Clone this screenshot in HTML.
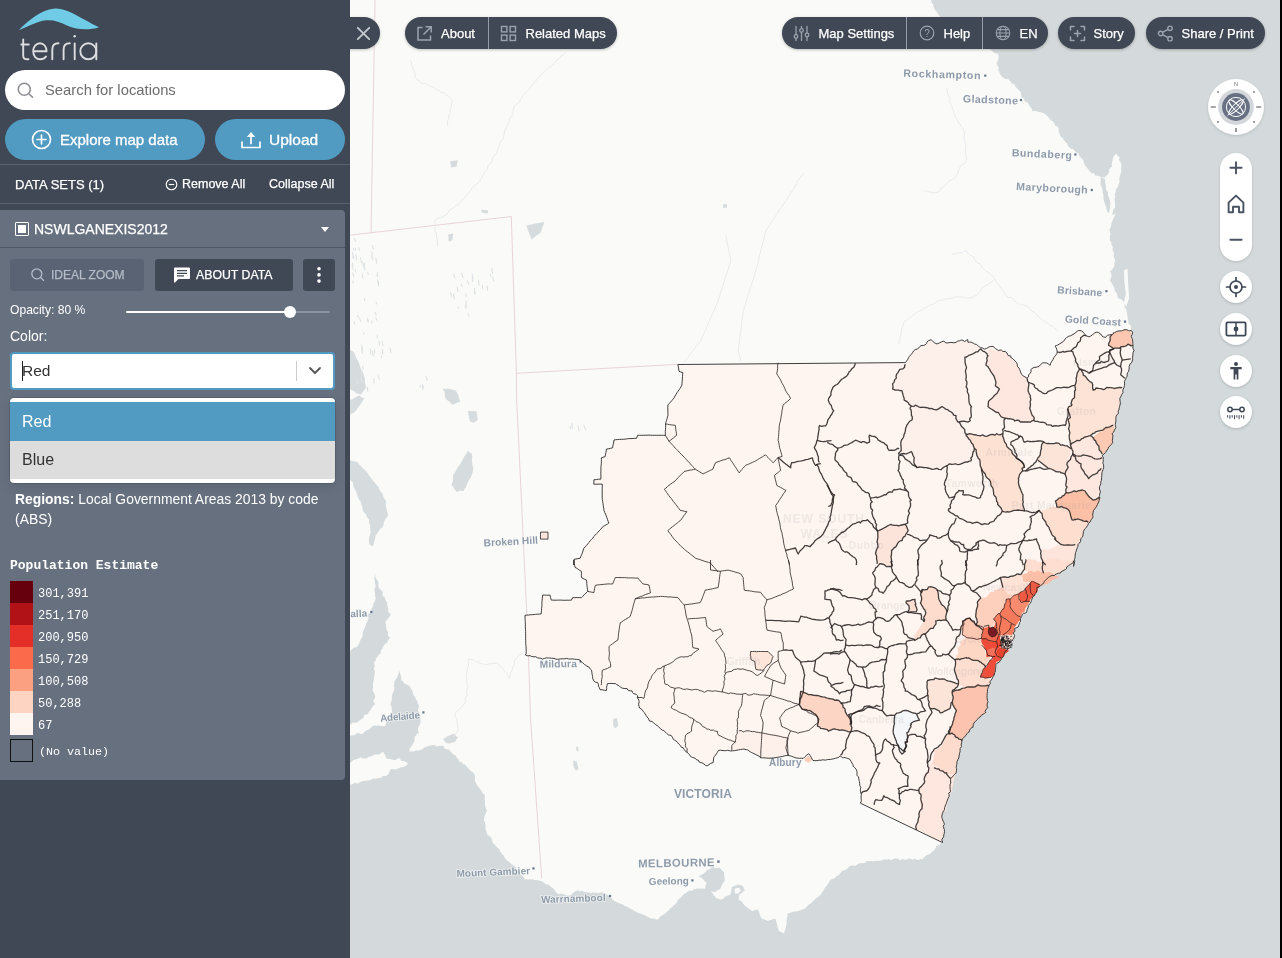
<!DOCTYPE html>
<html lang="en">
<head>
<meta charset="utf-8">
<title>Terria Map</title>
<style>
*{box-sizing:border-box;margin:0;padding:0}
html,body{width:1282px;height:958px;overflow:hidden;background:#d4d9dc;font-family:"Liberation Sans",sans-serif;}
#app{position:relative;width:1282px;height:958px;overflow:hidden;}
.abs{position:absolute}
#map{will-change:transform;transform:translateZ(0);position:absolute;left:350px;top:0;width:930px;height:958px;background:#d4d9dc;overflow:hidden}
#edge{position:absolute;left:1280px;top:0;width:2px;height:958px;background:#000}
#side{will-change:transform;transform:translateZ(0);position:absolute;left:0;top:0;width:350px;height:958px;background:#3f4854;color:#fff}
/* sidebar */
#search{position:absolute;left:5px;top:69.5px;width:340px;height:40px;border-radius:20px;background:#fff}
#search span{position:absolute;left:40px;top:12px;font-size:14.8px;color:#6d6d6d}
.bigbtn{-webkit-text-stroke:.3px #fff;position:absolute;top:119px;height:41px;border-radius:21px;background:#519ac2;color:#fff;font-size:16px}
.bigbtn span{position:absolute;top:11px;white-space:nowrap}
.hr{position:absolute;left:0;width:350px;height:1px;background:#566070}
#dshead{-webkit-text-stroke:.25px #fff;position:absolute;left:0;top:166px;width:350px;height:38px;font-size:13px}
#dshead span{position:absolute;top:11px;white-space:nowrap}
#panel{position:absolute;left:0;top:210px;width:345px;height:570px;background:#66707f;border-radius:0 4px 4px 0}
#phead{-webkit-text-stroke:.25px #fff;position:absolute;left:0;top:0;width:345px;height:38px;border-bottom:1px solid #4d5766}
.sbtn{-webkit-text-stroke:.25px currentColor;position:absolute;top:48.5px;height:32px;border-radius:3px;font-size:13px}
.sbtn span{position:absolute;top:9px;white-space:nowrap}
#select{position:absolute;left:10px;top:142px;width:325px;height:38px;border:2px solid #519ac2;border-radius:4px;background:#fff;color:#333}
#menu{position:absolute;left:10px;top:188px;width:325px;height:85px;background:#fff;border-radius:4px;box-shadow:0 0 0 1px rgba(0,0,0,.1),0 4px 11px rgba(0,0,0,.1)}
.opt{position:absolute;left:0;width:325px;height:38.5px;font-size:16px}
.opt span{position:absolute;left:12px;top:10.5px}
.leg{position:absolute;left:10px;width:23px;height:22px}
.legt{position:absolute;left:38px;font-family:"Liberation Mono",monospace;font-size:12px;color:#fff;white-space:nowrap}
/* top bar */
.pill{position:absolute;top:17px;height:32px;background:#3f4854;color:#fff;font-size:13px;box-shadow:0 1px 3px rgba(0,0,0,.25);-webkit-text-stroke:.25px #fff}
.pill span{position:absolute;top:8.5px;white-space:nowrap}
.circ{position:absolute;left:870px;width:32px;height:32px;border-radius:16px;background:#fff;box-shadow:0 1px 3px rgba(0,0,0,.18)}
.maplbl{position:absolute;font-size:10px;color:#8c99a8;font-weight:bold;white-space:nowrap;letter-spacing:.2px}
</style>
</head>
<body>
<div id="app">
<div id="map">
<svg class="abs" style="left:0;top:0" width="930" height="958" viewBox="350 0 930 958">
<rect x="350" y="0" width="930" height="958" fill="#fafaf8"/>
<path d="M930.9 -0.6 L931.4 2 L932.1 3.6 L933.7 4.6 L933.1 5.6 L933.7 7.3 L935.2 10.2 L937 12 L937.8 14.1 L939.2 15.5 L940.3 16.8 L940.9 17.6 L942.1 18.3 L942.3 19.1 L943.4 19.7 L945.4 21.5 L947.2 23 L948.8 24.8 L950.9 26.3 L952.3 27 L953.2 28 L954.3 28.4 L955.9 29.6 L957.5 30.9 L959 32.1 L960.1 32.5 L961.3 34 L963.5 35.2 L965.4 35.3 L967.2 36.1 L969 37.2 L971.2 38.5 L973 39.8 L974 41.2 L975.3 42.7 L977.4 43.8 L979.1 44.1 L980.8 45.1 L983 46.5 L984.2 47 L986.3 46.6 L987.6 48.1 L988.7 48.7 L989.5 49.2 L991.9 50.4 L993.4 52.2 L994.9 53.3 L997.8 53.5 L998.4 55 L998.7 57.1 L998.3 59.3 L997.4 61.6 L996.5 63.8 L997.6 66.1 L998.3 66.6 L998.7 67.8 L998.1 70.4 L999.4 71.8 L999.7 73.5 L1000.1 74.3 L1002.1 77.1 L1004.3 78.3 L1005.1 79 L1007.3 78.8 L1008.7 79.4 L1010.6 81.7 L1011.7 83.5 L1013.5 83.8 L1014.8 84.8 L1015.1 86.3 L1016.8 88.1 L1018.9 90.3 L1019.8 91.1 L1020.7 92.3 L1021 94.6 L1021.3 96.7 L1023.6 98.6 L1024.2 100.2 L1025.6 101.9 L1027.8 102.6 L1028.6 104.6 L1030.8 107.2 L1031.9 109.1 L1032.5 111.3 L1033.9 111 L1036.2 111.2 L1038.2 111.7 L1040.8 112.2 L1041.5 112.6 L1043.7 113.2 L1044.8 113.9 L1046.4 115 L1047.8 116.6 L1048.9 117.6 L1049.8 119.1 L1051 120.6 L1053.1 121.3 L1054.5 123.7 L1055.3 125.8 L1057.9 126.8 L1058.6 128.4 L1058.5 131.3 L1058.9 132.6 L1059.6 133.6 L1060.4 136.3 L1061.7 137.6 L1063.2 138.3 L1063.7 139.9 L1064.9 141.4 L1066.4 142.8 L1067.2 143.4 L1068.2 146.4 L1070.2 148.1 L1071 148.7 L1072.3 148.9 L1073.9 150 L1076.1 152.4 L1077.3 152.8 L1078.9 153.8 L1079 155.5 L1080.3 157 L1081.8 158.6 L1083.4 160.5 L1083.7 162.1 L1084.4 164.3 L1085.6 166.2 L1086.9 167.6 L1088 168.9 L1089.5 171 L1091.7 173.3 L1092.9 173.1 L1094.6 173.5 L1094.7 175.3 L1096.3 175.5 L1098.8 176.2 L1100.5 176.7 L1102.2 176.9 L1105 177.6 L1105.7 176 L1107.9 174.5 L1109.1 172 L1109 169.9 L1109.5 168.5 L1110.9 167.3 L1112 166.7 L1111.7 164.9 L1111.9 162.9 L1112.5 160.8 L1112.7 159.1 L1113.6 157.1 L1114.2 155.2 L1115.1 155.1 L1116.6 153.6 L1117.2 155.2 L1117.7 156 L1119.3 156.8 L1119.7 157.9 L1118.8 159.7 L1120.5 162.1 L1121.2 164.3 L1121.6 165.1 L1121.2 167.4 L1120.9 169.5 L1121.4 171.8 L1120.5 174.1 L1119.8 175.8 L1119.7 177.2 L1119.4 178.3 L1119.3 180.2 L1119.7 181.5 L1118.8 183.4 L1118.1 186.4 L1117.1 188.2 L1115.7 189.2 L1116 190.9 L1115.6 192.8 L1114.4 195 L1115.5 196.4 L1114.8 198.2 L1114.4 199.7 L1115.1 201.8 L1115 203.4 L1115.1 205.3 L1115 207.7 L1113.4 209.5 L1112.8 211.5 L1112.6 213.6 L1111.9 214.9 L1115.6 214.1 L1115 215.3 L1113.8 217.5 L1112.9 219.8 L1112 222.1 L1111.4 223.4 L1111.4 225.1 L1110.9 226.6 L1109.9 228.9 L1109.3 230.1 L1109.8 231.6 L1110.8 234 L1109.9 235.6 L1109.9 238.4 L1110.1 241.1 L1111.2 242.3 L1111.4 243.5 L1111.7 244.9 L1112.9 246.9 L1112.4 248.8 L1112.8 250.2 L1113.5 251.4 L1113.9 253.1 L1113.5 256.1 L1114.6 258.4 L1115.4 260.9 L1114.4 262.8 L1114.3 264.8 L1114.2 266.4 L1113.8 266.9 L1112.8 268.5 L1111.6 270.6 L1109.9 271.3 L1111.1 273.5 L1111.6 276 L1110.8 278.5 L1109.9 280.8 L1111 282.1 L1112.5 284.4 L1113.8 287 L1114.3 287.7 L1114.7 289.8 L1114.8 291 L1116.3 292.4 L1117.3 295.3 L1118.1 298.3 L1120 298.7 L1122.1 300.1 L1123.4 301.7 L1124.3 302.5 L1124.8 305 L1124.7 307.9 L1125.9 308.6 L1126.3 310.1 L1126.9 312 L1127.2 314.6 L1127.7 318.5 L1128 319.4 L1128.5 321 L1128.6 324.1 L1129.7 324.4 L1130.4 325.2 L1131 326.4 L1130.9 329.5 L1132 331.3 L1131.3 330.5 L1132.6 332.2 L1132.3 334.2 L1131.2 336.3 L1132.1 338.4 L1132.5 339.5 L1132.7 341.4 L1132.8 343.7 L1133 346.1 L1132.9 348 L1133.3 349.4 L1134.2 350.1 L1133.1 352.3 L1132.9 354.7 L1132.6 357.3 L1132.6 359.8 L1131.8 362.2 L1131.2 363.1 L1130.3 363.6 L1129.1 366.4 L1129.2 367.2 L1129 369.3 L1128.5 371.7 L1127.6 372.6 L1127.1 374.2 L1127.2 376.1 L1126.3 377.4 L1125.5 379.3 L1124.4 381.6 L1124.6 383.1 L1124.5 385.6 L1124 387.3 L1123.1 389.4 L1122.7 391.1 L1123.2 392.2 L1121.7 394.6 L1120.8 396.7 L1119.8 398.4 L1120.1 401.5 L1120.4 402.9 L1120 405 L1119.4 407.3 L1118.9 409.9 L1118.2 410.9 L1118.2 411.9 L1118.5 413.2 L1116.9 415 L1116.1 416.2 L1115.9 418.6 L1115.8 422.1 L1115.2 424.3 L1115.4 425.9 L1116 427.2 L1115 429 L1114.3 430.7 L1113.7 432.1 L1112 433.7 L1112.8 435.4 L1112.8 437.6 L1112.3 440.3 L1112.7 442.6 L1111.5 444.2 L1110.4 445.6 L1108.6 447.1 L1108.1 448.6 L1107.1 450 L1105.4 452.6 L1104.2 453.9 L1101.9 455.7 L1103.2 456.9 L1103.2 459.7 L1103.2 461.8 L1102.8 462.9 L1103.6 464.9 L1103.7 467.3 L1103.2 469.4 L1102.4 471.1 L1101.9 472.8 L1101.8 475.4 L1101.6 477.8 L1101.4 480.4 L1100.8 481.8 L1100.8 483.1 L1100.8 483.9 L1100.1 485.5 L1099.4 486.9 L1099.5 489 L1100.4 491.6 L1099.8 493.8 L1099.5 495.4 L1099.1 496.6 L1099.4 498.5 L1099.2 500 L1098.6 502 L1097.4 504.5 L1096.7 506.2 L1095 508.5 L1093.5 510.5 L1092.8 513.9 L1092.7 515.2 L1092.9 516.7 L1092.7 517.8 L1091.9 518.9 L1091.1 519.8 L1090 522 L1088.5 523.4 L1087.8 525.2 L1086.4 527.2 L1085.2 528.7 L1084.1 529.9 L1083.4 531.7 L1083.2 533.8 L1082.8 536.1 L1082 537.4 L1080.9 538.7 L1080.5 541.5 L1079.2 543.3 L1078.1 544.4 L1077.8 546.7 L1077.3 547.7 L1076.8 548.9 L1076.3 550.8 L1075.6 552.4 L1075.2 555.1 L1075 557.5 L1074.5 559.4 L1074.7 561.5 L1073.9 564 L1073.5 566.4 L1074.1 563.5 L1073.4 560.8 L1073.3 562.6 L1072.1 563.5 L1070.5 564.3 L1068.6 565.6 L1066.7 566.9 L1066.6 568.5 L1065.6 569.3 L1063 570.8 L1061.1 571.8 L1060.4 573 L1058.5 573.3 L1056.6 573.9 L1054.6 574.9 L1054.4 575.6 L1051.9 575.5 L1049.8 576.5 L1048.5 577.4 L1046.3 579.3 L1044.4 581.3 L1044.1 582.3 L1042.8 584 L1040.6 585.6 L1039.1 586.9 L1036.9 587.2 L1037 590 L1036.4 592.2 L1035.3 593.4 L1034.9 594.6 L1034.4 595.8 L1032.6 596.9 L1032.2 598.6 L1031.5 600.3 L1031.3 601.5 L1030 603.5 L1028.2 605.7 L1028.3 607 L1027.2 609.3 L1026.6 612.1 L1025.8 613 L1023.4 613.5 L1022.2 614.5 L1021.6 616.6 L1020.5 618.5 L1020.4 621.6 L1019.5 622.7 L1019.1 624.4 L1018.1 627.1 L1015.8 628 L1014.6 628.4 L1014.9 631.2 L1014.1 632.2 L1013.2 632.8 L1014.6 635.4 L1014.2 637 L1013.5 639 L1011.4 641 L1009.8 642.6 L1008.3 644.5 L1007.8 647.9 L1007.3 649.9 L1006.4 650.3 L1005 651.6 L1004.2 653.8 L1003.7 655.7 L1002.9 657.1 L1002 657.6 L1001.1 659.6 L999.9 661.1 L999 662.4 L997 663.1 L995.8 664.6 L995.8 666.5 L995.5 669.2 L995.2 672.4 L994.5 673 L994.2 675 L992.9 676.9 L992.1 678.8 L989.9 681.8 L990.4 683.2 L989.1 685.4 L988.2 687.8 L987.5 689.3 L987.5 691.7 L987.2 693.4 L987.1 695.5 L987 697.2 L987.4 700.3 L988 701.3 L987.2 704 L987.1 706.6 L988 707.2 L986.5 709 L985 711.3 L985.8 712.4 L984.7 713.2 L981.5 715.2 L980 717.1 L978.8 717.7 L977.3 719.5 L975.7 721.2 L973.9 723 L973.3 724.7 L973 727.3 L972 727.2 L969.8 729.8 L968.9 732.2 L967.9 732.6 L966.6 734 L966 735.4 L963.8 737.5 L962.2 739 L962.1 740.4 L961.6 742.8 L961.1 745 L961.5 746.6 L960.1 748.7 L960.1 750.5 L960.1 751.6 L959.5 753.5 L959.1 756 L958.8 758 L958.1 759.2 L957 761.7 L956.9 763.7 L956.5 765.7 L956.2 767.6 L956.6 768.4 L956.5 770.6 L956.1 772.8 L954.7 774.3 L953.2 775.9 L952 777.6 L950.3 778.3 L950.5 779.5 L950.8 783.1 L950.1 784.2 L950 786.6 L950.2 789.4 L950.6 791.7 L948.6 793.2 L949.1 794.5 L949.2 796.3 L948.2 798.2 L946.8 801.8 L946.4 803.4 L945.5 805.1 L944.7 807.5 L944.4 809.8 L943.2 811.7 L942.3 813.9 L941.8 816.2 L942 818.6 L942.4 818.9 L943 821 L943.8 822.3 L944.4 824.4 L943.2 826.2 L944.3 829.5 L944.5 831.6 L944.2 833.6 L943.5 836.3 L943.8 836.4 L941.9 839.5 L942.2 841 L942.6 842.6 L940.3 843.7 L939.4 844.8 L938 845.4 L936.2 845.8 L936 847.7 L934.8 848.9 L933.9 850.4 L932.5 851.6 L931.3 852.5 L930 854 L928.3 854.4 L925.7 855.7 L924 857.2 L923 859.2 L920.6 859.1 L918.4 859.9 L916.3 859.8 L914.9 858.5 L912.8 859.8 L911 858.8 L909.3 858.5 L907.3 859 L905.5 860.1 L903.5 859.3 L901.8 859.1 L900.7 860.4 L897.5 858.4 L895.6 858.2 L893.6 858.7 L891.2 860.3 L889.1 858.9 L887.8 858.9 L887.3 860.1 L885.3 859.2 L884 859.6 L882.6 860 L880 860.7 L877.9 860.8 L875.8 860.8 L873.9 861.3 L871.3 861.1 L868.9 861.3 L866.5 861.1 L865.8 862.3 L864.5 863.1 L862.4 863.3 L859.7 863.2 L858.8 863.5 L857 864.7 L855.3 865.9 L853.6 865.4 L851.8 865.6 L849.9 866 L848.9 867 L847.5 868.2 L845.6 869.9 L843.2 870.3 L841.5 871.4 L840 873.8 L838.5 875.3 L836.5 876.2 L835.9 877 L834.3 878.4 L832.2 879 L830.1 880.3 L828.7 882.4 L827.7 884.3 L826.5 886.1 L825.1 887.5 L824.3 888.7 L823.2 890.9 L822 892.5 L820.6 894.7 L818.8 896.5 L817.6 897.3 L815.6 898.6 L814.4 899.9 L812.8 901.2 L811.7 902.7 L809.7 903.9 L808.2 905.3 L806.5 907.1 L805.2 908.4 L803.7 909.1 L801.5 910.1 L799.6 910.6 L797.6 911 L796.1 911.6 L793.8 911.6 L791.8 912.2 L789.7 913 L787.6 913.3 L787.6 915.3 L787.1 917.7 L786.7 919.5 L786.6 921.5 L786.7 923.5 L786.1 925.6 L785.8 927.6 L785.3 929.4 L784.7 931.3 L783.8 933.4 L782.3 932.5 L780.5 931.8 L778.9 931.1 L778.4 929.4 L777.8 927.7 L777.4 925.6 L777 923.9 L776.4 921.9 L775.9 920.1 L775.3 918.4 L773.4 919 L771.5 919.7 L769.7 920.3 L767.7 920.9 L765.6 920.1 L763.5 919.3 L761.5 918.5 L760.8 916.7 L759.8 915.1 L759 912.3 L758.2 910.6 L757.9 909.4 L755.4 910 L752.5 911 L751.3 910.6 L750.1 909.5 L748.6 908.6 L746.5 907 L744.7 905.5 L742.9 903.5 L741.9 901.6 L740.3 900.8 L738.8 899.9 L738.7 897.5 L739.6 894 L741.1 893.4 L742.7 891.7 L744.7 890.6 L744 888.5 L742.8 886 L740.9 884.9 L738.9 884.8 L736.9 885 L735.2 885.8 L734.2 885.9 L732 887.3 L731.3 889.4 L731.3 892.1 L730 895.1 L728.1 895.4 L726.1 896.2 L724.4 896.9 L724.1 898.3 L722.9 898.8 L720.8 899.8 L719 898.9 L717.2 898.5 L715.6 897.6 L714.5 896.1 L713 894.2 L712 892.5 L710.2 890.9 L713.2 891.7 L715.2 892.3 L716.6 890.6 L718.4 889.7 L719.9 889.5 L720.9 887.5 L721.9 885.2 L723.3 882.4 L724.9 880.4 L724.5 878 L724.3 875.9 L724.1 874.1 L724 872.3 L722.3 870.8 L721.4 869.6 L719.3 867.8 L717 867.9 L714.1 867.8 L712.5 867 L710.5 868.3 L709.2 869.5 L706.9 870.1 L705.8 872.1 L704.8 872.6 L703.4 873.8 L701.1 875.1 L699.3 875.9 L698.3 876.2 L699.9 877.1 L701.7 878 L703 879.2 L704.5 881.2 L706.7 882.7 L706.1 884.2 L705.5 886 L705.5 888.6 L703.5 888.7 L701.5 888.6 L699.8 888.7 L697.7 888.4 L695.6 888.9 L693.8 889.2 L692 891 L689.9 890.6 L687.6 891.7 L685.9 892.9 L684.3 893.9 L682.8 895 L682.3 896 L680.9 897.5 L679.2 898.6 L677.6 900.5 L676.8 902.5 L675.1 904.4 L673.4 905.4 L672.2 907.3 L670.2 908.3 L669.2 909.7 L667.8 911 L666.1 912.6 L664.9 913.8 L663.9 914.4 L662.4 915.3 L660.4 916.5 L659.6 917.6 L658.5 918.9 L656.7 919.7 L654.8 918.7 L653.4 918.5 L651 918.4 L648.9 917.4 L646.8 916.3 L644.6 914.9 L642.5 914.2 L640.9 913.7 L638.7 912.9 L637 912.3 L635.6 911.6 L634.4 911.1 L632.5 909.6 L631 908.9 L629.4 907.9 L627.8 907 L625.6 906.3 L623.8 905.6 L622.8 904.6 L620.4 903.7 L618.8 903 L616.5 902 L614.3 901 L612.6 899.6 L611.6 898.1 L610.4 897 L608.1 895.5 L607 894.8 L605.9 893.5 L604.2 892.7 L602.2 892.5 L600.2 892.5 L598.5 892.9 L596.5 892.8 L594.4 892.6 L592.3 892.5 L590.3 893.3 L588.1 892.6 L586.1 892 L584.3 891.9 L582.9 891.2 L581.4 890.8 L579.8 891.5 L578.1 890.3 L576.5 890.7 L574.2 891.9 L572.7 893.2 L571.1 895.1 L569.8 895.5 L567.8 895.5 L566 895.4 L564.9 894.8 L563.3 894.2 L561 893.5 L559.5 894.3 L557.7 893.7 L555.4 891.6 L554.5 889.9 L552.7 888.1 L550.8 886.7 L549.4 885.5 L548.7 885.1 L546.8 884.5 L544.9 883.7 L544 882.8 L542.3 881.6 L540 880.8 L537.8 880.3 L535.8 880.3 L534.4 880 L533 879.4 L530.4 879.3 L528.5 879.4 L526.7 879.3 L525 879.5 L523.5 877.1 L522 875.8 L520.9 874 L519.5 873.1 L517.3 870.9 L516.3 868.8 L515.6 866.9 L514.2 865.6 L511.2 864.3 L510.5 862.8 L509.1 862.2 L508.4 861.2 L507.2 860.7 L505.1 858.4 L503.8 855.8 L501.9 853.9 L501.1 852.6 L500.1 851.5 L499.8 850.6 L499.5 849.2 L498.2 848.4 L495.9 846.1 L494 844.1 L492.2 841.8 L492.1 840.3 L491.5 837.9 L490.7 837 L489.1 835.9 L487.1 834.3 L486.5 831.8 L486.2 830.7 L485.5 828.8 L485.5 826.1 L485.3 824.4 L484.9 822.1 L484 820.5 L483.7 820 L484.2 818.2 L484.4 816.6 L485.8 813.6 L485.9 812.5 L487.3 810.7 L486.3 809.8 L485.9 808.2 L485.1 806.1 L484.9 803.6 L484.9 800.6 L484.7 798.7 L484.7 797.9 L485 796.4 L484.7 794.6 L483.5 794.3 L482.5 792.6 L481.6 791.2 L480.4 789.3 L478.5 787 L477.5 785.7 L475.9 783.1 L475.6 781.9 L474.8 780.8 L475 778.7 L475.1 776.5 L474.6 774.4 L473 772.6 L471.1 771.1 L469.6 769.7 L468.7 768.8 L467.1 766.9 L466.3 766.2 L465.2 764.4 L462.9 763.9 L461.9 762.1 L461.6 762.2 L459.2 761.6 L458.7 759.8 L456.9 758 L455.6 755.4 L454 754.7 L452.7 753.5 L451.1 752.1 L449.9 751.3 L448.9 749.5 L446.5 749.2 L444.7 748.9 L443.9 746.3 L441.9 745.7 L439.4 745.8 L436.2 746.6 L435.3 745.3 L432.9 745 L431.1 745.5 L429.5 745.5 L427.5 746.6 L426.1 746.7 L424.7 747.5 L422.2 749.2 L420.2 750.1 L418.2 750.7 L416 750.4 L414.6 750.9 L413.4 751.8 L412.2 751.3 L410.6 751.6 L409 751.8 L410 750.4 L409.3 749 L410.6 747.3 L412.3 745.2 L412.8 743.5 L413.8 742.4 L414.6 740.3 L414.5 737.2 L416.2 735.1 L417 733.5 L419.2 733.3 L418.1 731.2 L418 729.1 L418.2 726.9 L419.2 725.6 L420 724.2 L420.5 722.9 L420.6 721 L420.3 718.3 L420.2 716 L419.4 714.3 L419.2 712.6 L418.3 711.1 L417.9 709.4 L419.2 706.6 L418.4 704.7 L417.6 702.5 L417.5 701.3 L415.6 699 L415.5 697.9 L415.3 697 L413.6 695.2 L412.8 692.4 L412.1 689.9 L410.7 688.7 L409.9 686.6 L408.9 685.7 L406.9 684.2 L404.9 684.1 L403.4 682.3 L402.9 680.7 L401 680.5 L401.5 678.1 L400.7 676.3 L400.5 674.5 L400 673.4 L399.4 670.8 L398.3 673.8 L397.5 676.2 L396.6 678.2 L395.3 679.7 L394.1 682.3 L394.3 684 L394.2 684.9 L393.6 685.7 L394.4 687.2 L394.3 689.1 L393.5 691.6 L392.4 694 L391.9 695.4 L391.8 696.7 L392.1 699 L391.2 701.4 L390.6 703.2 L390.3 704.2 L391.3 706.1 L391.8 708.9 L392.1 711.7 L391.4 713.8 L389.9 716 L389.1 716.6 L388.4 717.8 L387.6 720 L386.2 722.3 L386 723.7 L385.2 725.9 L384.1 726.2 L381.4 725.9 L378.4 725.5 L376.1 725.8 L373.6 725.4 L372 726.8 L370.5 728.3 L369.7 729.1 L367.7 730 L365.6 731 L364.2 732.2 L362.2 733.9 L360.4 734.1 L358.6 733 L357 733.2 L355.6 734.1 L354.3 735.4 L352.6 735.2 L350.9 735.4 L349 735.9 L345.4 737.4 L344.2 736.5 L342.2 736.9 L340 736.7 L340 958 L1282 958 L1282 0 Z" fill="#d4d9dc"/>
<path d="M376 574.1 L375.3 576.1 L375.8 577.9 L376.8 579.7 L378.4 581.9 L378.3 586.1 L378.9 588 L380 589.1 L381.1 590.2 L382.6 591.5 L382.6 594 L382.7 595.9 L384.5 597 L385.1 598.5 L385.6 600.5 L387.3 602.8 L387 604.1 L387.7 607 L388.3 609.5 L388.1 611.8 L389.5 613.3 L390.7 613.8 L390.5 615.5 L389.7 616.6 L388.4 617.8 L387.7 619 L386.5 620.3 L385.3 622.1 L386.2 624.5 L385.9 626.3 L386.5 628.7 L387 630.7 L388.3 632 L387.6 634.9 L388.8 636.4 L390.2 637.8 L387.9 640.4 L387.7 641.2 L387.1 643.1 L385.4 643.6 L384.1 645.3 L382.8 647.3 L382.3 649 L380.8 650.4 L380.7 653.5 L378.9 654.3 L378.3 655.7 L376.8 657.6 L375.8 659.3 L375.8 660.4 L373.9 662.5 L374.6 665.4 L375 667.1 L374 667.6 L374.1 669.5 L375 671.3 L374.8 673.2 L374.3 675.5 L374 678.6 L373.6 680.4 L373.2 682 L372.9 684.1 L373.1 687.2 L372.5 689.4 L372.9 691.1 L374 692.7 L374.3 693.7 L374.9 695.3 L375.2 696.9 L374.9 698.3 L373.1 700.7 L374.3 702.6 L375.1 704.4 L373.1 705.8 L371.2 709 L370.2 710.5 L368.7 712.1 L367.8 714.1 L365.9 714.5 L364 715 L363.8 717 L362.7 718.4 L359.4 720.4 L357.6 722.2 L355.2 722.8 L353.1 722.4 L351 724 L350 724.9 L348.4 724.8 L346.7 724.8 L344.1 724.7 L341.8 724.6 L340 725.4 L339.4 652.2 L341.8 651.9 L344.2 651.9 L346.4 652.9 L347.9 651.9 L349.6 651.4 L350.6 650.8 L351.8 649.4 L353.9 647.8 L356.1 647.2 L357.7 645.9 L358.8 644.4 L359.7 642 L360.9 639.2 L361.6 638.3 L361.9 637.2 L362.7 636 L362.8 634.1 L363.2 631.5 L363.7 629.5 L365.2 627 L365.7 625.2 L366.4 623.3 L367 622.1 L367.7 620.8 L368.6 618.1 L367.8 615.7 L367.8 614.1 L370.3 613 L370.4 611.6 L371.2 610.3 L371.9 608.3 L372.8 606.2 L373.3 604.8 L373.4 603 L374.4 602.5 L375.1 600.5 L375.8 597.9 L375 596.2 L375 594 L374.6 591 L374.6 588.6 L375.4 587.3 L375.5 586.1 L375.1 583 L374.6 580.5 L374.3 578.2 L374.8 576.2 Z" fill="#d4d9dc"/>
<path d="M340 761.6 L341.3 762 L343 762.1 L344.8 761.7 L346 762.7 L348.5 763.2 L351 762.4 L353.3 760.3 L354.7 759.8 L356.5 759 L358.6 758.4 L360.9 757.3 L362.4 758.4 L364.2 758.5 L366.1 758.4 L368.3 757.1 L369.9 756.6 L370.8 756.4 L373.9 755 L375.5 754.3 L377.3 754.6 L379 754.5 L381.1 752.9 L383.4 751.4 L383.8 753.3 L385.5 755.6 L385.7 756.9 L386.9 758.8 L389.8 759 L392.8 759.8 L394.9 759.9 L396.2 759.7 L396.9 759.1 L399.9 758.1 L400.5 759.7 L401.6 760.9 L404.6 761.2 L406.6 762.5 L408.1 763.9 L405.6 766.1 L402.8 767.2 L401.6 767.2 L400.4 767.4 L398.2 768.5 L395.9 769.2 L394.3 769.6 L392.8 769 L390.7 769.1 L390.2 770.5 L389.2 772.1 L388.7 774.1 L387.7 774.6 L386.6 776.1 L384.7 775.8 L382.6 776.3 L380.3 777.9 L378.3 778.1 L376.9 778.5 L375.7 778.8 L373.7 778.6 L371.7 779.4 L369.6 780.3 L367.3 780.6 L365.8 780.7 L363.7 781 L361.4 781.5 L360.2 782 L358.6 783.1 L356.9 783.8 L355.1 782.6 L351.8 784.4 L349.9 784.4 L348.6 783 L345.4 784.1 L343.2 783.9 L340.8 783.8 L338.8 783.5 L339.6 781.4 L340.2 779.3 L339.6 778.1 L339.4 775.2 L340 773 L340.5 771 L338.9 769.2 L338.9 767.8 L339.8 766 L340.7 764 Z" fill="#fafaf8"/>
<path d="M1124 270.2 L1127.5 269 L1128.2 284.2 L1129.1 298.2 L1126.3 306.4 L1124 302.9 L1125.8 293.6 L1124.4 281.9 Z" fill="#fafaf8"/>
<path d="M734.7 888.8 L739 887.5 L740.9 890.6 L737.8 893.8 L734.7 893.1 Z" fill="#fafaf8"/>
<path d="M1100.4 176.9 L1102.6 177.7 L1105.2 179.2 L1105.1 181.3 L1105.1 183.2 L1105.8 185 L1105.9 186.7 L1106 188.5 L1106.4 190.2 L1108 192 L1107.9 194.1 L1108.2 195.8 L1108.9 197.1 L1109.4 198.9 L1110 200.7 L1110.4 203 L1110.3 205.2 L1110.1 207.2 L1109.7 209.3 L1109.2 211.3 L1109.2 213.6 L1106.9 211.2 L1106.6 209.4 L1106.4 207.3 L1105.2 205.1 L1104.4 202.6 L1104 200.7 L1103.5 198.6 L1103.5 196.6 L1103.3 194.6 L1102.7 192.7 L1102.6 190.1 L1102 188.1 L1101.2 186.3 L1100.6 185 L1100.5 182.8 L1100.7 180.7 L1100.8 178.7 Z" fill="#d4d9dc"/>
<g fill="#d6dbde"><path d="M349.8 460 L351.5 460.7 L353.3 461.1 L355.2 461.8 L357.1 462.1 L358.5 463.5 L360 465.6 L361.7 466.7 L362.8 468.4 L364.4 469.7 L366.1 471.2 L368.1 473.5 L368.6 474.9 L369.9 476.7 L370.7 477.5 L371.7 478.9 L373.4 481 L374.6 482.5 L375.7 484 L377.1 485.4 L378.5 486.9 L379.1 489.2 L380.2 490.9 L381.5 492.6 L382.7 493.8 L383.1 495.6 L383.4 497.5 L384.1 498.6 L385.4 500.1 L386.3 501.9 L385.6 503.5 L385.8 505.7 L386.1 507.6 L386.9 509.5 L386.9 511 L387.5 513 L388.2 515.2 L387.1 517.2 L385.7 518.7 L384.5 520.7 L383.9 522.1 L383.8 523.9 L383.2 525.5 L382.4 527.6 L380.5 528.6 L379.4 530.2 L377.9 532.2 L377 534 L375.6 535.2 L375.3 537.5 L374.8 539.6 L374.2 541.5 L373.8 543.7 L373.2 546.2 L371 545.4 L369.3 544.2 L369.1 542.2 L368.8 540 L369.1 537.6 L369.9 535.8 L370.2 534 L370.7 532.2 L370.2 530.3 L370.4 528.8 L370 527.1 L370 524.9 L369 522.6 L369.1 520.9 L369 519.4 L367.6 518 L366.6 516.4 L366 514.3 L364.2 512.6 L363.2 511.3 L362.8 510 L362.5 508.5 L362.1 506.6 L361.1 504 L361.2 502.4 L360.1 501.1 L359 499.4 L357.8 496.8 L357.4 495.2 L356.9 493.8 L356.2 491.9 L355.2 490.1 L354.4 488.3 L353.6 487 L353.2 484.6 L352.9 482.6 L351.5 481.5 L349.9 479.6 L348.7 478.3 L346.8 477.2 L345.5 475.8 L346.3 474.1 L346.6 472.1 L347 470.2 L347.4 467.5 L348.5 465 L348.9 463.3 L349.3 461.5 Z"/><path d="M467.6 450.8 L469.5 452.2 L471 453.3 L472.1 453.9 L472.1 455.8 L472.4 457.6 L471.9 459.5 L472.1 461.5 L472.3 463.4 L472.3 465.5 L473.4 467.6 L473.2 469.5 L472.9 471.4 L472.4 472.8 L471.6 475.6 L470.9 477.4 L470.1 478.2 L468.7 480.6 L467.8 482.3 L467.1 483.6 L466.6 485.6 L465.9 487.5 L464.4 488.8 L463.7 490.8 L462.2 491.1 L459.9 490.5 L458.4 491.6 L457 492.1 L455.6 490.5 L454.2 488.7 L453 486.6 L451.5 485.1 L452 483.1 L452.8 481.8 L453.1 480 L453.1 477.7 L453 475.2 L454.3 473.4 L455.2 471.9 L456 470.7 L457.2 468.5 L458 466.8 L459.3 465.2 L460.1 464.3 L460.9 462.8 L462 461.1 L463 459.2 L463.8 457.3 L465 455.6 L466.1 454.1 L467.2 452.5 Z"/><path d="M468.3 411.3 L476.6 411.3 L477.8 420.1 L473.3 423.1 L469 418.8 Z"/><path d="M526.3 225.6 L528.1 225.2 L529.9 224.8 L531.7 224.5 L533.6 224.1 L535.4 223.6 L537.1 223.3 L538.9 222.9 L540.8 222.6 L542.6 222.3 L544.4 222 L543.8 223.8 L543.1 225.6 L542.4 227.5 L541.7 229.3 L541.1 231.2 L540.4 233 L538.9 234.1 L537.4 235.1 L535.9 236.2 L534.4 237.2 L532.9 238.4 L531.4 239.5 L530.8 237.8 L530.2 236.1 L529.5 234.2 L528.8 232.5 L528.3 230.8 L527.6 229.1 L526.9 227.3 Z"/><path d="M450.2 161.3 L457.7 160.3 L456.7 166.4 L451.2 167.4 Z"/><path d="M448.2 234.5 L453.2 233.5 L452.2 240.5 L448.7 241.5 Z"/><path d="M346.5 346.8 L348 348 L350 349.5 L351.3 350.8 L353.1 351.2 L354.2 353.2 L355.6 355.8 L356.2 357.7 L356.6 359.1 L357.9 360.1 L358.7 362.5 L359.4 364.6 L360.2 366.2 L360.6 368 L361.6 369.9 L362.9 372 L363.1 373.2 L363.8 374.8 L364.1 376.5 L365 378.9 L364.9 380.5 L364.7 382.1 L365.4 384.2 L365.7 385.9 L366 387.6 L365.2 389.1 L363.6 390.8 L362.3 392.7 L360.9 394.6 L358.1 393.7 L355.6 392.8 L354.3 391.2 L352.5 390.5 L350.7 389.6 L348 388.6 L346.8 387.7 L346.8 386.1 L346.7 384.4 L346.2 382.2 L346.7 381 L346.9 379.5 L346.5 377.6 L346.8 375.8 L346.9 373.7 L346.9 371.5 L346.6 368.9 L347.2 367.6 L347.4 366 L347.2 364 L346.8 362.6 L346.9 360.6 L347.1 358.4 L346.9 356.6 L346.9 354.3 L347 352.2 L347.1 350.3 L346.5 348.9 Z"/><path d="M347.2 401.2 L348.1 400.8 L350 399.6 L351.8 399.4 L353.3 398.8 L355.8 397.2 L357.6 396.1 L359.5 395.4 L360.5 396.8 L362.5 397.7 L364.6 398.5 L363.3 399.8 L362.1 401.8 L360.9 403.4 L360.1 405.1 L358.8 406.6 L357.1 408.4 L356.9 409.6 L355.5 411 L353.7 412.7 L351.2 413.7 L349.8 414.6 L348.4 415.8 L346.7 416.7 L347 414.8 L347.1 412.3 L347 409.7 L347 407.8 L347.2 406.2 L347.2 404.2 L347.3 402.2 Z"/><path d="M443.2 388.4 L444.6 388.7 L446.9 388.8 L449.1 388.7 L450.8 388.9 L451.9 389.6 L453.7 390 L455.9 390.5 L456.7 392.2 L457.6 393.9 L458.4 395.8 L458.8 397.3 L459.3 399.6 L460.3 401.5 L459.1 402.2 L457.3 402.5 L455.7 403.6 L453.9 404.3 L452.6 404.7 L450.6 402.9 L449.3 401.6 L448.1 400.8 L446.5 399.6 L445.2 397.4 L444.9 395.9 L444.8 394.1 L444.7 391.7 L443.4 390.4 Z"/><path d="M467.8 410.9 L475.3 411.9 L476.3 420.9 L470.3 421.9 Z"/><path d="M481.3 209.5 L488.3 210.5 L487.8 213.5 L481.8 212.5 Z"/><path d="M722.8 204.4 L726.8 203.9 L726.8 207.4 L723.3 207.9 Z"/><path d="M443 738.5 L444.8 738.2 L446.2 737.1 L448.7 735.7 L450.7 735.1 L453.4 733.7 L455 734.6 L456.4 736.2 L458.1 737.5 L456.9 738.6 L456 740.6 L455 742.1 L453.4 742.2 L451.3 742.8 L449.2 743.4 L447.4 743.3 L445.4 742.3 L444.3 740.7 Z"/><path d="M613.2 719.1 L616.9 717.9 L618.2 725.4 L615.2 728.4 L613.2 725.4 Z"/><path d="M573.1 760.5 L576.8 761.8 L578.6 769.3 L575.6 770.5 L573.6 766.8 Z"/><path d="M576.1 746.7 L578.1 746.7 L578.6 751 L576.6 751 Z"/></g>
<g fill="none" stroke="#ead3d8" stroke-width="1"><path d="M375.1 -2.5 L371 233"/><path d="M347.5 235.5 L511.3 216.5"/><path d="M511.3 216.5 L516.4 373.3"/><path d="M516.4 373.3 L678.2 364.3"/><path d="M516.4 373.3 L516.7 400 L528 640 L530.5 718 L541.7 878.4"/></g>
<g fill="none" stroke="#e4e8eb" stroke-width=".9"><path d="M947 87.8 L947.2 89.7 L947.4 92 L947.7 93.7 L948.4 95.1 L949.3 96.7 L950.3 98.7 L949.5 100 L949.4 101.4 L950.2 103.1 L951.2 105.3 L952.1 107.4 L953.2 109.5 L953.7 112.9 L954.3 114.2 L954.7 115.8 L955.3 117.1 L956.3 118.4 L957.4 120.2 L958.3 121.4 L958.7 123 L960.4 124.4 L961.1 126.6 L961.9 127.3 L962.9 128.9 L963.4 130.3 L964.7 133 L964.5 134.4 L964.3 135.9 L964.1 137.4 L964.3 139.7 L964.9 142.1 L965.7 144.2 L966.3 145 L965.7 146.7 L965.5 148.4 L965.8 150 L965.5 152.6 L965.7 154.1 L966.2 155.7 L966.2 158.7 L966.4 160.3 L965.8 161.3 L964.9 163.3 L962.4 164.6 L960.3 166.1 L959.8 169 L958.4 170.5 L958.2 171 L958 172.8 L957.1 174.5 L956.1 176.5 L954.5 178.4 L953 179.2 L951.4 180 L948.7 181.5 L947.7 182.8 L946.9 183.7 L945.7 185.1 L943.9 186.7 L942.4 187.6 L940.6 188.4 L939.9 190.7 L938.4 191.5 L937.4 192.4 L935 192.8 L932.5 192.9 L930.6 192.1 L928.7 191.9 L927.1 191.3 L925.5 191 L923.7 190.8"/><path d="M899.4 343.9 L898.9 343.2 L899.3 341.9 L900 340.3 L899.5 338.6 L900.2 337.4 L900.6 335.8 L900.9 333.6 L901.3 332 L901.3 330.5 L901.5 328.8 L902.5 327.3 L903.3 325.4 L903.3 323.5 L904.3 321.3 L906.3 320.7 L907.6 319.6 L908.5 318.2 L911 317 L912.2 315.8 L913.8 315.2 L915 313.7 L916.5 312.5 L917.6 311.6 L920 310.8 L921.5 310 L923.5 308.2 L924.9 307.7 L925.5 307.7 L927.6 306.6 L929.7 305 L930.7 305 L932.5 304.3 L934.7 303.4 L935.8 302.4 L937.1 301 L939.2 300.5 L940.3 300.4 L941.7 300.4 L943.3 299.7 L945.1 299.1 L946.9 298.8 L948.3 298.4 L950.5 298.5 L952.5 298 L954.4 297.2 L956.8 296.7 L958.5 296.9 L959.9 297 L961.1 296.5 L963.1 297.2 L965.2 297.8 L967.5 298.2 L968.4 298.2 L970.2 297.9 L972.4 297.4 L974.4 296.2 L976.1 295.6 L977.3 294.6 L978.7 293.1 L980.6 291 L981.2 289.8 L981.8 289.2 L983.3 287.6 L985.3 285.5 L986.7 285.1 L987.9 284.5 L989.9 283.1 L991.3 282 L993.4 280.4 L995 279.3 L993.2 277.1 L991.4 275 L990.3 274.1 L989.2 273.1 L987.8 272 L985.7 271.1 L984.2 269.4 L983.2 268.2 L981.6 267.1 L980.7 264.9 L979.5 263.6 L977.4 263.1 L976.7 261.9 L975.1 261.1 L974.6 259.5 L974.1 257.4 L972.3 256.4 L971.7 256 L969.4 254.6 L967.8 253.1 L966.5 251 L964.4 251 L962.9 252.5 L961.5 252.6 L959.5 252.7 L956.9 253.1 L954.9 253.9 L953.3 254.1 L951.6 254.1"/><path d="M995 279.3 L995.6 280.7 L996.1 282.3 L997.6 283.9 L998.7 285.1 L999.3 286.1 L1000.8 287.9 L1002.2 289.7 L1003.4 291.1 L1004.4 292.3 L1004.5 294.2 L1005.9 294.6 L1007 296.1 L1009 297.5 L1011.8 297.5 L1012.9 298.7 L1013.8 300.2 L1015.9 302.1 L1017.5 303 L1018.6 303.1 L1019.6 304 L1021.2 305.1 L1023 304.8 L1024.8 305.4 L1027.3 306.7 L1029.2 308.3 L1030.8 309.6 L1031.5 311 L1033.2 311.9 L1034.8 312.6 L1035.8 313.7 L1036.3 315 L1038.5 316.5 L1040.1 318.3 L1041 318.9 L1042.4 319.8 L1044.2 320.8 L1045.7 322.2 L1046.6 322.6 L1048.7 324.4 L1050.6 325.7 L1052.4 326.1 L1054.2 327.5 L1055.7 329.3 L1056.7 330.6"/><path d="M565.4 52.6 L564.1 53.9 L562.6 55.2 L561.2 56.4 L559.8 57.6 L558.5 58.9 L557.1 60.1 L555.7 61.4 L554.4 62.6 L553 63.9 L551.5 65.2 L550.1 66.5 L548.6 67.6 L547.3 68.9 L545.9 70.3 L544.5 71.5 L543.1 72.8 L541.7 74 L540.4 75.2 L539.2 76.7 L538 78.2 L536.7 79.6 L535.6 81 L534.4 82.4 L533.3 83.9 L532 85.3 L530.8 86.7 L529.8 88 L528.6 89.6 L527.4 90.9 L526 92.4 L524.8 93.7 L523.7 95.2 L522.4 96.6 L521.4 98 L520.3 99.4 L520.1 100.7 L519 102.7 L517.5 103.3 L515.5 105.1 L514 107.2 L513.4 108.8 L513.1 110.8 L513 112.5 L512.5 114.6 L511.5 116.4 L510.2 117.9 L509.2 118.7 L509.3 120.8 L509.1 122.6 L507.8 124.1 L507 126 L506.4 127.2 L505.4 128.8 L504.6 130.8 L504.4 132.8 L504 135.5 L503.6 137.3 L503.3 139 L502.2 139.5 L501.4 140.9 L500.4 142.4 L499.5 144.9 L498.6 146.7 L498.1 148.1 L497.9 149.6 L497.1 151.2 L496.6 153.3 L495.2 154.9 L493.6 156.5 L492.5 157.9 L491.9 159.2 L492.4 161.5 L490.4 163.1 L489.2 164.2 L487.7 165.9 L487.8 168.2 L487.4 169.3 L485.3 171.4 L484.6 172.6 L484.1 173.4 L482.7 175.6 L481.8 177.2 L480.3 179.4 L480.3 180.8 L479.6 181.3 L478.7 182.1 L478 183.4 L475.8 184.8 L473.6 186.4 L471.9 188.5 L471.5 190 L470.2 190.9 L468.5 193.1 L467.2 194.3 L465.8 195.8 L465.1 196.7 L463.6 198.8 L462.1 200.3 L461.4 201.4 L459.4 202.9 L458.4 204.3 L458.1 204.9 L456 205.3 L454.2 207.1 L453.2 207.9 L451.7 209 L450.2 209.7 L449 211 L448.1 212.8 L447 214.3 L445.4 215.3 L443.2 216.3 L441.9 217.4 L440.4 217.8 L438.3 218.3 L436.4 219.1 L435 220.2 L434.8 222.3 L435.1 224.4 L435.5 225.9 L435 227.6 L434.9 229.8 L435.2 232.1 L436.3 233.1 L436.4 235.5 L436.8 238.2 L437.3 240.9 L437.5 242.6 L437.3 244.6 L437.6 246.8"/><path d="M803.8 173.1 L802.6 174.6 L801.4 175.7 L800.5 177.1 L799.4 178.7 L798.4 180 L797.4 181.6 L796.8 183.3 L795.9 184.8 L794.9 186.6 L794.1 188 L793.2 189.6 L792.1 191 L791.1 192.6 L790 194.3 L788.9 195.8 L788.2 197.3 L787.1 198.9 L785.9 200.3 L785.1 201.8 L784 203.3 L783.1 204.9 L782 206.3 L780.9 207.8 L779.9 209.4 L778.8 210.9 L777.8 212.5 L776.9 214.1 L775.7 215.6 L774.8 217.1 L773.9 218.6 L772.9 219.9 L771.9 221.4 L770.8 223.1 L769.8 224.6 L768.8 226.1 L767.9 227.6 L766.9 229.1 L765.9 230.5 L765.4 232.3 L764.9 234.2 L764.5 235.9 L764.1 237.7 L763.7 239.6 L763.2 241.6 L762.8 243.3 L762.4 245 L761.8 246.9 L761.3 248.6 L760.9 250.5 L760.4 252.4 L759.9 254.1 L759.5 255.9 L759 257.7 L758.7 259.6 L758.3 261.4 L757.8 263.2 L757.3 265 L756.8 266.8 L756.3 268.7 L755.9 270.5 L755.3 272.3 L754.7 274 L754.2 275.7 L753.8 277.6 L753.3 279.3 L752.7 281 L752.1 282.8 L751.5 284.5 L750.9 286.2 L750.3 288 L749.8 289.8 L749.4 291.6 L748.7 293.2 L748.2 295 L747.7 296.8 L747.2 298.5 L746.6 300.3 L746 302.1 L745.5 303.9 L745 305.6 L744.5 307.2 L743.9 309 L743.3 310.7 L743 312.6 L742.8 314.4 L742.6 316.2 L742.3 318.1 L742 319.9 L741.8 321.7 L741.6 323.5 L741.5 325.3 L741.4 327.2 L741.1 329 L740.8 330.8 L740.5 332.7 L740.3 334.4 L740 336.2 L739.8 338.1 L739.6 339.8 L739.4 341.6 L739.2 343.6 L739 345.3 L738.7 347.1 L738.4 349 L738.2 350.9 L738.8 352.8 L739.3 354.9 L739.8 356.9 L740.3 358.8 L740.9 360.9"/><path d="M725.8 235.5 L726.2 237.2 L726.6 239.1 L726.9 240.8 L727.2 242.5 L727.5 244.4 L727.8 246.2 L728.2 248.1 L728.7 249.9 L729 251.7 L729.4 253.5 L729.8 255.3 L730.2 257 L730.5 258.8 L730.7 260.6 L730.1 262.4 L729.7 264.1 L729.1 265.9 L728.6 267.7 L728.1 269.3 L727.5 271 L727 272.7 L726.4 274.5 L725.8 276.2 L725.2 278 L724.8 279.7 L724.3 281.4 L723.7 283.1 L723.1 284.9 L722.5 286.7 L721.9 288.5 L721.5 290.2 L721 291.8 L720.4 293.7 L719.9 295.3 L719.4 297.1 L718.8 298.9 L718.3 300.7 L717.6 302.3 L716.8 303.9 L716.1 305.6 L715.5 307.3 L714.7 309 L713.9 310.8 L713.2 312.5 L712.4 314.1 L711.7 315.7 L711 317.3 L710.3 318.9 L709.6 320.6 L708.9 322.2 L708.1 323.9 L707.4 325.7 L706.7 327.3 L706 329 L705.3 330.7 L704.5 332.3 L703.7 334 L703 335.7 L702.3 337.4 L701.6 339 L700.9 340.7 L699.6 342.2 L698.5 343.7 L697.2 345.2 L696 346.8 L694.9 348.3 L693.7 349.8 L692.6 351.3 L691.5 352.8 L690.2 354.3 L689 355.7 L687.8 357.3 L686.8 358.8 L685.6 360.2 L684.3 361.7 L683.2 363.2"/><path d="M410.2 60.1 L411.1 61.3 L411.6 62.9 L411.9 64.8 L412.8 68.1 L413.6 70.1 L414.2 72 L415.3 73.9 L414.9 75.9 L415.3 77.5 L416.4 79 L418 80.3 L420 81.1 L420.8 82.6 L422.4 83.3 L424.5 83.7 L426.5 84 L427.7 84.6 L428.8 85.3 L430.3 86.4 L432 86.7 L433.6 87.4 L435.6 89.1 L437.7 90 L439.7 91.4 L441 92.3 L443.4 92.7 L445 93.1 L446.8 95.5 L448.6 96.3 L449.8 97.4 L451.3 98.9 L452.3 100.1 L451.8 101.9 L451.5 103.7 L451.4 105.7 L451 107.3 L450.3 108.9 L450.2 111 L450.3 112.6 L450.6 113.9 L448.8 115.1 L448.5 117.2 L448.4 119.5 L447.5 121.2 L447.6 123.7 L447.7 126.3"/><path d="M524.2 651.5 L522.6 652.9 L521.2 654.3 L518.9 654.6 L517.3 657.2 L516 659 L514.8 660 L514.6 662.2 L514.3 664 L514.1 665.4 L513.3 666.5 L512.7 668 L512 670.4 L510.8 673 L510.4 674.6 L510.2 676.2 L509.4 678.5 L508.4 676.8 L507.9 675 L506.6 673.2 L504.3 670.5 L503.4 669.6 L503 668.7 L501.2 666.8 L499.2 665.4 L497.6 663.2 L496 663.2 L493 663.5 L491.2 663.6 L490.4 663.7 L489.1 663.8 L485.7 664.9 L483.3 663.9 L481.2 663.6 L479.4 663.3 L478.6 661.7 L476.5 661.7 L475.2 661 L474.3 660.2 L471.4 659.6 L469.8 659.5 L468.4 659.3 L468.2 660.9 L468.4 663.6 L468.5 664.9 L467.9 666.8 L467.4 668.8 L467.3 670.6 L466.9 671.9 L466.5 674.4 L466.2 676.9 L466.6 678.6 L467 680.9 L466.8 682.4 L466.6 683.8 L467.6 685.7 L467.8 687.4 L467.2 689.3 L466.5 691.6 L467.2 694.4 L466.7 695.6 L465.8 697.3 L465 699.3 L465.5 701.3 L464.7 702.5 L464.1 704 L462.9 705.3 L461.6 706.8 L460.8 708 L458.9 709.3 L457.6 710.5 L455.8 712.3 L455.1 714.4 L455.5 716.7 L456.3 718.3 L457 719.7 L457.3 721.6 L457.3 723.9 L457.6 726 L457.8 728 L458.1 731 L456.7 732.2 L455.4 734.2 L453.4 736.9"/></g>
<g fill="none" stroke="#dde2e5" stroke-width="1.1" stroke-linecap="round"><path d="M362.8 262.1 L363.8 267.1"/><path d="M364.3 263.4 L364.8 265.8"/><path d="M367.8 272.4 L368.3 274.3"/><path d="M352.6 273.1 L353.9 276.7"/><path d="M377.7 279.9 L378.3 284.1"/><path d="M354.4 238.3 L355.6 241.4"/><path d="M355.4 248.2 L355.7 250"/><path d="M362.4 274.5 L363 278.2"/><path d="M364.1 266.6 L365 269.8"/><path d="M378.1 281.3 L378.7 286.2"/><path d="M358.9 247.7 L359.8 250.1"/><path d="M371.6 255.2 L372.7 259.7"/><path d="M377 274.8 L377.5 276.4"/><path d="M375.7 258.2 L376.8 263.3"/><path d="M352.1 265.2 L353.2 269.4"/><path d="M352.5 252.2 L353 257.6"/><path d="M353.3 248.4 L354 250.2"/><path d="M372.5 245.4 L373.3 249.1"/><path d="M355.4 269.7 L355.7 272"/><path d="M353.3 256 L353.9 258.4"/><path d="M377.4 272.8 L377.6 275.8"/><path d="M355.9 254.9 L356.7 259.8"/><path d="M352.8 281 L353.5 283.3"/><path d="M371.8 252 L372.7 254.4"/><path d="M352.5 263.2 L353 265.8"/><path d="M360.5 257.5 L361.5 262.6"/><path d="M367.5 318.8 L368.2 321"/><path d="M375.9 317.6 L376.6 320"/><path d="M371.7 320.7 L371.8 323.3"/><path d="M375.2 312.2 L376.2 315.1"/><path d="M354.1 321.2 L354.4 323.9"/><path d="M359.6 317.8 L360.6 321.4"/><path d="M357.5 315.2 L358.1 317"/><path d="M367.2 318.5 L368.2 322.2"/><path d="M376.1 302.2 L376.6 303.9"/><path d="M364.3 298.6 L364.9 300.9"/><path d="M377.3 334.9 L377.5 338.1"/><path d="M390.1 348 L390.8 352.3"/><path d="M363.8 332.5 L363.9 334.4"/><path d="M381.4 355.7 L381.6 357.6"/><path d="M374.5 349.9 L374.6 353"/><path d="M361.8 345.3 L362.1 349.9"/><path d="M382.5 349.2 L382.8 354"/><path d="M370.4 348.8 L370.8 354"/><path d="M372.5 351.4 L373.3 356.2"/><path d="M379 341.2 L379.6 345"/><path d="M361.9 347.6 L362.3 353.2"/><path d="M382.2 341.3 L382.9 345.7"/><path d="M367.3 387.1 L367.5 389.2"/><path d="M357 381.1 L357.9 384.3"/><path d="M373.8 378.5 L374 382.7"/><path d="M362.7 366.3 L363.1 369.2"/><path d="M361.3 370.3 L362.1 375.4"/><path d="M367.3 388.4 L367.8 391.4"/><path d="M361.2 376.8 L361.5 381.7"/><path d="M378.3 375.7 L379.3 379.3"/><path d="M453.7 293.8 L454.1 298.8"/><path d="M468.1 313.7 L468.9 316.2"/><path d="M461.5 284.1 L462.1 286.6"/><path d="M465.9 293.7 L466.2 296.7"/><path d="M474.9 291.9 L475.5 293.6"/><path d="M472.1 273.9 L472.9 278.2"/><path d="M458 306.8 L458.5 308.4"/><path d="M461.6 273.1 L462.9 277.5"/><path d="M453.8 274.1 L454.6 278"/><path d="M466 300.8 L466.3 305.7"/><path d="M467.4 280.8 L468.4 283.9"/><path d="M450.5 292.8 L451.7 296.6"/><path d="M457.1 287.2 L457.9 291.4"/><path d="M465.7 305.2 L466 308.5"/><path d="M491.8 268 L492.4 273.2"/><path d="M472.3 277.2 L472.6 281.4"/><path d="M478.5 280 L479 285.1"/><path d="M492.7 277.4 L493.8 281.1"/><path d="M487.1 286.3 L487.7 290.5"/><path d="M474.4 288.3 L474.6 293.9"/><path d="M482.5 285.6 L482.7 288.7"/><path d="M490.5 274.5 L490.9 276.5"/><path d="M422.7 385.1 L423.8 388"/><path d="M425.9 376.2 L427.2 380.4"/><path d="M420 385.3 L420.6 387.3"/><path d="M422.3 384.5 L422.9 389.4"/><path d="M583.9 425.4 L585.5 429.9"/><path d="M570.3 426.1 L570.7 429"/><path d="M578.2 426 L579 430.8"/><path d="M572 423.3 L572.4 428.3"/></g>
<g font-family="Liberation Sans" font-weight="bold" fill="#8e9bab" stroke="#fafaf8" stroke-width="1.6" stroke-opacity=".7" paint-order="stroke" lengthAdjust="spacing">
<text x="903.4" y="78" font-size="10.6" textLength="77.2" transform="rotate(1.7 942.0 74.3)">Rockhampton</text>
<text x="963" y="103.3" font-size="10.6" textLength="55" transform="rotate(2.4 990.5 99.6)">Gladstone</text>
<text x="1011.8" y="157.6" font-size="10.6" textLength="60.2" transform="rotate(2.7 1041.9 153.9)">Bundaberg</text>
<text x="1016.2" y="191.8" font-size="10.6" textLength="71.6" transform="rotate(2.8 1052.0 188.1)">Maryborough</text>
<text x="1057.3" y="294.8" font-size="10.3" textLength="45" transform="rotate(4 1079.8 291.2)">Brisbane</text>
<text x="1064.8" y="324.2" font-size="10.3" textLength="56.2" transform="rotate(3.5 1092.9 320.6)">Gold Coast</text>
<text x="483.6" y="545" font-size="10.2" textLength="54.4" transform="rotate(-3.2 510.8 541.4)">Broken Hill</text>
<text x="539.7" y="667.4" font-size="10.2" textLength="37.1" transform="rotate(-1 558.2 663.8)">Mildura</text>
<text x="380" y="720" font-size="10" textLength="40" transform="rotate(-5 400.0 716.5)">Adelaide</text>
<text x="328.8" y="617.4" font-size="10" textLength="38.5" transform="rotate(-2.5 348.1 613.9)">Whyalla</text>
<text x="456.5" y="875.5" font-size="10" textLength="73.5" transform="rotate(-2.3 493.2 872.0)">Mount Gambier</text>
<text x="541" y="902" font-size="10" textLength="64.6" transform="rotate(-1.8 573.3 898.5)">Warrnambool</text>
<text x="648.8" y="884.6" font-size="10" textLength="40" transform="rotate(-1 668.8 881.1)">Geelong</text>
<text x="769" y="766.4" font-size="10" textLength="32.5" transform="rotate(0 785.2 762.9)">Albury</text>
<text x="674" y="798" font-size="12" textLength="57.8" transform="rotate(0 702.9 793.8)">VICTORIA</text>
<text x="638.2" y="866.8" font-size="11.3" textLength="76.4" transform="rotate(-1 676.4 862.8)">MELBOURNE</text>
</g>
<g fill="#66768a">
<rect x="984.2" y="74.5" width="2.2" height="2.2"/>
<rect x="1019.9" y="98.9" width="2.2" height="2.2"/>
<rect x="1074.3" y="153.4" width="2.2" height="2.2"/>
<rect x="1090.7" y="188.9" width="2.2" height="2.2"/>
<rect x="1105.3" y="290.1" width="2.2" height="2.2"/>
<rect x="1123.9" y="320.5" width="2.2" height="2.2"/>
<rect x="579.5" y="660.4" width="2.2" height="2.2"/>
<rect x="422.3" y="711.3" width="2.2" height="2.2"/>
<rect x="370.2" y="610.9" width="2.2" height="2.2"/>
<rect x="532.4" y="867.3" width="2.2" height="2.2"/>
<rect x="608.9" y="894.9" width="2.2" height="2.2"/>
<rect x="691.3" y="879.3" width="2.2" height="2.2"/>
<rect x="717.2" y="860.4" width="2.4" height="2.4"/>
</g>
<path d="M677.9 364.5 L678.3 366.7 L678.7 369 L679 371.3 L680.8 372 L682.8 372.6 L682.6 374.3 L682.5 376.3 L682.4 378.1 L682.3 379.8 L682.2 381.7 L682 383.5 L681.8 385.3 L681 386.9 L680 388.4 L679 389.9 L677.9 391.4 L676.9 392.8 L675.9 394.5 L675 396 L674.2 397.7 L673 399.2 L671.8 400.6 L670.5 402.1 L669.2 403.6 L667.9 405 L667.8 407.1 L667.8 409.1 L667.9 411.1 L667.9 413.2 L668 415.2 L667.5 416.9 L667 418.8 L666.5 420.5 L665.9 422.2 L665.5 423.9 L665.6 425.8 L665.6 427.7 L665.5 429.7 L665.3 431.6 L665.4 433.5 L665.4 435.3 L663.6 435.3 L661.7 435.3 L659.9 435.3 L658.1 435.3 L656.3 435.3 L654.5 435.3 L652.5 435.3 L650.7 435.2 L648.9 435.1 L647 435.2 L645.2 435.2 L643.3 435.3 L641.4 435.3 L639.6 435.3 L637.7 435.3 L636.5 438.3 L634.7 438.3 L632.9 438.5 L631 438.6 L628.9 438.6 L627.1 438.8 L625.2 439.1 L623.3 439.3 L621.5 439.3 L619.6 439.4 L617.7 439.5 L615.8 439.7 L614 440 L613.7 442 L613.3 443.9 L612.9 445.8 L612.6 447.8 L610.5 448.3 L608.3 448.8 L606.4 449.1 L606.2 450.9 L605.9 452.7 L605.5 454.6 L605.1 456.6 L603.2 457.2 L601.4 457.8 L601.4 459.6 L601.4 461.5 L601.3 463.5 L601.1 465.6 L600.9 467.4 L600.9 469.3 L600.9 471.3 L600.8 473.3 L600.9 475.1 L600.9 477.1 L600.9 479.1 L598.6 479.2 L596.3 479.6 L593.9 479.8 L593.9 482 L593.8 484.2 L595.9 484.2 L598.2 484.2 L600.1 484.1 L602.3 484.2 L602.3 486.1 L602.2 488.2 L602.2 490.1 L602.2 492 L602.2 494.1 L602.2 496 L602.2 497.9 L602.4 499.7 L602.7 501.6 L603 503.4 L603.2 505.2 L603.4 506.9 L603.8 508.7 L604 510.5 L604.7 512.3 L605.5 514.1 L606.2 515.9 L606.9 517.6 L607.5 519.6 L608.2 521.4 L608.9 523 L607.5 524 L606.1 524.8 L604.4 525.8 L602.7 526.7 L601.6 528.1 L600.4 529.6 L599.1 530.9 L597.9 532.4 L596.5 533.7 L595.1 535.1 L593.8 536.6 L592.7 538.2 L591.4 539.5 L590.3 540.8 L589 542.4 L587.7 544 L586.5 545.4 L585.2 546.9 L583.9 548.2 L583.2 550.1 L582.6 552.1 L581.8 554.3 L580.9 556.2 L580.2 558.2 L578 558.6 L576 559 L574 559.3 L573.8 561.3 L573.8 563.2 L573.8 565.1 L573.8 562.6 L573.9 560 L574.1 561.9 L574.3 563.8 L574.7 565.6 L575.1 567.4 L576.6 568.2 L578.2 569.3 L579.7 570.4 L581.4 571.3 L581.4 573.5 L581.4 575.6 L581.5 577.6 L583.1 578.5 L584.8 579.4 L586.5 580.1 L586.7 581.9 L586.8 583.7 L587 585.6 L587.2 587.5 L587.5 589.4 L587.7 591.3 L586.1 592.9 L584.4 594.5 L582.9 596.2 L581.4 597.7 L579.2 597.6 L577.1 597.5 L574.8 597.7 L572.6 597.6 L571.5 600.1 L569.7 600.2 L567.9 600.2 L566 600.2 L564.1 600.3 L562.3 600.2 L560.5 600.1 L558.6 600.1 L556.7 600.2 L555 600.2 L553.2 600.1 L551.3 600.1 L550.6 597.7 L550 595.1 L548.2 595.2 L546.4 595.2 L544.6 595.1 L542.7 595 L542.5 597 L542.2 598.9 L542.1 600.8 L541.9 602.7 L541.9 604.5 L541.9 606.4 L541.6 608.4 L541.5 610.3 L541.3 612.1 L541.2 613.9 L539.5 614.1 L537.7 614.2 L535.7 614.3 L534.1 614.5 L532.3 614.7 L530.3 614.8 L528.5 615 L526.8 615.1 L525 615.3 L525 617.1 L525.1 618.8 L525.2 620.5 L525.3 622.3 L525.4 624.2 L525.3 626.1 L525.4 627.9 L525.5 629.7 L525.6 631.5 L525.6 633.3 L525.6 635.1 L525.7 636.9 L525.6 638.8 L525.7 640.6 L525.7 642.5 L525.8 644.4 L526 646.3 L526.1 648.1 L526.2 649.8 L526.2 651.6 L526.2 653.4 L525.4 655 L527.9 655.9 L530 655.6 L531.7 656.5 L533.9 656.8 L535.8 656.7 L537.4 657.8 L539.1 658.1 L540.8 658.4 L542.6 659.1 L544.7 658.4 L546.6 657.9 L548.7 658 L549.5 658 L551.3 658.2 L554 658.4 L556 659.2 L557.6 659.3 L559.1 659.1 L560.9 658.9 L562.9 658.8 L564.8 658.8 L566.7 658.4 L568.5 658.9 L570.4 659.1 L572.2 658.9 L574.5 659.2 L576.3 659.4 L577.9 659.4 L579.8 660.1 L581 661 L581.4 661.7 L582.7 662.8 L584.4 664.4 L586.9 666.1 L589.1 667.2 L590.6 669.4 L591.6 670.3 L591.9 672.7 L592.2 674.7 L592.6 676.4 L592.8 678.8 L593.8 680.8 L595.4 682.2 L597.5 682.5 L598.4 684.2 L598.4 686.1 L599.3 687.5 L600 689.6 L602 689.8 L604.2 690.2 L606.4 690.5 L606.7 688.5 L606.6 687.2 L607 685.6 L607.5 683.6 L609.3 683.5 L611.1 683.4 L613.9 683.6 L615.8 683.7 L616.9 684.8 L618.2 685.3 L619.4 686 L620.7 687.4 L622.5 688.2 L624.9 688.6 L627 688.4 L627.9 690.1 L630.2 690.9 L632 690.8 L632.5 692.4 L633.5 693.6 L636.2 694.3 L637.6 695.7 L637.5 697.8 L638.3 699 L638.8 700.2 L639.2 701.7 L638.6 704.1 L639 706.3 L639.6 708.1 L642 709.6 L643.1 711.2 L644.3 712.6 L645.1 713.9 L646.1 715.5 L647.2 717 L648.6 718.8 L649.3 720.9 L652 721.5 L653.8 723.1 L655.6 724.6 L657.7 726 L658.9 727.2 L660.6 728.8 L662.2 730 L663.9 730.7 L665.6 732.3 L666.7 733.4 L668.6 735 L671.1 735.4 L672.3 737.1 L673.4 739.4 L674.9 740.3 L675.9 740.9 L677.5 742.4 L678.7 744 L680.4 745.5 L681.4 747.3 L683.1 747.7 L684.2 749.5 L685.5 751.4 L687.1 752.4 L688.6 753.6 L689.6 754.8 L690.5 756.4 L692.3 757.4 L695.1 758.2 L696.2 759.6 L698.4 760.3 L699.2 762.1 L701.8 762.8 L703.9 763.9 L705.7 765.5 L707.1 765.8 L709 764.7 L710.8 763.4 L713.1 762.6 L713.5 760 L713.6 757.8 L714.6 756.3 L716.3 754 L717.4 752.4 L718.6 750.4 L720.4 750.2 L723 750.6 L724.9 750.7 L726.4 750.6 L727.8 750.3 L730.6 751 L732.4 750.8 L734.2 750.7 L735.9 750.4 L738.4 749.9 L740.7 749.5 L742.6 749.2 L743.8 749.1 L746.2 749.6 L747.8 750 L748.3 750.3 L750 751.7 L751.7 752.6 L752.8 753.1 L755.1 754.2 L757.1 755.3 L759.1 756.1 L760.6 757.8 L762.7 757.8 L764.9 757.9 L766.9 758.1 L769.1 758.2 L771.1 758.1 L773.1 758 L775 757.8 L776.8 757.4 L778.8 757.1 L780.8 756.7 L782.6 756.5 L784.3 755.9 L786.2 755.6 L788.2 755.4 L790 755.8 L791.6 756.3 L793.5 757 L795.9 757.9 L797.7 758.2 L799.5 758.3 L801.4 758.2 L803.2 758.5 L804.9 756.8 L806.6 755.2 L808.8 753.7 L810.1 755.5 L811.1 757.2 L812.1 759.1 L813 760.5 L815.1 760.7 L817.1 760.6 L819 760.2 L821.2 760.2 L822.8 759.8 L825.3 760.1 L827.6 759.6 L830.2 759.4 L831.9 759.2 L833.6 758.8 L835.5 758.3 L837.1 757.9 L838.8 757.2 L840 755.8 L842.7 757.7 L843.6 757.9 L844.1 757.3 L845.5 757.8 L847.2 758.3 L849.7 759.2 L851 761.2 L851.9 763 L853 764.8 L853.3 766.4 L854.8 767.7 L856.2 769.4 L857 771.4 L857 773.4 L856.9 775.2 L858.5 776.9 L858.8 778.9 L859.2 780.7 L859.4 781.5 L859.7 783.6 L859.8 785.5 L860.8 787.7 L860.4 788.9 L860.4 790.7 L861 793.4 L861.4 794.8 L861.1 795.9 L861.1 798.1 L861.4 800.8 L860.4 803.2 L942.6 842.6 L942.2 841 L941.9 839.5 L943.8 836.4 L943.5 836.3 L944.2 833.6 L944.5 831.6 L944.3 829.5 L943.2 826.2 L944.4 824.4 L943.8 822.3 L943 821 L942.4 818.9 L942 818.6 L941.8 816.2 L942.3 813.9 L943.2 811.7 L944.4 809.8 L944.7 807.5 L945.5 805.1 L946.4 803.4 L946.8 801.8 L948.2 798.2 L949.2 796.3 L949.1 794.5 L948.6 793.2 L950.6 791.7 L950.2 789.4 L950 786.6 L950.1 784.2 L950.8 783.1 L950.5 779.5 L950.3 778.3 L952 777.6 L953.2 775.9 L954.7 774.3 L956.1 772.8 L956.5 770.6 L956.6 768.4 L956.2 767.6 L956.5 765.7 L956.9 763.7 L957 761.7 L958.1 759.2 L958.8 758 L959.1 756 L959.5 753.5 L960.1 751.6 L960.1 750.5 L960.1 748.7 L961.5 746.6 L961.1 745 L961.6 742.8 L962.1 740.4 L962.2 739 L963.8 737.5 L966 735.4 L966.6 734 L967.9 732.6 L968.9 732.2 L969.8 729.8 L972 727.2 L973 727.3 L973.3 724.7 L973.9 723 L975.7 721.2 L977.3 719.5 L978.8 717.7 L980 717.1 L981.5 715.2 L984.7 713.2 L985.8 712.4 L985 711.3 L986.5 709 L988 707.2 L987.1 706.6 L987.2 704 L988 701.3 L987.4 700.3 L987 697.2 L987.1 695.5 L987.2 693.4 L987.5 691.7 L987.5 689.3 L988.2 687.8 L989.1 685.4 L990.4 683.2 L989.9 681.8 L992.1 678.8 L992.9 676.9 L994.2 675 L994.5 673 L995.2 672.4 L995.5 669.2 L995.8 666.5 L995.8 664.6 L997 663.1 L999 662.4 L999.9 661.1 L1001.1 659.6 L1002 657.6 L1002.9 657.1 L1003.7 655.7 L1004.2 653.8 L1005 651.6 L1006.4 650.3 L1007.3 649.9 L1007.8 647.9 L1008.3 644.5 L1009.8 642.6 L1011.4 641 L1013.5 639 L1014.2 637 L1014.6 635.4 L1013.2 632.8 L1014.1 632.2 L1014.9 631.2 L1014.6 628.4 L1015.8 628 L1018.1 627.1 L1019.1 624.4 L1019.5 622.7 L1020.4 621.6 L1020.5 618.5 L1021.6 616.6 L1022.2 614.5 L1023.4 613.5 L1025.8 613 L1026.6 612.1 L1027.2 609.3 L1028.3 607 L1028.2 605.7 L1030 603.5 L1031.3 601.5 L1031.5 600.3 L1032.2 598.6 L1032.6 596.9 L1034.4 595.8 L1034.9 594.6 L1035.3 593.4 L1036.4 592.2 L1037 590 L1036.9 587.2 L1039.1 586.9 L1040.6 585.6 L1042.8 584 L1044.1 582.3 L1044.4 581.3 L1046.3 579.3 L1048.5 577.4 L1049.8 576.5 L1051.9 575.5 L1054.4 575.6 L1054.6 574.9 L1056.6 573.9 L1058.5 573.3 L1060.4 573 L1061.1 571.8 L1063 570.8 L1065.6 569.3 L1066.6 568.5 L1066.7 566.9 L1068.6 565.6 L1070.5 564.3 L1072.1 563.5 L1073.3 562.6 L1073.4 560.8 L1074.1 563.5 L1073.5 566.4 L1073.9 564 L1074.7 561.5 L1074.5 559.4 L1075 557.5 L1075.2 555.1 L1075.6 552.4 L1076.3 550.8 L1076.8 548.9 L1077.3 547.7 L1077.8 546.7 L1078.1 544.4 L1079.2 543.3 L1080.5 541.5 L1080.9 538.7 L1082 537.4 L1082.8 536.1 L1083.2 533.8 L1083.4 531.7 L1084.1 529.9 L1085.2 528.7 L1086.4 527.2 L1087.8 525.2 L1088.5 523.4 L1090 522 L1091.1 519.8 L1091.9 518.9 L1092.7 517.8 L1092.9 516.7 L1092.7 515.2 L1092.8 513.9 L1093.5 510.5 L1095 508.5 L1096.7 506.2 L1097.4 504.5 L1098.6 502 L1099.2 500 L1099.4 498.5 L1099.1 496.6 L1099.5 495.4 L1099.8 493.8 L1100.4 491.6 L1099.5 489 L1099.4 486.9 L1100.1 485.5 L1100.8 483.9 L1100.8 483.1 L1100.8 481.8 L1101.4 480.4 L1101.6 477.8 L1101.8 475.4 L1101.9 472.8 L1102.4 471.1 L1103.2 469.4 L1103.7 467.3 L1103.6 464.9 L1102.8 462.9 L1103.2 461.8 L1103.2 459.7 L1103.2 456.9 L1101.9 455.7 L1104.2 453.9 L1105.4 452.6 L1107.1 450 L1108.1 448.6 L1108.6 447.1 L1110.4 445.6 L1111.5 444.2 L1112.7 442.6 L1112.3 440.3 L1112.8 437.6 L1112.8 435.4 L1112 433.7 L1113.7 432.1 L1114.3 430.7 L1115 429 L1116 427.2 L1115.4 425.9 L1115.2 424.3 L1115.8 422.1 L1115.9 418.6 L1116.1 416.2 L1116.9 415 L1118.5 413.2 L1118.2 411.9 L1118.2 410.9 L1118.9 409.9 L1119.4 407.3 L1120 405 L1120.4 402.9 L1120.1 401.5 L1119.8 398.4 L1120.8 396.7 L1121.7 394.6 L1123.2 392.2 L1122.7 391.1 L1123.1 389.4 L1124 387.3 L1124.5 385.6 L1124.6 383.1 L1124.4 381.6 L1125.5 379.3 L1126.3 377.4 L1127.2 376.1 L1127.1 374.2 L1127.6 372.6 L1128.5 371.7 L1129 369.3 L1129.2 367.2 L1129.1 366.4 L1130.3 363.6 L1131.2 363.1 L1131.8 362.2 L1132.6 359.8 L1132.6 357.3 L1132.9 354.7 L1133.1 352.3 L1134.2 350.1 L1133.3 349.4 L1132.9 348 L1133 346.1 L1132.8 343.7 L1132.7 341.4 L1132.5 339.5 L1132.1 338.4 L1131.2 336.3 L1132.3 334.2 L1132.6 332.2 L1131.3 330.5 L1129.4 330.8 L1128.3 330.5 L1126.9 329.8 L1125 329.6 L1122.7 330.4 L1121.8 330.9 L1119.1 330.9 L1116.8 331.4 L1114.7 332.6 L1113.3 332.9 L1113.3 333.9 L1111.9 334.6 L1109.9 334.8 L1107.5 335.3 L1105.3 337.4 L1103.2 336.8 L1101.8 335.7 L1100.7 334 L1098.8 332.7 L1096.9 332.1 L1094.8 332.9 L1092.8 334.5 L1090.2 336.4 L1089 336.9 L1086.5 335.9 L1083.6 333 L1083.1 332 L1081.2 330.7 L1078.3 330.5 L1077.1 331.3 L1075 333.2 L1072 335 L1070.5 335.8 L1068.8 336.2 L1066.5 337.7 L1064.9 339.2 L1064.6 340.3 L1064 340.7 L1062.1 342.4 L1059.7 343.8 L1057.7 345 L1056.2 345.6 L1055 346.1 L1056 347.6 L1056.7 349 L1056.8 349.6 L1057.2 351.8 L1056.9 353.6 L1055.4 355.7 L1054.2 357.2 L1053.9 357.6 L1053.1 359.3 L1051.9 361.2 L1050.7 363.1 L1050.1 365.4 L1048.5 364 L1046.5 362.9 L1044.3 362.9 L1042.8 362.7 L1040.3 364.8 L1039 366.5 L1037.9 366.7 L1036.1 367.3 L1034 367.4 L1031.9 368.7 L1030.8 369.6 L1031.1 371.5 L1030.3 373.3 L1028.7 374.6 L1028.3 377 L1027.2 378.2 L1023.1 375.8 L1021.6 374.4 L1020.6 372 L1019.8 369.8 L1019 368.1 L1017.3 366.2 L1017.3 364.3 L1016.6 362.8 L1015.1 360.8 L1013.2 359.3 L1011.9 357.9 L1010.9 357.6 L1010.7 355.9 L1008.2 355.6 L1007 353 L1005.2 351.4 L1002.9 351.5 L1001.3 350 L1000 350.1 L998.2 350.5 L997.4 349.9 L995.4 348.5 L993 346.4 L990.8 346.5 L989 346.9 L986.6 348.4 L984.3 349.1 L982.2 347.8 L980.7 347.8 L978.6 346.3 L976.6 344.5 L974.6 344 L973.2 343.2 L971.1 342.1 L969.3 342.2 L967.9 342.2 L967.8 339.6 L966.5 340.3 L964.7 341.5 L962 339.9 L960.7 340.3 L959.3 340.9 L957.8 341 L956 342.4 L953.9 342.8 L950.9 342.4 L948.9 342.7 L947.1 343 L945.1 342.5 L943.8 341 L941.5 341.9 L939.1 343.1 L937 344 L936.1 343.5 L934.2 342.6 L932.7 341.2 L931 339.7 L928.7 340.6 L927.3 341.6 L926.3 343.8 L925.3 344.7 L923.6 345.4 L921 345.6 L919.5 346.8 L917.6 349 L915.2 349.5 L913.6 350.9 L912.5 352.8 L911.1 354.5 L909.2 356.6 L908.6 357.7 L907.9 359.1 L906.1 361.8 L905.2 362.6 Z" fill="#fef5f0"/>
<g stroke="none"><path d="M1111.9 334.6 L1113.3 333.9 L1113.3 332.9 L1114.7 332.6 L1116.8 331.4 L1119.1 330.9 L1121.8 330.9 L1122.7 330.4 L1125 329.6 L1126.9 329.8 L1128.3 330.5 L1129.4 330.8 L1131.2 331.7 L1131.6 333.6 L1130.8 336.2 L1130.7 337.9 L1132 339 L1132.6 340.7 L1132.3 343.5 L1132.8 345.7 L1131.3 345.9 L1128 344.1 L1126.4 345.8 L1124.2 346.5 L1121.9 346.7 L1120.9 346.9 L1119.3 348.4 L1117.3 348.1 L1113.9 348.1 L1113.6 349 L1112.4 347.8 L1110.2 346.2 L1108.7 345.5 L1108.5 343.9 L1110.2 340.2 L1110.1 336.8 Z" fill="#fbc7b0"/><path d="M1079.3 369 L1081.2 369.8 L1082.1 371.6 L1082.9 372.6 L1083.3 375.1 L1085.1 376.1 L1086 377.1 L1087.4 379.2 L1090.2 381.9 L1091.7 382.3 L1092.7 384.6 L1092.6 386.6 L1092.7 388.2 L1093.1 390 L1095.2 389.5 L1095.9 388 L1098.7 388.4 L1101.1 388.6 L1102.2 389.2 L1103.5 389.6 L1104.9 389.1 L1106.7 387.5 L1109.1 387.6 L1110.9 387.7 L1112.7 387.9 L1114.4 388.5 L1116.9 387.9 L1119.5 387.5 L1122.3 387.6 L1121.2 389.6 L1121.7 390.9 L1121.4 393.8 L1120.6 396.7 L1119.4 398 L1120.1 401.5 L1120.4 402.9 L1120 405 L1119.4 407.3 L1118.9 409.9 L1118.2 410.9 L1118.2 411.9 L1118.5 413.2 L1116.9 415 L1116.1 416.2 L1115.5 419.3 L1114.8 422.8 L1113.3 425.2 L1111.2 425.8 L1110.9 426.3 L1109.6 426.8 L1107.6 427.5 L1105.8 427.4 L1104.6 428.6 L1102.7 430.2 L1100.3 430.7 L1098 431.2 L1095.5 431.8 L1094.6 433.1 L1092.6 433.5 L1092.1 434.4 L1090.2 435.5 L1087.7 436.4 L1084.9 437 L1083.4 437.9 L1083.1 438.4 L1081.7 438.7 L1079.8 440.6 L1077 440.4 L1075.8 441.2 L1073.3 442.7 L1071.7 443.4 L1070.5 445 L1070.3 442.9 L1070.1 440.6 L1069.6 440 L1069.3 437.4 L1069.2 435.1 L1069.9 432.9 L1069.4 431.2 L1069 429.9 L1068.5 429.2 L1069.2 426.3 L1069.4 425.5 L1069.4 424.3 L1068.5 421.1 L1068.1 419.9 L1068.9 418.7 L1070.4 417.6 L1069.7 414.8 L1068.6 411.7 L1067.7 408.7 L1068.8 406.7 L1071.2 405.9 L1072 404.6 L1071 403.9 L1071.5 401.7 L1072.4 399.2 L1074.5 397.7 L1074.5 396.4 L1074.6 393.8 L1074.6 391 L1075.5 390 L1075.2 387.4 L1074.7 385.4 L1075.1 385.2 L1076.2 381.7 L1076.4 379.7 L1076 378.2 L1076.5 377.4 L1076.9 375.1 L1077.3 372.8 L1078.9 370.4 Z" fill="#fde3d6"/><path d="M1113.3 425.2 L1114.5 426.8 L1114.4 428.8 L1114.3 430.7 L1113.7 432.1 L1112 433.7 L1112.8 435.4 L1112.8 437.6 L1112.3 440.3 L1112.7 442.6 L1111.5 444.2 L1110.4 445.6 L1108.7 446.9 L1108 448.3 L1107.2 449.4 L1105.7 451.4 L1104.3 453.5 L1102.3 454.7 L1102.4 454 L1101.4 451.6 L1099.5 449.9 L1099.1 447.4 L1098.8 446 L1098.1 445.3 L1096.4 443.7 L1095.8 441.2 L1094.6 440.5 L1093.5 438.7 L1092.4 437.4 L1094.1 436.7 L1094.6 435.6 L1096.1 434.7 L1097.2 433.7 L1098.7 432.5 L1100.6 431.8 L1102.8 430.9 L1104.7 428.9 L1105.8 427.4 L1107.6 427.5 L1109.6 426.8 L1110.9 426.3 L1111.2 425.8 Z" fill="#fcc9b2"/><path d="M1002.9 433.7 L1002.7 436.2 L1002.4 436 L1003.4 437.7 L1003.9 439.6 L1004.7 442.1 L1006.3 444.1 L1006.8 446.4 L1007.9 447.6 L1009.2 448.8 L1010.6 449.7 L1012 451.4 L1012.1 453.1 L1013.3 454.5 L1015.1 456.2 L1016 457.7 L1018.4 459.4 L1020.6 460.8 L1021.8 462.2 L1023.4 464.1 L1024.5 467.1 L1022 468.4 L1022.7 470.8 L1021.2 472.4 L1020.1 473.8 L1019.3 475.3 L1019 477.4 L1018.3 478.4 L1018.7 480 L1018.4 482.2 L1018.7 484.5 L1019.4 486.9 L1020.6 489.4 L1021.4 491.6 L1022.2 493.5 L1023 494.8 L1022.9 497.4 L1022.9 499.1 L1022.8 500.5 L1023.4 501.7 L1022.9 503 L1022.8 504.6 L1023.3 506.8 L1024.3 509 L1024.4 510.9 L1022.6 510.5 L1020.3 510.4 L1018.1 510 L1016 510.3 L1014 510.4 L1011.2 511.4 L1008.8 512.1 L1007.1 511.5 L1006.8 512.2 L1004.5 511.9 L1002.5 511.3 L1001.7 509.7 L1001.2 508.6 L1001.1 508 L999.1 506 L997.6 504.3 L997.7 502.5 L996.6 501.4 L996.4 499.2 L995.9 497 L994.7 496.1 L993.7 494.5 L993.5 491.9 L993.3 490 L992.9 488.1 L992 486.9 L991 485.6 L990.8 483.1 L990.4 481.5 L989.7 480.1 L988.2 478.8 L986.6 477.4 L985.7 476 L985.3 474 L983.2 471.8 L982 469.9 L981.5 468.5 L980.6 466.6 L980.2 465.2 L980.2 463.5 L979.8 459.7 L978.2 458.3 L977.5 456.6 L976.8 455.3 L976.6 453.9 L976.1 451.4 L976.2 449.7 L974.3 448.3 L973.4 446 L973.2 444.8 L971.3 442.8 L970.3 440.3 L969.3 439.5 L967.8 437.5 L966.9 436 L966.3 436 L966 434.1 L967.4 434.3 L969.6 433.7 L972 434.2 L974.3 434.9 L975.1 434.6 L977.6 435.3 L980.1 435.8 L982.1 435.2 L982.9 435 L984.4 435.9 L985.8 436.3 L987.3 436.2 L990.4 434.6 L992.8 434.4 L994.8 435.2 L996.7 433.7 L998.4 434.6 L1000.1 434.9 L1001.5 434.2 Z" fill="#fde1d3"/><path d="M1066.1 492.7 L1068.6 493 L1070.6 492.4 L1072.4 491.8 L1074.1 490.9 L1076.5 491.7 L1077.4 491.2 L1078.1 490.7 L1079.6 490.6 L1082.4 490 L1085.1 491 L1086.2 493 L1087.5 494.6 L1089.1 496.9 L1090.7 498 L1091.9 499.1 L1093.5 500.2 L1096 499.4 L1098 498 L1100.3 497.6 L1100.4 499.2 L1099.7 500.3 L1098.8 502.6 L1097.6 504.8 L1097.1 506.4 L1095.2 508.8 L1093.7 510.9 L1092.9 514.2 L1092.8 515.3 L1092.9 516.7 L1092.6 517.7 L1091.9 518.8 L1090.9 519.4 L1089.8 521.3 L1088.3 522.4 L1086.7 521 L1085.1 521.4 L1083.6 521.1 L1081.5 520.1 L1078.1 519 L1077.1 519.2 L1076.1 519.5 L1074.6 519.3 L1073.6 520.1 L1072 519.8 L1070.9 516.8 L1070.3 513.9 L1070 512.6 L1069 510.4 L1067.8 509.3 L1065.7 508.1 L1063.4 507.7 L1061.7 506.4 L1059 507.4 L1056.8 506.9 L1056.5 503.9 L1055.4 501.1 L1056.7 500.4 L1059 498.2 L1061.2 497.6 L1062.2 496.2 L1064 495.3 L1065.4 493.4 Z" fill="#fbc0a5"/><path d="M1039.2 510.3 L1041.4 509.9 L1043.7 510.1 L1045.6 509.7 L1048.7 508.4 L1049.5 507.7 L1051.1 507.1 L1053.8 506.5 L1055.3 507.2 L1056.8 506.9 L1059 507.4 L1061.7 506.4 L1063.4 507.7 L1065.7 508.1 L1067.8 509.3 L1069 510.4 L1070 512.6 L1070.3 513.9 L1070.9 516.8 L1072 519.8 L1073.6 520.1 L1074.6 519.3 L1076.1 519.5 L1077.1 519.2 L1078.1 519 L1081.5 520.1 L1083.6 521.1 L1085.1 521.4 L1086.7 521 L1088.3 522.4 L1087.8 524.7 L1086.3 526.7 L1085.2 528.3 L1083.9 529.7 L1083.3 531.5 L1083.2 533.8 L1082.8 536.1 L1082 537.4 L1080.9 538.7 L1080.5 541.5 L1079.2 543.3 L1078.1 544.4 L1077.8 546.7 L1075.5 546.3 L1073.2 546 L1071.9 546.9 L1069.7 547 L1067.8 546.8 L1065.9 546 L1065.4 545.8 L1063.6 545.3 L1060.9 544.4 L1058.5 542.5 L1056.6 541 L1054.4 538.8 L1055.7 539.1 L1054.9 537.2 L1052.9 535.8 L1051.7 534.3 L1051.2 532.6 L1049.8 529.8 L1049.2 528.4 L1049 527.4 L1047 525.3 L1046.1 523.5 L1045.7 521.8 L1044.4 520.5 L1043.6 519.1 L1042.7 518.2 L1042.4 516.4 L1042 513.5 L1040.1 511.9 Z" fill="#fddecf"/><path d="M877.5 531.1 L879.3 530.4 L882.4 528.9 L884.5 527.7 L886.3 526.8 L887.2 526.1 L889.4 525 L891 524.4 L891.9 524.9 L894.2 525.4 L895.7 525.4 L897.2 525.3 L898.3 525.9 L901.8 525 L903.7 524.5 L904.9 524.3 L906.4 525.9 L907.3 528.2 L908.2 530.4 L907 532.7 L906 533.9 L905.2 536.1 L903.4 537.1 L902.3 539.2 L902.3 540.4 L900.6 540.8 L898.3 542.2 L897 544.6 L896 546.6 L893.8 548.1 L892.5 549.9 L891.6 550.1 L891.6 552.8 L891.4 555.6 L890.9 556.3 L891.4 558.9 L891.7 561.1 L891 561.6 L892.1 564.4 L892.3 566.5 L889.9 565.5 L888 565.6 L885.8 565.2 L883.5 564.1 L881.7 563.8 L879.9 563.7 L878.4 563.9 L877 563.8 L877.2 562.1 L877 560.5 L876.5 558.7 L876.6 557.3 L876.6 556 L875.5 553.5 L876 551.5 L876.6 549.5 L877.5 547.7 L877.9 547.5 L878 545.9 L877.5 542.8 L877 542.3 L877.4 539.9 L877.9 537.3 L877.8 535.4 L877.8 534.2 L877.8 532.9 Z" fill="#fde4da"/><path d="M990 348.2 L992.1 349.4 L994 350.2 L996 350.8 L997.4 351.4 L999 350.7 L1000.6 350.3 L1002.8 351.8 L1005.2 351.4 L1007 353 L1008.2 355.6 L1010.7 355.9 L1010.9 357.6 L1011.9 357.9 L1013.2 359.3 L1015.1 360.8 L1016.6 362.8 L1017.3 364.3 L1017.3 366.2 L1019 368.1 L1019.8 369.8 L1020.6 372 L1021.6 374.4 L1023.1 375.8 L1025.5 376.6 L1026.6 378.7 L1027.1 380.9 L1027.5 381.4 L1028.5 382.4 L1028.9 384.6 L1028.6 386.3 L1028.3 388.2 L1028.1 391 L1028.6 392.2 L1029.4 394 L1030.5 396 L1030.1 397.1 L1030.7 398.3 L1030.8 400.1 L1030.1 401.8 L1030.5 404.6 L1030.2 406.8 L1029.7 408.3 L1030.8 411.4 L1031.6 413.8 L1032.4 415.7 L1033.1 416 L1034.2 417.8 L1034.2 419.2 L1033.5 420.4 L1032 420.8 L1030.3 422.2 L1028 422 L1025.4 422 L1023 421.9 L1020.4 422 L1019 420.5 L1017.1 420.2 L1014.8 421 L1013.8 419.7 L1011.7 419.1 L1009.6 418.6 L1008.1 418.8 L1007.3 418.4 L1005.9 418.3 L1003.5 417.5 L1001.9 416.9 L1000.5 415.8 L999.5 413.4 L997.9 412.1 L996.2 412.2 L994.9 411.4 L993.7 410.3 L991.5 409 L989.5 407.9 L987.9 406.4 L988.4 405 L988.2 403.3 L988.5 401.6 L989.2 400.5 L991.4 398.7 L992.5 397.7 L993.3 396.9 L994.3 395.4 L997.1 393.2 L998.5 390.5 L999.5 389.2 L998.3 387.9 L996.8 386.9 L995.3 385.8 L996 382.9 L995.6 380.8 L995 379.3 L994 376 L992.9 374.7 L992.3 373.6 L990.8 371.7 L989.9 369.7 L988.4 367.7 L988.2 366.8 L986 365.3 L986.3 363 L987.2 360.6 L986.7 358 L988 355.8 L987.4 355.3 L987 353.7 L988.2 350.9 Z" fill="#fde7de"/><path d="M905.5 364.3 L906.1 361.8 L907.9 359.1 L908.6 357.7 L909.2 356.6 L911.1 354.5 L912.5 352.8 L913.6 350.9 L915.2 349.5 L917.6 349 L919.5 346.8 L921 345.6 L923.6 345.4 L925.3 344.7 L926.3 343.8 L927.3 341.6 L928.7 340.6 L931 339.7 L932.7 341.2 L934.2 342.6 L936.1 343.5 L937 344 L939.1 343.1 L941.5 341.9 L943.8 341 L945.1 342.5 L947.1 343 L948.9 342.7 L950.9 342.4 L953.9 342.8 L956 342.4 L957.8 341 L959.3 340.9 L960.7 340.3 L962 339.9 L964.7 341.5 L966.5 340.3 L967.8 339.6 L967.9 342.3 L969.2 342.4 L971.1 342.6 L973.2 343.7 L974.6 344.6 L977 345.5 L979.4 347.3 L980.9 348.8 L979.3 350 L977.8 351.9 L976.3 351.8 L975 352.6 L973 353.8 L970.2 354.9 L968.7 355.4 L966.6 357 L964.9 357.2 L965 358.5 L965.1 360.8 L965 361.9 L965.3 363.5 L965.9 365.5 L966.6 367.6 L966 369.3 L965.4 371.1 L965.9 373.8 L966.2 375.3 L966.2 377.4 L965.8 380.2 L966.9 381.7 L966.8 384.3 L966.1 387.2 L966.7 387.5 L967.4 389.1 L967.5 390.6 L967.2 391.7 L968.5 394.2 L968.8 396.1 L968.8 398.2 L969 401.3 L969.3 403.2 L970.2 405 L971.6 406.8 L970.9 407.5 L970.9 409.7 L970.9 412.1 L971.3 414.9 L971.2 417.3 L970 418.1 L969.6 419.1 L970.3 420.8 L967.9 422.1 L963.9 421.1 L961 421.5 L959 422 L957.6 421.8 L956.7 419.8 L955.7 418.2 L956.2 415.8 L955.2 415.3 L953.5 415.1 L952.9 413.5 L951.3 412 L949.2 411.1 L947.8 409.7 L945.5 409.1 L944.3 408 L941.9 406.5 L940.7 407.4 L938.9 408.6 L936.5 409.9 L933.7 409.3 L932.2 408.7 L930.3 408.5 L928.7 408.5 L928.6 408.2 L925.8 407.5 L923.6 407.4 L921.7 407.1 L920.4 407.5 L918.6 406.8 L916.9 405.8 L915.4 405.1 L914.1 406.4 L911.5 406.1 L908.9 404.3 L908.7 403.4 L908.1 402.5 L906.8 401.6 L905.3 400.6 L904.2 400.1 L904.1 398.3 L903.3 395.9 L902.5 392.8 L901.9 390.7 L899.8 390.7 L898.5 390.2 L895.2 390.2 L892.5 388.8 L893 387.7 L892.9 385.6 L892.5 383.9 L894.1 382.4 L894.3 380.9 L894.8 379.6 L896.4 378.1 L896 376.6 L896.5 374.4 L897.9 372.6 L898.9 370.8 L899.8 369.4 L902.9 368.8 L904.6 367.3 L904.6 365.5 Z" fill="#fdefe9"/><path d="M911.5 406.1 L914.1 406.4 L915.4 405.1 L916.9 405.8 L918.6 406.8 L920.4 407.5 L921.7 407.1 L923.6 407.4 L925.8 407.5 L928.6 408.2 L928.7 408.5 L930.3 408.5 L932.2 408.7 L933.7 409.3 L936.5 409.9 L938.9 408.6 L940.7 407.4 L941.9 406.5 L944.3 408 L945.5 409.1 L947.8 409.7 L949.2 411.1 L951.3 412 L952.9 413.5 L953.5 415.1 L955.2 415.3 L956.2 415.8 L955.7 418.2 L956.7 419.8 L957.6 421.8 L959 422 L959.9 423.3 L961.6 426.6 L963.2 428 L964.8 429.6 L964.8 432.3 L966 434.1 L966.3 436 L966.9 436 L967.8 437.5 L969.3 439.5 L970.3 440.3 L971.3 442.8 L973.2 444.8 L973.4 446 L974.3 448.3 L974.2 450.5 L973.1 452 L972.7 454 L972.3 456.3 L970.7 458.2 L971.5 459.3 L971 460.8 L969.2 461.2 L967.4 462.1 L965.8 461.9 L963.3 462.9 L961.1 463.9 L960.5 464.2 L958.2 464.6 L956.7 464.3 L955.8 463.8 L953.7 464.2 L951.7 464.4 L949.5 463.8 L948.1 465 L946.4 465.8 L944.6 466.8 L942.5 468.1 L941.2 469.7 L938.7 469.4 L937.1 468.3 L935.7 468.6 L934.2 469.2 L932.1 469.4 L929.7 468.4 L927.8 468 L926.3 467.7 L923.5 467.5 L921.5 467.1 L919.4 467 L916.8 467.6 L915.8 465.9 L914.9 464.6 L914.5 464.6 L913.8 461.8 L914.1 458.8 L914.3 457.8 L913 455.5 L912.2 453 L911.5 451.7 L908.4 453 L906.4 453.8 L905.2 453.8 L903.7 453.5 L901 453.9 L898.6 454.1 L898.7 453.1 L901.3 450.5 L901.1 449.4 L901.2 447.9 L900.9 445.9 L900.8 443.1 L901.2 440.6 L902.4 438.9 L903.3 437.5 L903.8 436.1 L904.1 434.4 L904.8 433.1 L905.3 431.2 L905.6 428.2 L906.5 426.3 L906.7 425.4 L907.6 424.1 L909.4 421.5 L912.2 419.7 L912.3 416.8 L911.4 415.4 L911.4 413.4 L911.3 411.5 L911 409.8 L910 408.8 L910.4 407.2 Z" fill="#fdefea"/><path d="M1070.5 445 L1071.7 443.4 L1073.3 442.7 L1075.8 441.2 L1077 440.4 L1079.8 440.6 L1081.7 438.7 L1083.1 438.4 L1083.4 437.9 L1084.9 437 L1087.7 436.4 L1090.2 435.5 L1092.1 436.8 L1093.3 437.9 L1094.4 440.1 L1095.6 440.7 L1096.2 442.9 L1097.8 445 L1098.7 445.9 L1099 447.2 L1099.2 449.9 L1101.1 451.7 L1102.1 454.1 L1100.3 455.4 L1101.3 456.7 L1102.2 458.4 L1102.2 461.1 L1101.9 462.1 L1102.3 463.6 L1103 465.5 L1103.2 467.8 L1102.8 469.7 L1102.3 471.3 L1101.9 472.8 L1101.8 475.4 L1101.6 477.8 L1101.4 480.4 L1100.8 481.8 L1100.8 483.1 L1100.8 483.9 L1100.1 485.5 L1099.4 486.9 L1099.5 489 L1100.4 491.6 L1099.8 493.8 L1099.5 495.4 L1098.4 494.6 L1097 496.4 L1095.4 499.1 L1093.5 500.2 L1091.9 499.1 L1090.7 498 L1089.1 496.9 L1087.5 494.6 L1086.2 493 L1085.1 491 L1082.4 490 L1079.6 490.6 L1078.1 490.7 L1077.4 491.2 L1076.5 491.7 L1074.1 490.9 L1072.4 491.8 L1070.6 492.4 L1068.6 493 L1066.1 492.7 L1065.8 491.1 L1065.9 489.2 L1067.1 486.9 L1065.9 485.9 L1065.8 484.2 L1066.3 482 L1066.6 478.7 L1066 476.4 L1065.1 474.2 L1065.1 473.6 L1065.8 471.2 L1067.1 469.1 L1068.2 467.2 L1066.9 464.8 L1067.2 462.5 L1068.8 461 L1070.6 459.2 L1071.1 456.6 L1072.3 455.2 L1072.8 453.7 L1072.9 450.9 L1072.2 450.1 L1071.7 448.5 L1070.7 446 Z" fill="#fde7de"/><path d="M1043.1 441.6 L1043.9 442.1 L1045.4 443 L1047 443.6 L1048.5 443.5 L1050.4 443.7 L1052.3 443.7 L1054.2 443.6 L1056.2 442.8 L1059 443.4 L1060.9 445.2 L1062.5 444.8 L1064.7 445.6 L1067.5 446 L1068.9 447.2 L1070.1 447.9 L1071 448.9 L1070.9 450.3 L1070.6 451.4 L1070.1 453.9 L1069 456.4 L1068.1 458.7 L1069.2 459.3 L1067.6 460.8 L1066.7 462.5 L1066.9 464.8 L1068.2 467.2 L1067.1 469.1 L1065.8 471.2 L1065.1 473.6 L1065.1 474.2 L1064.2 473.7 L1062.5 473 L1061.2 472.9 L1059.8 471.8 L1057.8 471.9 L1055.6 471.5 L1053.1 469.8 L1051.1 469 L1049.2 468.4 L1047.8 468.9 L1044.9 467.4 L1043 466.1 L1042.5 463.5 L1041.2 461.9 L1038.4 460.4 L1037.6 458.8 L1037.9 457.8 L1039.1 456.7 L1040.2 454.8 L1040.5 452 L1040.8 450 L1041.4 449.1 L1041.3 446.8 L1041.8 444.4 L1043.1 442.7 Z" fill="#fde4d9"/><path d="M1060.9 544.4 L1063.7 545.1 L1065.4 545.2 L1067.5 544.9 L1069.2 545 L1070.1 545.1 L1072.5 545.1 L1075.3 544.6 L1076.5 545 L1077.8 546.7 L1077.3 547.7 L1076.8 548.9 L1076.3 550.8 L1075.6 552.4 L1075.2 555.1 L1075 557.5 L1074.5 559.4 L1074.7 561.5 L1073.9 564 L1073.5 566.4 L1072.1 565.9 L1070.9 565.1 L1068.3 565.1 L1067.1 565.7 L1065.6 566.1 L1062.5 566 L1061.7 565 L1060.2 564.6 L1058.4 564.6 L1056.6 564.7 L1054.5 564.9 L1052.5 565.1 L1051.7 566 L1050.3 565.8 L1048.5 565.4 L1045.6 565.1 L1044.4 563.4 L1042.8 562 L1042.7 560.3 L1041.4 557.2 L1042 554.5 L1042 552.1 L1041.9 550.1 L1043 549 L1043.7 549.2 L1045 549 L1045.9 549.5 L1047.7 549.4 L1050 548.8 L1052.7 547.8 L1054.5 547 L1056.4 545.9 L1058.8 545.1 Z" fill="#fde5db"/><path d="M750.6 651.5 L752.5 651.5 L754.4 651.4 L756.3 651.7 L758.3 651.5 L760.3 651.5 L762.2 651.5 L764.1 651.5 L766 651.6 L768 651.5 L769.6 653.1 L771.5 655 L773.1 656.6 L772.2 658.6 L771.5 660.8 L770.7 663 L768.9 664.3 L766.9 665.4 L765.7 667.1 L764.4 668.7 L763.2 670.4 L761.3 670.1 L759.8 670 L758.3 669.9 L756 669.5 L755.4 666.9 L755 664.1 L754.9 661.5 L752.6 660.5 L750.9 659.5 L750.8 656.9 L750.2 655 L750.6 653.7 Z" fill="#fde5da"/><path d="M800.7 691.2 L802.8 692 L804.9 692.8 L807 693.7 L808.4 694.6 L810.9 694.6 L812.5 695 L814 695.4 L816.4 695.5 L818.5 695.7 L820.5 696.5 L822.7 696.9 L824.9 697.2 L826.3 697.8 L828.7 698.5 L830.9 698.8 L833 699.1 L835.1 700.4 L836.9 700 L838.7 700.3 L839.7 701.5 L841.8 703.6 L843 705.4 L842.9 707 L844.9 708.7 L845.1 710.1 L845.4 711.9 L847 715 L848 715.8 L849.6 718.2 L850.8 720.5 L851.3 721.7 L851.4 723.9 L851 725.7 L851.9 727.6 L851.4 730.2 L850.5 732.2 L848.2 731.7 L846.5 731 L844.5 730.3 L841.8 729.8 L839.7 730.3 L838 729.7 L836.2 729.3 L834.2 728.8 L832.3 729.4 L830.7 730.2 L828.4 731.2 L827.3 729.6 L825.1 729.1 L822.8 728.6 L820.5 728.3 L819.7 727 L817.4 726.1 L817.7 724.4 L818 722.9 L818.4 721 L818.7 719.3 L817.9 717.9 L816.7 716.2 L815.7 714.4 L814 713.5 L812.2 712.1 L809.9 710.5 L807.7 710.6 L806.3 709.6 L804.1 709.4 L802.1 709.3 L801.3 707.9 L800.4 706.5 L799.5 704.9 L799.7 703 L799.7 701 L799.6 698.9 L800.1 697.2 L800.3 695.3 L800.4 693.3 Z" fill="#fdd5c5"/><path d="M804 760 L808.2 755.5 L812.2 760 L808.2 763 Z" fill="#fccdb7"/><path d="M738.9 730.8 L741.3 730.6 L743.3 732 L744.5 731.5 L746.1 730.8 L749.2 730.8 L750.5 731.4 L752.3 731.6 L754.7 731.6 L756.1 732.1 L758.6 732.4 L760.1 732.7 L761.9 732.9 L763.8 733.3 L765.7 733.7 L767.6 734.1 L769.5 734.5 L771.3 734.8 L773.2 735.1 L775.1 735.3 L777 735.8 L778.9 736.1 L780.7 736.5 L782.3 737.1 L784.2 737.4 L786.2 737.8 L788.1 738.1 L787.7 739.9 L787.3 741.9 L786.9 744 L786.3 745.8 L785.9 747.8 L786.4 749.8 L786.9 751.6 L787.7 753.5 L788.2 755.4 L786.2 755.6 L784.3 755.9 L782.6 756.5 L780.8 756.7 L778.8 757.1 L776.8 757.4 L775 757.8 L773.1 758 L771.1 758.1 L769.1 758.2 L766.9 758.1 L764.9 757.9 L762.7 757.8 L760.6 757.8 L759.1 756.1 L757.1 755.3 L755.1 754.2 L752.8 753.1 L751.7 752.6 L750 751.7 L748.3 750.3 L747.8 750 L746.2 749.6 L743.7 749.2 L742.5 749.2 L740.4 749.6 L738 750 L735.5 750.6 L733.7 750.8 L731.8 751 L732.2 748.5 L732.2 746.1 L734.6 743.7 L735.4 741.9 L736 740.2 L736.9 738.3 L736.6 735.8 L738.2 734.6 L739.1 733 Z" fill="#fdefe9"/><path d="M1025.6 559.4 L1027.8 559.7 L1028.7 558.7 L1031 559.5 L1033.4 560.1 L1035 559.2 L1035.9 560.6 L1037.1 561.6 L1039 561.7 L1041.4 561.8 L1043.9 561.2 L1046.3 560.4 L1047.9 558.7 L1049.9 558.7 L1051.6 559 L1053.2 559.6 L1054.3 559 L1055.9 558.6 L1058.1 559 L1059.8 559.9 L1062.3 560.7 L1065.2 561.1 L1066.7 560.4 L1068.1 560.4 L1069.4 560.7 L1071.1 561.6 L1072.1 561.5 L1073.4 560.8 L1073.3 562.6 L1072.1 563.5 L1070.5 564.3 L1068.6 565.6 L1066.7 566.9 L1066.6 568.5 L1065.6 569.3 L1063 570.8 L1061.1 571.8 L1060.4 573 L1058.5 573.3 L1056.6 573.9 L1054.6 574.9 L1054.4 575.6 L1051.5 573.5 L1050.5 573.2 L1049 573.1 L1045.9 573.3 L1043.6 573.2 L1040.1 572.3 L1038.2 571.4 L1036.9 570.9 L1034.7 572 L1032.5 571.2 L1030 570.4 L1028.7 570.9 L1027.9 571.7 L1025.9 571.1 L1023.5 570.4 L1024.5 569.1 L1024.5 567.3 L1024.6 564.4 L1026 560.9 Z" fill="#fdded0"/><path d="M1020.3 574.6 L1023.1 574.6 L1025.7 573.2 L1027.1 573.4 L1028.1 571.6 L1030 570.4 L1032.5 571.2 L1034.7 572 L1036.9 570.9 L1038.2 571.4 L1040.1 572.3 L1043.6 573.2 L1045.9 573.3 L1049 573.1 L1050.5 573.2 L1051.5 573.5 L1054.4 575.6 L1051.9 575.5 L1049.8 576.5 L1048.5 577.4 L1046.3 579.3 L1044.4 581.3 L1044.1 582.3 L1042.8 584 L1040.6 585.6 L1039.1 586.9 L1036.9 587.2 L1036.3 586.2 L1034.6 585.7 L1032.8 583.8 L1030.4 583 L1028.4 582.1 L1027.1 582.4 L1025.4 581.9 L1023.1 581.2 L1022.4 578.1 L1021.9 575.7 Z" fill="#fcc0a8"/><path d="M980.9 597.9 L982.5 597.7 L984.3 597.7 L987 596.7 L987.9 595.2 L989.2 594.1 L990.1 592 L992.8 591.7 L994.2 591.7 L994.7 589.9 L997.2 589.5 L999.1 589.1 L1000.2 588 L1002.9 586.8 L1004.3 588.7 L1006.2 591.5 L1007.4 592.7 L1008.3 594.2 L1010.7 593.8 L1013 595.2 L1014.4 597 L1015.9 598.5 L1015 599.9 L1012.6 600.8 L1011 602.2 L1010 603.3 L1008.1 604.2 L1006.5 606 L1006.1 607.6 L1005.2 608.9 L1003.8 610.4 L1003 613.2 L1000.1 614.1 L997.9 614.1 L996.5 615.6 L996.1 617.3 L994.9 619 L994.9 621.2 L995.2 623 L993.4 624.7 L989.9 627.2 L988.5 628.6 L986.7 628.9 L985.5 629.5 L982.6 630.1 L981.5 628.8 L978.8 626.6 L976.6 625.7 L976.1 624.1 L977.4 622.3 L977.1 620.6 L976.6 618.7 L975.7 616.7 L975.9 613.6 L976.2 612.8 L976.1 611.3 L976.6 609 L977.5 606.5 L977.7 604.3 L977.3 602.3 L978.4 600.7 L979.5 599.4 Z" fill="#fdd0bd"/><path d="M1000.8 577.4 L1002.2 577.2 L1003.4 577 L1005.3 576.9 L1006.7 577.4 L1008.5 577.3 L1010.3 576.4 L1013.5 576 L1015.5 575.2 L1016.9 574.1 L1018 574 L1020.3 574.6 L1021.9 575.7 L1022.4 578.1 L1023.1 581.2 L1025.4 581.9 L1027.1 582.4 L1028.4 582.1 L1030.4 583 L1029.4 585.5 L1027.2 586.6 L1026 588.2 L1026 589.9 L1025 591.8 L1023 592 L1021.5 592.5 L1020.5 593.9 L1019.5 595.1 L1016.9 597.4 L1015.9 598.5 L1014.4 597 L1013 595.2 L1010.7 593.8 L1008.3 594.2 L1007.4 592.7 L1006.2 591.5 L1004.3 588.7 L1002.9 586.8 L1002.2 586.2 L1001.1 583.9 L1000.4 581.9 L1001.2 580.5 Z" fill="#fde2d5"/><path d="M962.5 621.2 L965.2 620.1 L965.5 619 L967.7 618.3 L969.8 618.1 L971.2 620 L972.2 620.6 L974.2 621.4 L975.1 624.1 L976.6 625.7 L978.8 626.6 L981.5 628.8 L982.6 630.1 L982.3 632.9 L981.1 633.9 L981.4 635.4 L980.9 637.4 L980.5 639.3 L977.5 640.8 L975.7 640.5 L974 640 L972.4 639.6 L970.7 639.1 L968.7 638.6 L966.6 638.3 L965.2 637.4 L964.2 635.6 L962.9 633.7 L962.6 630.6 L960.9 629.3 L960.7 628.1 L961.1 626.6 L962.7 624.5 L962.7 622.9 Z" fill="#fcc7b1"/><path d="M965.2 637.4 L966.6 638.3 L968.7 638.6 L970.7 639.1 L972.4 639.6 L974 640 L975.7 640.5 L977.5 640.8 L980.5 639.3 L981.7 641.2 L983.5 642.1 L984.3 642.4 L986.3 644 L989.1 645.7 L987.9 647 L986.4 648.4 L985.5 650.4 L984.9 653.5 L986.4 654.3 L987.9 655.6 L989.7 655.4 L990.2 658 L989.5 659.3 L988.5 661.1 L987.4 662.3 L986.5 664.4 L985.8 667 L984.3 665 L981.9 663.3 L981.1 662.4 L979.9 661.9 L978.5 660.7 L976.8 660.3 L973.6 660.4 L970.9 659.3 L969 657.9 L966.5 658.1 L966.2 657.5 L963.5 658.3 L960.9 658.8 L959.8 659.8 L958.5 659 L955.4 659.4 L955.8 658.2 L956.1 656.7 L956.2 655.3 L958 654.2 L958.1 651.7 L958 649.1 L957.3 647.6 L959 647 L960.7 645.2 L960 642.6 L961.7 640.6 L964 639.9 Z" fill="#fdd6c4"/><path d="M955.4 659.4 L958.5 659 L959.8 659.8 L960.9 658.8 L963.5 658.3 L966.2 657.5 L966.5 658.1 L969 657.9 L970.9 659.3 L973.6 660.4 L976.8 660.3 L978.5 660.7 L979.9 661.9 L981.1 662.4 L981.9 663.3 L984.3 665 L985.8 667 L984.5 667.6 L984.1 668.3 L983.2 670.8 L982.9 672.6 L981 674.6 L979.6 677.4 L983.3 677.3 L985.1 678.3 L986.3 678.7 L988.3 679.1 L990.1 680.4 L990 682.8 L989.1 685.4 L987.1 685.5 L985.3 685.8 L983.6 685.8 L982 685.8 L980.4 685.9 L978 684.9 L976.4 685.9 L975 686.9 L973.1 687 L970.9 686.9 L968.7 687 L966.8 687.2 L965.2 687.8 L964.1 687 L962.2 685.9 L960.7 685.2 L958.4 684 L958.5 681.9 L958.3 680.2 L957.1 679 L956.6 677 L956 675 L955.2 672.8 L954.5 670.1 L954.4 668.5 L955 667.2 L955.4 665.4 L955.6 662.7 Z" fill="#fdded0"/><path d="M952.1 692.3 L953.5 691.2 L956.4 690.2 L958.3 690 L960.6 689.5 L962.1 688.3 L963.5 688.2 L965.2 687.8 L966.8 687.2 L968.7 687 L970.9 686.9 L973.1 687 L975 686.9 L976.4 685.9 L978 684.9 L980.4 685.9 L982 685.8 L983.6 685.8 L985.3 685.8 L987.1 685.5 L989.1 685.4 L988.2 687.8 L987.5 689.3 L987.5 691.7 L987.2 693.4 L987.1 695.5 L987 697.2 L987.4 700.3 L988 701.3 L987.2 704 L987.1 706.6 L988 707.2 L986.5 709 L985 711.3 L985.8 712.4 L984.7 713.2 L981.5 715.2 L980 717.1 L978.8 717.7 L977.3 719.5 L975.7 721.2 L973.9 723 L973.3 724.7 L973 727.3 L972 727.2 L969.8 729.8 L968.9 732.2 L967.9 732.6 L966.6 734 L966 735.4 L963.8 737.5 L962.2 739 L962.1 740.4 L960.3 739.3 L959.1 739.2 L957.6 737.6 L955.4 737 L954.8 735 L953.3 734.2 L951.9 733 L949.7 734.3 L949.3 731.3 L950.1 730.2 L950.2 728.6 L951.3 726.7 L952.5 724 L952.9 721.7 L953.7 720 L954.1 717.2 L954.8 715.4 L954.9 714.6 L955.5 712.6 L956.4 710.7 L956.1 710.1 L954.6 707.8 L953.6 706.2 L952.8 704.8 L952.3 702.3 L952.6 700.5 L953 698.6 L953.3 697.1 L952.5 695.1 Z" fill="#fcc4ae"/><path d="M949.7 734.3 L951.9 733 L953.3 734.2 L954.8 735 L955.4 737 L957.6 737.6 L959.1 739.2 L960.3 739.3 L962.1 740.4 L961.6 742.8 L961.1 745 L961.5 746.6 L960.1 748.7 L960.1 750.5 L960.1 751.6 L959.5 753.5 L959.1 756 L958.8 758 L958.1 759.2 L957 761.7 L956.9 763.7 L956.5 765.7 L956.2 767.6 L956.6 768.4 L956.5 770.6 L956.1 772.8 L953.8 773.9 L952.1 774.5 L949.9 774.7 L946.9 774.1 L945.6 774.8 L943.8 775 L942.2 773.5 L941.7 772.6 L940.6 771.3 L939.4 768.5 L938.7 768 L936.9 766.8 L935.9 765.5 L933.4 764.9 L931.9 764.1 L931.1 763.5 L932.7 762 L933.1 760.2 L933.4 757.6 L934.4 754.6 L934.4 753.7 L934.2 751.9 L934.8 750.6 L936.6 749.3 L938.8 748.3 L939.7 747.6 L941 746.3 L942.1 745.4 L943.1 743.6 L943.9 741.5 L944.5 739.9 L945.2 737.9 L946.9 735.1 L948.2 734.1 Z" fill="#fddccd"/><path d="M931.1 763.5 L931.9 764.1 L933.4 764.9 L935.9 765.5 L936.9 766.8 L938.7 768 L939.4 768.5 L940.6 771.3 L941.7 772.6 L942.2 773.5 L943.8 775 L945.6 774.8 L946.9 774.1 L949.9 774.7 L952.1 774.5 L953.8 773.9 L956.1 772.8 L955.1 774.3 L954.9 775.9 L954.4 777.8 L954.2 780 L953.4 780.9 L953.4 782.5 L953.4 784.4 L952.3 787.3 L952.2 789.7 L952.3 791.4 L950.1 793.3 L950.1 794.8 L950.3 795.8 L949.8 797.7 L948.6 800.1 L948 802.6 L947.3 804.4 L946.6 806.2 L946.7 809.5 L945.8 811.3 L943.5 811.6 L942 811.2 L941.2 810.4 L939.7 812 L937.3 811.7 L935.1 811.2 L933.2 809.7 L931.4 810.6 L929.2 811.5 L926.9 812.2 L924.8 810.9 L923.9 811 L922.8 810.3 L921.4 809 L921.6 808.4 L920.3 806 L920.1 802.9 L919.7 800.2 L919.7 798.1 L921 797.3 L921.2 795.1 L921.1 793.5 L920.4 792.2 L921.3 790.5 L922 788.9 L922.6 787 L924.4 784.5 L924.7 783.2 L924.7 782 L924.3 779.8 L923.8 777.9 L924.2 776.2 L924.9 773.8 L926 771.7 L927.9 770 L929.3 767.5 L928.9 766.5 L929.9 764.6 Z" fill="#fde7de"/><path d="M921.9 589.5 L924.7 589.8 L927.4 589.4 L928.4 587.1 L930.5 586.7 L932.5 587.1 L934.7 587.8 L936.7 589.2 L936.9 589.8 L937.9 591.5 L938.3 594 L938.5 596.3 L938.6 598.1 L939.1 599.7 L940.2 601.8 L941.5 604.4 L943.9 606.2 L945.2 607.8 L946.3 609.3 L947 611.9 L946.5 613.5 L946.2 614.8 L945.7 616.7 L946.1 620.1 L944.1 619.9 L940.8 620.6 L939.2 620.1 L937.4 620.6 L935.7 620.9 L936.1 622.9 L935.8 624.4 L934.3 626.1 L933.3 628.3 L930.6 628.4 L929.3 629.5 L928.4 631 L926 633.2 L924.3 634.1 L923.8 633.9 L921.6 635.1 L920.2 637.9 L918 638.2 L917.1 639 L914.8 640.5 L914.8 639.6 L914.6 638 L914.1 636.9 L913.5 635.6 L915 634.4 L916.2 632.2 L917.9 630.2 L918.9 628.7 L919.8 627.1 L921 626.1 L921.9 624.1 L924 621.9 L924.7 619.7 L923.4 618.3 L924.4 616.2 L925.5 614.2 L925.8 612.7 L925.3 611.3 L924.7 609.7 L923.6 608.7 L922.9 607.2 L921.7 605.3 L921.1 603.9 L920.4 602.8 L921 601.9 L921.6 599.7 L921.6 597.3 L920.5 594.6 L921 593 L921.3 591.1 Z" fill="#fddcce"/><path d="M906.5 600.8 L908.5 601 L910.2 600.8 L912.4 599.6 L915 599.4 L915 601.5 L915.9 604.1 L915.1 604.8 L916.6 607.8 L917 610 L916.4 611.6 L913.9 611.8 L911.1 611.8 L909.3 612.2 L907.8 612 L909.1 609.6 L909.2 607.9 L908.8 605.4 L906.8 603.7 L906 602.4 Z" fill="#fdded0"/><path d="M927 682 L927.6 680.5 L930.9 679.7 L932.5 679.6 L933.6 679.7 L935.2 678 L937.4 678.7 L939.8 679.4 L939.7 679.1 L942.6 678.9 L944.6 679.2 L946.2 680.3 L947.8 680.9 L949.4 681.1 L951.4 681.6 L953.7 682.4 L956.1 683.3 L958.4 684 L957.5 686.7 L955.9 687.8 L954.3 689.6 L952.6 690.2 L952.1 692.3 L952.5 695.1 L953.3 697.1 L953 698.6 L952.6 700.5 L952.3 702.3 L951.2 702.7 L950.7 705.7 L950.3 708 L948.9 709.2 L947.2 709.8 L945.8 710.7 L944.3 711.2 L942 712.7 L940.3 712.9 L938.9 710.6 L937.6 710.2 L935.6 709.2 L933.9 708.4 L932.6 708.8 L930.1 708.4 L929 706 L928.6 703.8 L929.3 702 L928.4 700.7 L928 698.8 L928.1 695.9 L927.4 693.7 L927.8 691.6 L927.7 690.3 L927.3 689.3 L926.9 687.2 L927.2 684.5 Z" fill="#fde4d9"/><path d="M894.8 715.1 L896.6 713.2 L898.6 712.9 L901 712.2 L902.7 710.8 L905 710.4 L906.8 710.5 L908.2 710.9 L909.7 711.7 L912.9 713 L915 713.2 L916.6 714 L917.2 715.5 L918 717.5 L919 719.2 L919.5 720.2 L917.1 720.7 L913.5 721.7 L910.7 723.5 L911.4 724.6 L910.4 725.2 L911 726.6 L909.1 729.6 L908.5 732 L906.8 732.7 L907.4 735.3 L907.6 737.6 L906.9 739.5 L907.5 741.4 L906.1 741.9 L905.2 743 L906.7 745.9 L905.2 748.9 L904 750.8 L904 752.5 L902.1 754.1 L900.3 752.1 L899.3 750.2 L899.1 748.5 L898.6 745.8 L897.6 744.2 L896.6 743.1 L896.4 741.2 L895.6 739.4 L894.8 737.6 L894.1 735.2 L893.4 733.9 L893.4 733.3 L893.1 731.7 L893.2 730.1 L893.5 728 L893.8 725.8 L894.5 723.1 L894.1 722.4 L894.2 720.2 L894.6 716.6 Z" fill="#f4f6f7"/><path d="M963.9 620.9 L965.7 619.6 L966.9 618.8 L969.9 618.1 L970.7 620 L970.9 621.1 L972.8 622.1 L974.9 623.5 L975.3 624.9 L977.4 625.4 L980.4 626.4 L983.5 628.3 L983 628.6 L982.8 630.8 L982.3 633.2 L981.4 634.5 L982.1 635.8 L981.2 638.1 L979 638.7 L976.4 639.9 L974.8 638.6 L972.8 638.3 L970.8 637.9 L968.9 637.8 L966.8 637.9 L965.5 636.7 L964.1 635.7 L962 634.5 L962.4 632.3 L962.9 630.1 L962.6 628.8 L962.6 627.6 L963 626.2 L964.4 624.3 L963.8 622.7 Z" fill="#fcc7b1"/><path d="M1029.2 572.4 L1031.2 572.8 L1033.7 572.6 L1035.9 571.7 L1037.9 570 L1038.6 571 L1041.7 572.2 L1044.7 572.7 L1047.3 572.5 L1049.8 571.7 L1050.7 573 L1052.2 573.6 L1054.5 575.1 L1054.7 575.5 L1056.9 575.9 L1058.7 576.1 L1058.9 577.2 L1058.5 577.5 L1057 578.4 L1055.2 578.7 L1053.3 579.6 L1050.9 581.4 L1049.3 582.6 L1046.9 584.6 L1045.3 584.2 L1044.3 584.6 L1042.8 585.6 L1040.1 586.1 L1039 584.3 L1037.1 582.9 L1035.1 582.3 L1031.8 580.7 L1031.8 578.7 L1031.5 576.6 L1029.8 574.6 Z" fill="#fcbea6"/><path d="M1018.8 593.7 L1020.3 592.1 L1022.8 591.4 L1024.8 591 L1025 588.9 L1026 587.3 L1028.3 585.6 L1030.1 583.1 L1031.8 580.7 L1034.8 582.2 L1036.7 582.9 L1038.5 583.6 L1040.1 586.1 L1039 587.6 L1037.7 588.7 L1037.6 591.5 L1036.5 593 L1035.1 593.9 L1034.8 594.9 L1033.4 595.8 L1032.4 597.2 L1031.3 598.7 L1030 599.9 L1029.9 601.4 L1027.3 601.9 L1025.8 601.8 L1023.8 602.1 L1022.5 602.6 L1020.2 600.8 L1019.4 600 L1020 596.1 Z" fill="#ef5a43"/><path d="M1010.1 599.2 L1012.3 597.7 L1014 595.3 L1016.1 595 L1018.8 593.7 L1020 596.1 L1019.4 600 L1020.2 600.8 L1022.5 602.6 L1023.8 602.1 L1025.8 601.8 L1027.3 601.9 L1029.9 601.4 L1028.4 603.8 L1026.6 606.8 L1025.6 608 L1025.2 609.6 L1024.2 612.4 L1022 612.7 L1021.7 614.4 L1020.6 616.6 L1019 616.2 L1018.2 616 L1017.6 615.8 L1014.5 612.5 L1013.1 610.8 L1011.8 609.7 L1010.8 608.2 L1010 606.8 L1010.5 605 L1010.7 603.2 L1009.9 601 Z" fill="#f98c6e"/><path d="M1005.8 600 L1008.3 598.8 L1010.1 599.2 L1009.9 601 L1010.7 603.2 L1010.5 605 L1010 606.8 L1010.8 608.2 L1011.8 609.7 L1013.1 610.8 L1014.5 612.5 L1017.6 615.8 L1018.2 616 L1019 616.2 L1020.6 616.6 L1020.2 620.1 L1018.2 622 L1017.4 623.8 L1015.8 625.5 L1013.9 624.3 L1012.8 623.8 L1009.7 621.9 L1007.4 620 L1006.2 618.6 L1003 617.2 L1001.6 616 L999.5 614.5 L999.8 613.4 L1001 611.4 L1002.3 608.8 L1004.2 608.1 L1004.2 606.2 L1004.9 603.5 L1006.4 602.8 Z" fill="#f67a5c"/><path d="M996.3 615.7 L997.8 613.4 L999.8 613.4 L999.5 614.5 L1001.6 616 L1003 617.2 L1006.2 618.6 L1007.4 620 L1009.7 621.9 L1012.8 623.8 L1013.9 624.3 L1015.8 625.5 L1015 627.5 L1014.1 627.3 L1014.2 630.3 L1013.8 632.3 L1012.4 634.6 L1010.9 635.6 L1009.6 635.1 L1006.4 634.6 L1004.6 635.5 L1002.4 635.8 L1000 635.1 L998.7 635.7 L997.4 633.4 L996.4 630.8 L996.2 628.8 L996.4 626.8 L996.3 623.6 L995.9 622.1 L995.1 621.1 L993.4 618.7 L995.4 617.8 Z" fill="#f67a5c"/><path d="M983.5 628.3 L986.2 627.5 L989.1 626.5 L990.3 626.7 L992.2 628.1 L994.2 626.1 L995.3 623.2 L995.9 622.1 L996.3 623.6 L996.4 626.8 L996.2 628.8 L996.4 630.8 L997.4 633.4 L998.7 635.7 L997.3 637.1 L997 640.3 L996.8 641.9 L994.8 642 L992.3 641.6 L990.1 641.4 L987.9 640.4 L985.7 638.9 L982.5 639.3 L981.2 638.1 L982.1 635.8 L981.4 634.5 L982.3 633.2 L982.8 630.8 L983 628.6 Z" fill="#f26a50"/><path d="M988.8 628.9 L992.6 627 L995.7 628.9 L997 632.7 L995.7 635.8 L992 637 L989.4 635.2 L988.2 632 Z" fill="#7a1a25"/><path d="M981.2 638.1 L982.8 638.7 L986.2 638.1 L988.1 640.1 L990.2 641.3 L992.3 641.6 L994.8 642 L996.8 641.9 L997 640.3 L997.3 637.1 L998.7 635.7 L1000.8 635.1 L999.9 638.6 L1000.4 640 L1001.5 642.3 L1001.6 644.7 L1001.1 646.6 L1000.4 647.2 L997.6 648.8 L997.4 649.1 L996.6 651.1 L995.6 653.3 L994.7 654.7 L993 657.1 L989.7 656.4 L986.4 657.2 L986.4 652.9 L985.8 649.4 L984.4 648.2 L984.3 646.6 L982.1 643.8 L981.8 642.9 L981.3 640.9 Z" fill="#ef4a35"/><path d="M986.3 650.2 L992.6 647.7 L996.3 647.7 L995.1 652.7 L992.6 656.5 L987.6 655.2 Z" fill="#f4715a"/><path d="M1000.8 635.1 L1003.3 636 L1005 635.1 L1007.1 634.7 L1009.9 635.1 L1010.9 635.7 L1012.4 634.6 L1013.5 637 L1012.9 639.4 L1011.6 641.3 L1010.6 643.4 L1009.9 646 L1009.4 649.2 L1008.4 650.4 L1006.8 650 L1004.7 648.4 L1002.8 648.6 L1000.4 647.2 L1001.1 646.6 L1001.6 644.7 L1001.5 642.3 L1000.4 640 L999.9 638.6 Z" fill="#f3dcd4"/><path d="M997.4 649.1 L997.6 648.8 L1000.4 647.2 L1002.8 648.6 L1004.7 648.4 L1006.8 650 L1008.5 649.5 L1008.5 651.5 L1006.9 652.4 L1004.8 654.1 L1004.1 656 L1003 657.4 L1001.6 657.8 L999.9 657.8 L998.3 657.1 L997 654.4 L995.6 653.3 L996.6 651.1 Z" fill="#e8452f"/><path d="M993 657.1 L994.7 654.7 L995.6 653.3 L997 654.4 L998.3 657.1 L999.9 657.8 L1001.6 657.8 L1000.4 660.1 L998.7 661.3 L996.4 661.9 L995.7 664 L995.2 666 L994.9 668.5 L994.9 672.3 L994.5 672.9 L994.6 675 L991.5 677.2 L988.9 677.7 L986.7 678.1 L984.8 678.3 L983.3 677.3 L980.1 677.4 L981.2 674.3 L982.6 672.2 L983 670.2 L984.1 667.8 L985 667.8 L986.7 666.7 L988 663.6 L989.2 661.9 L989.8 660.3 L992.3 659.5 Z" fill="#ef4f3a"/><path d="M934 767.7 L936 768.7 L938 769 L938.8 768.9 L940.2 770.6 L942 770.9 L943.1 771.2 L945 773.1 L946.6 772.6 L946.7 774.2 L948.4 776.4 L950.3 778.3 L950.5 779.5 L950.8 783.1 L950.1 784.2 L950 786.6 L950.2 789.4 L950.6 791.7 L948.6 793.2 L949.1 794.5 L949.2 796.3 L948.2 798.2 L946.8 801.8 L946.4 803.4 L945.5 805.1 L944.7 807.5 L944.4 809.8 L943.2 811.7 L942.3 813.9 L941.8 816.2 L942 818.6 L942.4 818.9 L943 821 L943.8 822.3 L944.4 824.4 L943.2 826.2 L944.3 829.5 L944.5 831.6 L944.2 833.6 L943.5 836.3 L943.8 836.4 L941.9 839.5 L942.2 841 L942.6 842.6 L940.7 841.3 L938.9 840.6 L937.4 840.4 L936.1 839.2 L934.3 838.2 L932.3 838.2 L932.2 837.4 L931.2 836.4 L929.7 836 L927.9 834.2 L926 832.9 L924.3 833.2 L923 832.1 L921.9 831.4 L919.3 830.4 L917.8 830.4 L916.7 829.8 L915.8 827.4 L915.9 825.8 L916.8 824 L917.9 822 L918.2 819.9 L918.5 818 L919.2 816.6 L918.9 814 L919.6 811.3 L921.3 809.2 L922 808.9 L922 807.4 L922.4 804.9 L921.7 802.6 L920.9 799.9 L920.8 797.9 L921.2 796.6 L920.9 794.1 L919.4 793.4 L919.1 792 L918.8 790.5 L919.3 788.2 L921.4 786.2 L922.6 784.9 L923.8 783.5 L924.3 782.9 L924.7 781.5 L924.1 779.1 L924.5 777.8 L925.2 775.8 L926.5 773.6 L928.1 772.5 L929.3 771.1 L931.5 768.9 Z" fill="#fde7de"/><path d="M540.5 532.1 L548 532.1 L548 539.1 L540.5 539.1 Z" fill="#fde5db"/></g>
<g font-family="Liberation Sans" font-weight="bold" fill="#7d8797" fill-opacity=".12">
<text x="783" y="522.5" font-size="12" textLength="81">NEW SOUTH</text>
<text x="800.7" y="537.5" font-size="12" textLength="47">WALES</text>
<text x="848.8" y="549" font-size="10.2" textLength="35">Dubbo</text>
<text x="945.3" y="486.5" font-size="10.2" textLength="52.6">Tamworth</text>
<text x="985.4" y="456.4" font-size="10.2" textLength="47.6">Armidale</text>
<text x="1056.8" y="415" font-size="10.2" textLength="39">Grafton</text>
<text x="1073" y="366.2" font-size="10.2" textLength="40.2">Lismore</text>
<text x="1011.7" y="508.5" font-size="10.2" textLength="79">Port Macquarie</text>
<text x="982.9" y="591" font-size="10.2" textLength="52">Newcastle</text>
<text x="955.3" y="643" font-size="10.2" textLength="36">Sydney</text>
<text x="927.7" y="674.5" font-size="10.2" textLength="57.7">Wollongong</text>
<text x="858.8" y="722.8" font-size="10.2" textLength="45.2">Canberra</text>
<text x="868.8" y="608.5" font-size="10.2" textLength="36.4">Orange</text>
<text x="726.8" y="665" font-size="10.2" textLength="33.8">Griffith</text>
</g>
<g fill="none" stroke="#2a2624" stroke-width="1" stroke-opacity=".82" stroke-linejoin="miter"><path d="M778.1 362.7 L777.7 364.6 L777.6 366.4 L777.6 368.4 L777.4 370.3 L777 372.2 L776.8 373.9 L777.8 375.5 L778.8 377.1 L779.8 378.7 L780.8 380.3 L781.4 382 L782.3 383.6 L783.4 385.4 L784.1 386.9 L784.9 388.7 L785.6 390.7 L786.6 392.3 L787.6 393.9 L788.8 395.2 L789.7 396.8 L790.5 398.5 L789.1 399.9 L787.7 401.2 L786.1 402.3 L784.6 403.6 L783.1 405.2 L782.7 407.1 L782.4 408.9 L782 410.7 L781.8 412.6 L781.6 414.3 L781.2 416.1 L780.9 418.1 L780.6 419.9 L780.3 421.7 L779.6 423.7 L779.3 425.5 L779.2 427.3 L779.2 429.1 L778.9 430.9 L778.8 432.7 L778.7 434.6 L778.5 436.5 L778.3 438.5 L778.1 440.4 L778.7 442.2 L779 443.9 L779.3 445.7 L779.6 447.7 L780.2 449.5 L780.6 451.2 L781.2 452.9 L781.7 454.6 L782.1 456.5 L780.1 457 L777.9 457.6"/><path d="M665.5 423.9 L667.4 424.2 L669.4 424.6 L671.3 424.9 L673.4 425.1 L675.3 425.3 L675.6 427.4 L675.8 429.5 L676.2 431.5 L676.4 433.4 L676.6 435.3 L675.1 436.5 L673.6 437.8 L672.1 438.9 L670.6 440.1 L669 441.3 L670.3 442.6 L671.6 444 L672.9 445.4 L674.2 446.8 L675.3 448.1 L676.6 449.4 L677.9 450.7 L679.1 452 L680.4 453.2 L681.7 454.6 L683 456 L684.2 457.2 L685.5 458.5 L686.6 459.8 L687.8 461.1 L689.1 462.5 L690.3 463.8 L691.5 465.2 L692.7 466.5 L694 467.8 L695.4 469.2"/><path d="M665.4 435.3 L669.1 441.5"/><path d="M695.4 469.2 L696.9 470.2 L698.4 471.1 L699.9 472 L701.6 473 L703.1 474 L704.7 473.1 L706.4 472.3 L708.1 471.5 L709.8 470.6 L711.4 469.8 L713 469 L713.7 466.9 L714.5 465 L715.4 462.8 L717 462 L718.8 461.5 L720.6 460.8 L722.4 460.2 L724.2 459.7 L726 459.2 L727.7 458.4 L729.5 457.8 L730.3 459.3 L731.2 460.8 L732.4 462.4 L733.4 463.9 L734.3 465.4 L735.3 466.8 L736.3 468.3 L737.2 469.8 L738.2 471.3 L739.2 472.9 L740.4 471.3 L741.6 469.7 L743 468.3 L744.3 466.8 L745.6 465.3 L747.4 464.6 L749.3 463.8 L750.9 463.1 L752.6 462.3 L754.3 461.6 L756.1 460.6 L757.7 459.6 L759.3 458.6 L760.9 457.7 L762.5 456.8 L763.9 455.8 L765.4 454.8 L766.6 456.1 L768 457.4 L769.3 458.8 L770.6 460.2 L771.9 461.5 L773.1 462.8 L774.7 461.1 L776.3 459.3 L777.9 457.6"/><path d="M695.4 469.2 L693.5 469.6 L691.5 469.9 L689.7 470.2 L687.8 470.6 L686 471 L684.2 471.5 L682.7 473 L681.2 474.5 L679.7 476 L678.2 477.5 L676.8 479.1 L675.5 480.6 L673.9 481.8 L672.3 482.9 L670.7 484.1 L668.9 485.3 L667.4 486.7 L665.9 488.1 L664.3 489.3 L665.4 490.7 L666.5 492.3 L667.7 493.9 L668.7 495.4 L669.8 496.9 L671.2 498.4 L672.3 499.9 L673.3 501.5 L674.6 502.9 L675.8 504.5 L677 506 L678.1 507.5 L679.2 508.9 L680.3 510.4 L682.5 510.8 L684.7 511.3 L686.9 511.7 L685.8 513.1 L684.8 514.5 L683.6 516 L682.6 517.6 L681.6 519 L680.5 520.4 L678.9 521.6 L677.3 523 L675.6 524.3 L674.1 525.5 L672.4 526.7 L671 527.9 L669.4 529.3 L667.9 530.6 L668.8 532 L669.9 533.4 L671 534.7 L672 536.3 L673.1 537.8 L674.4 539.4 L675.9 540.9 L677.2 542.3 L678.6 543.7 L679.9 545.2 L681.4 546.7 L682.9 547.9 L684.4 549.3 L686 550.7 L687.6 551.9 L689.1 553 L690.6 554.3 L692.3 555.6 L694.1 557 L695.6 558.3 L697.4 558.9 L699.2 559.3 L701 560 L702.9 560.7 L704.9 561.4 L706.7 561.8 L708.6 562.4 L710.5 563.1 L711.8 564.7 L713 566.2 L714.3 567.6 L715.6 569 L716.8 570.5 L718.1 572"/><path d="M777.9 457.6 L778.4 459.5 L778.8 461.5 L779.2 463.4 L779.4 464.9 L779.8 466.6 L780.2 468.5 L780.7 470.3 L779.1 471.6 L777.5 473 L775.9 474.1 L774.5 475.2 L774.8 477.2 L775.3 479.2 L775.8 481.2 L776.3 483.3 L776.8 485.4 L778.5 486.4 L780.5 487.3 L782.4 488.4 L784.1 489.5 L785.9 490.5 L784.8 492 L783.7 493.4 L782.7 495 L781.7 496.6 L780.7 498 L779.8 499.4 L778.7 500.9 L777.9 502.5 L776.8 504 L775.6 505.6 L776 507.2 L776.3 509 L776.6 510.8 L777.1 512.6 L777.4 514.3 L778.1 516.2 L778.6 518.1 L778.9 519.8 L779.5 521.6 L779.9 523.6 L780.2 525.6 L780.4 527.4 L780.8 529.2 L781.2 531 L781.9 532.7 L782.2 534.4 L782.5 536.1 L782.9 537.9 L783.3 539.9 L783.6 541.9 L783.8 543.8 L784.2 545.4 L784.6 547.1 L785.2 548.8 L785.4 550.5 L786.1 552.3 L786.8 554.2 L787 556.2 L787.6 557.9 L788.2 559.6 L788.8 561.7 L789.2 563.3 L789.7 565.2"/><path d="M587.7 591.3 L589.7 591.8 L591.8 592.2 L593.9 592.6 L594.2 590.7 L594.6 588.8 L594.9 587 L595.4 585.3 L597.2 585 L599.1 584.8 L600.9 584.6 L603.1 584.4 L605 584.2 L606.9 584 L608.9 583.9 L610.8 584 L612.7 583.9 L613.5 581.8 L614.5 579.5 L615.3 577.5 L617.2 577.5 L619 577.5 L621 577.6 L622.9 577.6 L624.7 577.6 L626.7 577.8 L628.5 577.9 L630.4 577.9 L632.2 577.9 L634.2 578 L636.1 578.1 L637.9 578 L639.1 579.5 L640.3 580.9 L641.6 582.4 L642.7 583.8 L644.9 584.3 L646.9 584.5 L648.9 585 L649.4 586.9 L649.8 588.8 L650.1 590.7 L650.5 592.8"/><path d="M650.5 592.8 L648.8 593.4 L647 594 L645.4 594.6 L643.8 595.3 L642.2 596.1 L640.4 596.6 L638.6 597.3 L636.9 598 L635.2 598.8 L634.7 600.7 L634.2 602.4 L633.7 604.1 L633.2 605.9 L632.8 607.6 L632.4 609.4 L631.8 611.2 L631.3 613 L630.7 614.7 L630.2 616.5 L628.6 617.5 L627 618.5 L625.3 619.5 L623.6 620.5 L621.8 621.8 L620.2 622.8 L619.9 624.7 L619.6 626.5 L619.3 628.5 L619 630.4 L618.8 632.3 L618.4 634.3 L618.4 636.2 L618.1 638.1 L617.8 640.1 L616 641.2 L614.2 642.5 L612.4 643.9 L610.6 645.2 L609 646.5 L609.1 648.4 L609.1 650.4 L609.3 652.3 L609.4 654.3 L609.1 656.4 L608.9 658.3 L609.2 660.2 L610 661.7 L610.5 663.6 L610.7 666.1 L610.6 667.1 L609.4 667.3 L607.4 668.5 L604.8 669.3 L602.3 670.3 L602.1 672.1 L602 673.9 L602.3 676.2 L602 677.6 L601.7 679.4 L601.4 681.2 L601.5 683.7 L601.1 685.3"/><path d="M635.2 598.8 L637 598.6 L638.9 598.3 L640.7 598.1 L642.6 597.9 L644.4 597.9 L646.1 597.6 L647.9 597.3 L649.8 597.2 L651.5 597.1 L653.2 597 L655.1 596.8 L656.8 596.7 L658.6 596.6 L660.4 596.4 L662.3 596.4 L664.3 596.6 L666.2 596.7 L668.1 597 L670 596.9 L672 597.1 L674 597.3 L675.9 597.4 L677.9 597.6 L679.1 599.1 L680.4 600.7 L681.6 602.2 L682.9 603.5 L684.3 605"/><path d="M684.3 605 L686 604.6 L687.8 604.4 L689.5 604.2 L691.3 604 L693.3 603.7 L695.2 603.4 L696.9 603.1 L698.6 602.9 L700.3 602.5 L701.1 600.8 L701.9 599 L702.6 597.2 L703.3 595.3 L704 593.6 L704.6 591.8 L705.3 590 L707.2 589.8 L709 589.4 L710.8 589.1 L712.6 588.8 L714.2 588.4 L716.1 588 L718.1 587.6 L718.4 585.8 L718.7 584 L719 582.2 L719.2 580.4 L719.4 578.6 L719.6 576.7 L719.9 574.8 L720.2 573.1 L720.4 571.3 L722.4 570.9 L724.3 570.6 L726.2 570.4 L728 570.1 L729.7 570.5 L731.5 571 L733.3 571.4 L735.2 572.1 L737.1 572.6 L738.9 573.1 L740.6 573.8 L741.9 575.6 L743.1 577.5 L743.3 579.2 L743.4 580.9 L743.5 582.7 L743.7 584.5 L743.9 586.5 L744.1 588.4 L744.3 590.1 L746 590.6 L748 590.7 L749.8 590.9 L751.6 591.2 L753.4 591.6 L755.2 591.8 L757 592 L758.9 592.1 L760.7 592.4 L761.9 594 L763.1 595.6 L764.4 597 L765.8 598.5 L766.9 599.8 L768.8 599.3 L770.5 598.8 L772.3 598.2 L773.9 597.5 L775.5 596.8 L777.2 596.2 L778.9 595.5 L780.6 595 L782.1 594 L784.1 593.4 L785.9 592.6 L787.7 591.7 L789.6 590.6 L791.5 589.8 L793.4 589 L793.1 586.9 L792.5 585.1 L792.4 583.1 L792.1 581.3 L791.7 579.5 L791.3 577.7 L790.9 575.9 L790.5 574.1 L790.1 572.3 L790.1 570.7 L790 569 L789.8 567.3 L789.4 565.4 L789.1 563.6 L788.8 562 L788.4 560"/><path d="M720.5 571.3 L710.5 570 L710.5 560"/><path d="M684.3 605 L684.6 606.8 L684.9 608.6 L685.3 610.3 L685.6 612.2 L685.9 614 L686.2 616 L686.7 617.7 L687.3 619.4 L687.9 621.1 L688.4 622.9 L688.9 624.7 L689.3 626.5 L689.8 628.3 L690.2 630 L690.5 631.6 L691.1 633.3 L691.6 635.1 L691.9 637.2 L692.1 639.3 L692.3 641.3 L692.4 643.5 L692.6 645.6 L692.9 647.7 L695 648.1 L697.1 648.5 L699 649.1 L697.4 650.3 L695.7 651.5 L693.8 652.7 L692.3 654 L691.2 655.7 L689.4 655.7 L687.9 656.7 L685.2 656.8 L682.9 657 L681.7 656.7 L679.1 657.4 L677.2 658.4 L675.6 659.3 L674.1 660.6 L672.7 662.1 L671.2 662.8 L669.8 663.7 L667.9 664.4 L666.2 665.2 L664.3 665.9 L662.2 666.8 L661.4 668.2 L659 668.7 L657.5 668.8 L656.6 669.6 L655.6 671.4 L654.1 673.2 L652.8 674.5 L651.6 676.3 L650.9 678.6 L649.8 680 L649 681.4 L648.4 683.1 L647.9 685 L647.7 686.7 L646.9 688.8 L645.6 690.7 L645.1 692.6 L644.6 694.7 L644.4 696.6 L644 698.3 L641.2 697.4 L639.9 697.5 L636.9 697.4"/><path d="M664.3 665.9 L664 668.2 L663.6 670 L663.8 671.7 L664.4 673.4 L663.8 675.8 L664 677.7 L664.3 679.4 L664.7 680.8 L664.5 682.8 L665.3 684.2 L667.8 684.8 L669.2 686.1 L670.6 687.1 L673.3 687.8 L675 688.4 L676.2 688.1 L677.8 687.8 L679.4 687.8 L680.5 688.2 L683.2 689.3 L685.2 689.3 L686.9 688.9 L690.1 689.6 L691.1 689.9 L692.2 689.9 L693.6 689.6 L695.5 689.3 L697.7 689.6 L700.1 690.7 L701.6 690.9 L703.1 691.6 L704.5 692.3 L707 690.8 L708.6 690.7 L710.2 690.9 L713 691.3 L714.4 690.9 L715.8 690.8 L717.3 691.2 L719.1 691.5 L720.8 691.8 L722.5 692 L722.4 690.1 L723.2 688 L723.6 686.7 L724 685.2 L724.1 683.2 L723.8 682 L724.3 680.6 L725 679 L724.1 676.3 L724.9 674.9 L725.5 673.5 L724.9 671.8 L725.7 668.4 L725.5 666.2 L725.2 664.6 L726 663.7 L725.8 661.3 L725.6 659.5 L725.3 657.8 L724.6 655.6 L724.4 653.7 L723.5 652.2 L722.4 650.8 L721.3 649.3 L720.5 647.8 L719.5 646.3 L718.5 644.7 L717.5 643.3 L716.5 641.8 L715.6 640.3 L717.2 639 L718.6 637.7 L720.1 636.4 L721.6 635.3 L723.1 634 L722.1 632.2 L721.4 630.6 L720.4 628.9 L718.5 629.7 L716.6 630.3 L714.8 630.7 L713 631.3 L711.4 630.1 L709.9 628.9 L708.3 627.7 L706.9 626.5 L706.5 624.2 L706.2 622 L705.9 619.7 L705.6 617.5 L703.7 617.7 L701.7 617.8 L699.5 618.1 L697.6 618.3 L695.7 618.4 L693.8 618.4 L691.7 618.6 L689.8 618.8 L687.9 618.9"/><path d="M675 688.4 L674.7 690 L674.4 691.4 L673.7 693 L673.8 694.8 L674.2 696.8 L674.2 698.5 L674.5 701.1 L674.9 703.1 L673.5 704.1 L672 705.7 L671 707.7 L672.3 708.4 L673.8 709.5 L675.5 710 L676.8 710.5 L678.1 711.6 L680.1 712.5 L681.8 713.4 L683.4 713.7 L686.2 714.8 L687.8 715.8 L689.9 717.6 L691.5 717.9 L693.8 719.2 L695.8 721.3 L697.1 722 L698.2 722.2 L699.9 723.4 L701.1 724.2 L701.7 725.5 L703.1 726.7 L705 727.5 L706.9 729.1 L708.7 729.2 L710.8 730.3 L713.3 730 L714.3 730.8 L715.8 731.2 L717.6 731.4 L717.6 733.6 L718.6 735.3 L720.1 735.8 L721.9 736.7 L723.3 737.5 L724.7 738.1 L726.6 738.9 L728.6 739.8 L730.2 740.1 L732.3 741 L734.6 741.8 L735.4 741.9 L735.5 740.2 L736 738.4 L735.8 735.9 L736.6 734.5 L737.4 733.1 L737.1 731.1 L737.4 729.1 L737.6 727.4 L737.2 725.9 L737.7 723 L737.3 721.2 L737.2 719.6 L738.4 717.3 L738.4 715.7 L738.5 713.8 L738.4 711.4 L739.3 709.6 L739.8 708.6 L740.3 707.5 L741.4 705.8 L741.9 703.2 L742.1 700.8 L742.2 699.7 L742.3 697.6 L742.6 695.7 L742.6 694.1 L741 694.3 L738.9 694.2 L737.1 694.1 L735.9 693.9 L733.7 693.5 L731.9 693.2 L730.4 692.9 L728.8 693.7 L726.9 693.2 L724.8 692.5 L722.5 692"/><path d="M742.6 694.1 L744.2 693.6 L745.9 693.4 L747.9 695.1 L750 695 L751.9 694.7 L753.5 693.8 L755.4 694 L757.5 694.4 L759.7 694.9 L761.4 695 L763.1 695 L764.9 695.1 L766.8 695.3 L768.6 695.4 L770.5 695.5 L772.4 696.1 L774.2 696.7 L775.9 697.2 L777.5 697.8 L779.3 698.2 L781.1 698.8 L782.7 699.2 L784.4 699.8 L786.1 700.4 L787.8 701 L789.6 701.3 L791.4 701.9 L793.1 702.9 L795.1 703.4 L797.1 703.8 L798.9 704.6"/><path d="M693.8 719.2 L693.6 721.2 L692.8 723.5 L692.1 725.2 L691.7 727.1 L691.5 728.9 L691.5 731 L690 732.5 L687.9 733.2 L686.2 734.6 L685.4 735.8 L685.3 737.5 L685 739.2 L684.8 741.2 L685.7 743.6 L685.3 745.5 L685.8 747.2 L687.2 748.8 L687 750.9 L687.1 752.4"/><path d="M735.5 741.7 L731.8 745.5 L731.8 750.5"/><path d="M738.9 730.8 L741.3 730.6 L743.3 732 L744.5 731.5 L746.1 730.8 L749.2 730.8 L750.5 731.4 L752.3 731.6 L754.7 731.6 L756.1 732.1 L758.6 732.4 L760.1 732.7 L761.9 732.9 L763.8 733.3 L765.7 733.7 L767.6 734.1 L769.5 734.5 L771.3 734.8 L773.2 735.1 L775.1 735.3 L777 735.8 L778.9 736.1 L780.7 736.5 L782.3 737.1 L784.2 737.4 L786.2 737.8 L788.1 738.1 L787.7 739.9 L787.3 741.9 L786.9 744 L786.3 745.8 L785.9 747.8 L786.4 749.8 L786.9 751.6 L787.7 753.5 L788.2 755.4"/><path d="M761.9 732.9 L761.8 734.7 L761.7 736.6 L761.6 738.6 L761.5 740.5 L761.4 742.6 L761.3 744.6 L761.2 746.4 L761 748.3 L760.9 750.2 L760.8 752 L760.8 753.9 L760.8 755.8 L760.6 757.8"/><path d="M770.5 695.5 L768.8 696.8 L767.4 698 L765.8 699.2 L764.3 700.4 L763.9 702.2 L763.4 704 L762.9 706 L762.4 707.9 L761.8 709.8 L761.3 711.8 L760.9 713.6 L760.5 715.4 L761.4 717.4 L762.1 719.3 L762.7 721.1 L763.2 723 L762.9 725 L762.8 727 L762.6 729.1 L762.2 730.9 L761.9 732.9"/><path d="M725.5 673.5 L727.2 672.1 L729.2 671.7 L731.3 671.4 L733.2 669.9 L734.7 669.4 L736.5 669.2 L737.7 668.8 L739.2 669.1 L741 669.2 L742.9 668.9 L745 669.6 L746.8 670.2 L747.8 670.5 L749.8 670.8 L752.1 671.8 L753.7 672.9 L755.6 674.8 L757.7 675.4 L759.8 674.1 L761.4 672.8 L762.9 671.6 L764.5 670.3"/><path d="M766.9 599.8 L766.4 601.9 L765.7 603.8 L765 605.6 L764.3 607.5 L764.5 609.3 L764.8 611.2 L764.9 613.1 L765 614.9 L765.2 616.7 L765.4 618.4 L765.6 620.2 L765.9 622.3 L766.2 624.2 L766.3 626.2 L766.7 628.1 L767 630.1 L769 630.5 L770.9 630.9 L772.8 631.2 L774.7 631.6 L776.7 631.9 L778.7 632.1 L780.7 632.4 L781.3 634.6 L781.7 636.8 L782 638.9 L782.5 641 L783.3 642.9 L783.2 644.4 L783.3 646.3 L783.3 648.2 L783.3 650.2 L780.6 650.9 L778.1 651.5 L778.2 653.8 L778.1 656 L778.2 658.1 L778.3 660.4 L776.7 661.4 L775 662.3 L773.5 663.3 L772.1 664.4 L770.7 665.5 L769.8 667 L768.9 668.4 L768 669.9 L767.1 671.5 L766.2 673.2 L765.4 674.8 L764.5 676.4 L766.2 677.1 L767.9 677.9 L769.5 678.6 L771.4 679.5 L773.1 680.3 L775.2 680.8 L776.9 681.6 L778.9 682.2 L780.8 682.9 L782.7 683.4 L784.5 684.1 L784.9 682 L785.2 679.7 L785.5 677.5 L785.8 675.4 L785 673.9 L783.9 672.3 L782.9 670.8 L781.8 669.2 L780.9 667.9 L780.1 666 L779.5 664.1 L778.9 662.3 L778.3 660.4"/><path d="M750.6 651.5 L752.5 651.5 L754.4 651.4 L756.3 651.7 L758.3 651.5 L760.3 651.5 L762.2 651.5 L764.1 651.5 L766 651.6 L768 651.5 L769.6 653.1 L771.5 655 L773.1 656.6 L772.2 658.6 L771.5 660.8 L770.7 663 L768.9 664.3 L766.9 665.4 L765.7 667.1 L764.4 668.7 L763.2 670.4 L761.3 670.1 L759.8 670 L758.3 669.9 L756 669.5 L755.4 666.9 L755 664.1 L754.9 661.5 L752.6 660.5 L750.9 659.5 L750.8 656.9 L750.2 655 L750.6 653.7 L750.6 651.5"/><path d="M773.1 680.3 L772.8 682.1 L772.4 684.1 L772.1 686.1 L771.8 687.9 L771.5 689.7 L771.2 691.6 L770.9 693.6 L770.5 695.5"/><path d="M798.9 704.6 L797.1 705.1 L795.1 706 L792.9 707.2 L790.9 707.8 L789.2 708.5 L787.5 709.4 L785.4 710.2 L784.3 712 L782.9 713.5 L781.7 715 L780.8 716.6 L779.6 718.1 L780.2 719.8 L780.6 721.5 L781 723.2 L781.4 725 L781.8 726.6 L783.5 727.2 L785.2 728 L787.2 728.9 L788.9 729.8 L790.6 730.8 L792.7 731.4 L794.2 731.8 L796.1 732.2 L797.8 733.2 L800.1 732.4 L802.1 732 L804.4 731.6 L806.3 730.9 L808.4 730.7 L810.2 729.5 L811.3 728.1 L813.3 726.7 L814.7 725.1 L816.2 724.1 L818.1 723 L818 721 L817.8 719.2 L817.7 717.9 L817.2 716 L815.3 715.4 L813.4 714.6 L812.1 713.9 L810.1 713.2 L808.1 712.5 L806.6 711.1 L805.1 710.4 L803.3 709.9 L802.2 708.5 L801.2 707.4 L800.1 706.1 L798.9 704.6"/><path d="M790.6 730.8 L789.8 732.5 L788.9 734.6 L788.1 736.8 L787.7 738.6 L786.9 740.6 L787.2 742.3 L787.4 744.2 L787.5 746 L787.7 748 L787.8 749.8 L787.9 751.5 L788.1 753.5 L788.2 755.4"/><path d="M540.5 532.1 L548 532.1 L548 539.1 L540.5 539.1 L540.5 532.1"/></g>
<g fill="none" stroke="#2a2624" stroke-width="1.3" stroke-opacity=".88" stroke-linejoin="round"><path d="M777.9 457.6 L779.8 459 L781.3 460.3 L782.6 461.5 L784.1 462.8 L785.8 464.1 L787.1 465 L788.9 466.4 L790.7 467.8 L790.8 465.3 L791.7 462.7 L793.8 462.5 L795.5 462.1 L797.7 461.4 L799.6 461.2 L801.6 460.9 L803.8 460.4 L805.6 459.7 L807.8 459.3 L809.9 458.7 L812.4 457.9 L812.9 460 L813.6 462 L814.4 463.6 L815.6 465.3 L817.8 464.2 L820.8 463.6"/><path d="M785.4 550.5 L787.7 549.9 L789.8 549.4 L791.7 548.9 L793.5 548.5 L795.4 548 L796.3 549.9 L797.1 552 L798.2 554 L799 552.5 L800.1 550.8 L801.7 549.4 L803.4 547.8 L804.8 545.6 L806.9 545.6 L808.8 546.4 L810.3 546.5 L811.4 545 L812.8 543.8 L814.1 542.2 L815 540.7 L816.7 539.3 L817.8 538.6 L819.8 537.4 L821.4 536 L823.2 533.8 L824 532.3 L824.6 531.3 L825.4 529.5 L826.3 527.7 L827.5 525.7 L828.2 523.8 L828.7 521.9 L829.9 520.5 L830.3 518.7 L829.9 517.1 L830.6 516 L830.9 514 L831.3 511.9 L831.6 510 L832.1 507.6 L832.3 506.1 L832.6 504.8 L833.3 502.8 L833.3 499.7 L833.7 497.3 L832.6 495.4 L831.5 494.2 L830.5 491.8 L829.4 489.2 L828.5 487.1 L828.2 486.2 L827.3 484.4 L826.3 482.8 L824.7 480.8 L823.7 479.2 L822.9 477.6 L822.2 476.1 L821.7 474.8 L820.9 473.4 L819.7 471.6 L819 469.3 L818.4 466.9 L817.3 465.4 L816.5 464"/><path d="M840.8 380.3 L839.5 381.8 L838.5 383.2 L837 384.5 L834.7 385.7 L832.9 387.2 L832.4 388.8 L831.6 390.6 L830.9 392.6 L831 394.8 L830 396.5 L828.7 398.3 L828.3 400.2 L829.1 402.3 L830 404.1 L831.2 405.3 L831.8 407.4 L832.5 409.5 L833.8 410.7 L832.6 412.3 L831.8 414.2 L830.5 415.7 L829.8 417.5 L828.7 418.6 L827.8 420.1 L827.4 422 L826.8 424 L825.6 425.9 L823.7 425.8 L821.7 426.3 L819.6 425.5 L818.9 427.3 L819.1 429.2 L818.7 431.5 L818.4 433.1 L818.2 434.6 L817.9 436.6 L817.6 438.7 L817.3 440.4 L819.3 441 L821.1 441.3 L823.3 441.6 L825.3 441.5 L826.8 441 L829.2 440.8 L831.5 440.7"/><path d="M817.3 440.4 L816.6 441.6 L816.3 443.5 L815.3 445.5 L814.3 447.6 L815.2 449.4 L816.4 451.2 L817.1 453.1 L817.6 455.1 L818.4 457.1 L818.4 458.6 L818.4 460.2 L819.3 462.4"/><path d="M840.7 380.3 L841.5 379.3 L843.1 378.5 L845.5 376.9 L846.4 376.3 L847.2 375.3 L848.4 373.6 L849.1 371.7 L850.6 370.7 L851.8 368.7 L853.8 367.2 L854.7 365.4 L855.5 363.2"/><path d="M905.5 364.3 L904.6 365.5 L904.6 367.3 L902.9 368.8 L899.8 369.4 L898.9 370.8 L897.9 372.6 L896.5 374.4 L896 376.6 L896.4 378.1 L894.8 379.6 L894.3 380.9 L894.1 382.4 L892.5 383.9 L892.9 385.6 L893 387.7 L892.5 388.8 L895.2 390.2 L898.5 390.2 L899.8 390.7 L901.9 390.7 L902.5 392.8 L903.3 395.9 L904.1 398.3 L904.2 400.1 L905.3 400.6 L906.8 401.6 L908.1 402.5 L908.7 403.4 L908.9 404.3 L911.5 406.1 L914.1 406.4 L915.4 405.1 L916.9 405.8 L918.6 406.8 L920.4 407.5 L921.7 407.1 L923.6 407.4 L925.8 407.5 L928.6 408.2 L928.7 408.5 L930.3 408.5 L932.2 408.7 L933.7 409.3 L936.5 409.9 L938.9 408.6 L940.7 407.4 L941.9 406.5 L944.3 408 L945.5 409.1 L947.8 409.7 L949.2 411.1 L951.3 412 L952.9 413.5 L953.5 415.1 L955.2 415.3 L956.2 415.8 L955.7 418.2 L956.7 419.8 L957.6 421.8 L959 422 L961 421.5 L963.9 421.1 L967.9 422.1 L970.3 420.8 L969.6 419.1 L970 418.1 L971.2 417.3 L971.3 414.9 L970.9 412.1 L970.9 409.7 L970.9 407.5 L971.6 406.8 L970.2 405 L969.3 403.2 L969 401.3 L968.8 398.2 L968.8 396.1 L968.5 394.2 L967.2 391.7 L967.5 390.6 L967.4 389.1 L966.7 387.5 L966.1 387.2 L966.8 384.3 L966.9 381.7 L965.8 380.2 L966.2 377.4 L966.2 375.3 L965.9 373.8 L965.4 371.1 L966 369.3 L966.6 367.6 L965.9 365.5 L965.3 363.5 L965 361.9 L965.1 360.8 L965 358.5 L964.9 357.2 L966.6 357 L968.7 355.4 L970.2 354.9 L973 353.8 L975 352.6 L976.3 351.8 L977.8 351.9 L979.3 350 L980.9 348.8"/><path d="M911.5 406.1 L910.4 407.2 L910 408.8 L911 409.8 L911.3 411.5 L911.4 413.4 L911.4 415.4 L912.3 416.8 L912.2 419.7 L909.4 421.5 L907.6 424.1 L906.7 425.4 L906.5 426.3 L905.6 428.2 L905.3 431.2 L904.8 433.1 L904.1 434.4 L903.8 436.1 L903.3 437.5 L902.4 438.9 L901.2 440.6 L900.8 443.1 L900.9 445.9 L901.2 447.9 L901.1 449.4 L901.3 450.5 L898.7 453.1 L898.6 454.1 L901 453.9 L903.7 453.5 L905.2 453.8 L906.4 453.8 L908.4 453 L911.5 451.7 L912.2 453 L913 455.5 L914.3 457.8 L914.1 458.8 L913.8 461.8 L914.5 464.6 L914.9 464.6 L915.8 465.9 L916.8 467.6 L919.4 467 L921.5 467.1 L923.5 467.5 L926.3 467.7 L927.8 468 L929.7 468.4 L932.1 469.4 L934.2 469.2 L935.7 468.6 L937.1 468.3 L938.7 469.4 L941.2 469.7 L942.5 468.1 L944.6 466.8 L946.4 465.8 L948.1 465 L949.5 463.8 L951.7 464.4 L953.7 464.2 L955.8 463.8 L956.7 464.3 L958.2 464.6 L960.5 464.2 L961.1 463.9 L963.3 462.9 L965.8 461.9 L967.4 462.1 L969.2 461.2 L971 460.8 L971.5 459.3 L970.7 458.2 L972.3 456.3 L972.7 454 L973.1 452 L974.2 450.5 L974.3 448.3 L973.4 446 L973.2 444.8 L971.3 442.8 L970.3 440.3 L969.3 439.5 L967.8 437.5 L966.9 436 L966.3 436 L966 434.1 L964.8 432.3 L964.8 429.6 L963.2 428 L961.6 426.6 L959.9 423.3 L959 422"/><path d="M980.9 348.8 L982 350.3 L983.1 351.3 L984.6 351.7 L987 353.7 L987.4 355.3 L988 355.8 L986.7 358 L987.2 360.6 L986.3 363 L986 365.3 L988.2 366.8 L988.4 367.7 L989.9 369.7 L990.8 371.7 L992.3 373.6 L992.9 374.7 L994 376 L995 379.3 L995.6 380.8 L996 382.9 L995.3 385.8 L996.8 386.9 L998.3 387.9 L999.5 389.2 L998.5 390.5 L997.1 393.2 L994.3 395.4 L993.3 396.9 L992.5 397.7 L991.4 398.7 L989.2 400.5 L988.5 401.6 L988.2 403.3 L988.4 405 L987.9 406.4 L989.5 408 L991.7 409.2 L993.8 410.6 L995.1 411.7 L996.5 412.4 L998.3 412.5 L999.6 414.5 L1000.9 416.5 L1002.3 417.4 L1005.9 418.3 L1007.3 418.4 L1008.1 418.8 L1009.6 418.6 L1011.7 419.1 L1013.8 419.7 L1014.8 421 L1017.1 420.2 L1019 420.5 L1020.4 422 L1023 421.9 L1025.4 422 L1028 422 L1030.3 422.2 L1032 420.8 L1033.5 420.4 L1034.2 419.2 L1034.2 417.8 L1033.1 416 L1032.4 415.7 L1031.6 413.8 L1030.8 411.4 L1029.7 408.3 L1030.2 406.8 L1030.5 404.6 L1030.1 401.8 L1030.8 400.1 L1030.7 398.3 L1030.1 397.1 L1030.5 396 L1029.4 394 L1028.6 392.2 L1028.1 391 L1028.3 388.2 L1028.6 386.3 L1028.9 384.6 L1028.5 382.4 L1027.7 381.4 L1027.4 380.5 L1027.2 378.2"/><path d="M1005.9 418.3 L1004.1 419.6 L1004 422.3 L1004.2 424.6 L1004.6 427.5 L1002.5 429.7 L1003.1 431 L1002.9 433.7 L1001.5 434.2 L1000.1 434.9 L998.4 434.6 L996.7 433.7 L994.8 435.2 L992.8 434.4 L990.4 434.6 L987.3 436.2 L985.8 436.3 L984.4 435.9 L982.9 435 L982.1 435.2 L980.1 435.8 L977.6 435.3 L975.1 434.6 L974.3 434.9 L972 434.2 L969.6 433.7 L967.4 434.3 L966 434.1"/><path d="M1002.9 433.7 L1002.7 436.2 L1002.4 436 L1003.4 437.7 L1003.9 439.6 L1004.7 442.1 L1006.3 444.1 L1006.8 446.4 L1007.9 447.6 L1009.2 448.8 L1010.6 449.7 L1012 451.4 L1012.1 453.1 L1013.3 454.5 L1015.1 456.2 L1016 457.7 L1018.4 459.4 L1020.6 460.8 L1021.8 462.2 L1023.4 464.1 L1024.5 467.1 L1022 468.4 L1022.7 470.8 L1021.2 472.4 L1020.1 473.8 L1019.3 475.3 L1019 477.4 L1018.3 478.4 L1018.7 480 L1018.4 482.2 L1018.7 484.5 L1019.4 486.9 L1020.6 489.4 L1021.4 491.6 L1022.2 493.5 L1023 494.8 L1022.9 497.4 L1022.9 499.1 L1022.8 500.5 L1023.4 501.7 L1022.9 503 L1022.8 504.6 L1023.3 506.8 L1024.3 509 L1024.4 510.9 L1022.6 510.5 L1020.3 510.4 L1018.1 510 L1016 510.3 L1014 510.4 L1011.2 511.4 L1008.8 512.1 L1007.1 511.5 L1006.8 512.2 L1004.5 511.9 L1002.5 511.3 L1001.7 509.7 L1001.2 508.6 L1001.1 508 L999.1 506 L997.6 504.3 L997.7 502.5 L996.6 501.4 L996.4 499.2 L995.9 497 L994.7 496.1 L993.7 494.5 L993.5 491.9 L993.3 490 L992.9 488.1 L992 486.9 L991 485.6 L990.8 483.1 L990.4 481.5 L989.7 480.1 L988.2 478.8 L986.6 477.4 L985.7 476 L985.3 474 L983.2 471.8 L982 469.9 L981.5 468.5 L980.6 466.6 L980.2 465.2 L980.2 463.5 L979.8 459.7 L978.2 458.3 L977.5 456.6 L976.8 455.3 L976.6 453.9 L976.1 451.4 L976.2 449.7 L974.3 448.3"/><path d="M1033.5 420.4 L1035 421.3 L1037.4 421.3 L1039.1 421.9 L1041.1 422.4 L1042.1 422.2 L1043.5 422.4 L1045.7 423.1 L1046.6 424.7 L1048.7 424.9 L1051.3 425.2 L1052.2 426.3 L1053.9 426 L1055.8 425.7 L1058.6 426.2 L1059.6 425.7 L1061.7 425.3 L1064.4 424.9 L1065.2 425.6 L1066.2 423.4 L1066 421.7 L1066.9 419.6 L1067.4 417.6 L1068 416.1 L1068 414.4 L1068.1 411.7 L1067.7 408.7 L1068.8 406.7 L1071.2 405.9 L1072 404.6 L1071 403.9 L1071.5 401.7 L1072.4 399.2 L1074.5 397.7 L1074.5 396.4 L1074.6 393.8 L1074.6 391 L1075.5 390 L1075.2 387.4 L1074.7 385.4 L1075.1 385.2 L1076.2 381.7 L1076.4 379.7 L1076 378.2 L1076.5 377.4 L1076.9 375.1 L1077.3 372.8 L1078.9 370.4 L1079.3 369 L1081.3 369.2 L1083.1 370.4 L1083.8 370.1 L1085.3 370.8 L1087.6 372 L1088.3 372.9 L1089.2 373.2 L1090.3 371.8 L1092.4 371 L1092.9 369.2 L1093.2 367.7 L1093.8 364.9 L1095.8 363.1 L1097.3 363 L1100 363 L1100.7 362.1 L1101.1 361.3 L1103.7 362.5 L1105.9 361.9 L1108.4 361 L1109 358.6 L1108.7 355.4 L1109.9 353.3 L1109.6 351.6 L1109.7 350 L1113.6 349"/><path d="M1028.5 382.4 L1030.3 383 L1032.6 383.9 L1034.4 385.1 L1034.3 386.7 L1035.5 388.1 L1037.8 389 L1037.8 390 L1039.4 390.9 L1041.5 392 L1042.4 392.9 L1044.4 393.6 L1046.5 393.3 L1048.3 391.3 L1050.5 390.6 L1052.3 390 L1054.9 388.6 L1056.7 387.6 L1059 387.6 L1061 387.8 L1063.9 387.2 L1066.1 387.5 L1068 387.5 L1069.4 387.2 L1071.4 386.2 L1073.1 385.6 L1074.4 385.3"/><path d="M1079.3 369 L1081.2 369.8 L1082.1 371.6 L1082.9 372.6 L1083.3 375.1 L1085.1 376.1 L1086 377.1 L1087.4 379.2 L1090.2 381.9 L1091.7 382.3 L1092.7 384.6 L1092.6 386.6 L1092.7 388.2 L1093.1 390 L1095.2 389.5 L1095.9 388 L1098.7 388.4 L1101.1 388.6 L1102.2 389.2 L1103.5 389.6 L1104.9 389.1 L1106.7 387.5 L1109.1 387.6 L1110.9 387.7 L1112.7 387.9 L1114.4 388.5 L1116.9 387.9 L1119.5 387.5 L1122.3 387.6"/><path d="M1067.7 408.7 L1068.6 411.7 L1069.7 414.8 L1070.4 417.6 L1068.9 418.7 L1068.1 419.9 L1068.5 421.1 L1069.4 424.3 L1069.4 425.5 L1069.2 426.3 L1068.5 429.2 L1069 429.9 L1069.4 431.2 L1069.9 432.9 L1069.2 435.1 L1069.3 437.4 L1069.6 440 L1070.1 440.6 L1070.3 442.9 L1070.5 445 L1071.7 443.4 L1073.3 442.7 L1075.8 441.2 L1077 440.4 L1079.8 440.6 L1081.7 438.7 L1083.1 438.4 L1083.4 437.9 L1084.9 437 L1087.7 436.4 L1090.2 435.5 L1092.1 434.4 L1092.6 433.5 L1094.6 433.1 L1095.5 431.8 L1098 431.2 L1100.3 430.7 L1102.7 430.2 L1104.6 428.6 L1105.8 427.4 L1107.6 427.5 L1109.6 426.8 L1110.9 426.3 L1111.2 425.8 L1113.3 425.2"/><path d="M1090.2 435.5 L1092.1 436.8 L1093.3 437.9 L1094.4 440.1 L1095.6 440.7 L1096.2 442.9 L1097.8 445 L1098.7 445.9 L1099 447.2 L1099.2 449.9 L1101.1 451.7 L1102.1 454.1"/><path d="M1070.5 445 L1070.7 446 L1071.7 448.5 L1072.2 450.1 L1072.9 450.9 L1072.8 453.7 L1074.2 454.6 L1075.5 455.5 L1076.7 455.9 L1078.8 456.1 L1081.2 456.1 L1082.7 454.9 L1085.8 455.3 L1088.2 455.9 L1089.3 456.3 L1090.6 456.5 L1091.9 457 L1092.7 457.7 L1094.9 458.9 L1097.4 459.1 L1100.2 458.7 L1102.2 457.7"/><path d="M1072.8 453.7 L1073.6 455.9 L1075.4 456.9 L1075.7 458.8 L1076.2 460.6 L1078 461.9 L1079.7 463.4 L1081.1 463.9 L1080.8 466.2 L1081.5 468.4 L1083.2 470.5 L1084.2 471.9 L1084.8 473.7 L1085.8 474.8 L1087 475.8 L1088.7 478.6 L1090 476.9 L1092 475.4 L1092.8 474.8 L1094.4 474.5 L1097.2 473.1 L1098.7 470.5 L1099.9 470.2 L1101.2 468.3"/><path d="M1072.8 453.7 L1072.3 455.2 L1071.1 456.6 L1070.6 459.2 L1068.8 461 L1067.2 462.5 L1066.9 464.8 L1068.2 467.2 L1067.1 469.1 L1065.8 471.2 L1065.1 473.6 L1065.1 474.2 L1066 476.4 L1066.6 478.7 L1066.3 482 L1065.8 484.2 L1065.9 485.9 L1067.1 486.9 L1065.9 489.2 L1065.8 491.1 L1066.1 492.7 L1065.4 493.4 L1064 495.3 L1062.2 496.2 L1061.2 497.6 L1059 498.2 L1056.7 500.4 L1055.4 501.1 L1056.5 503.9 L1056.8 506.9 L1059 507.4 L1061.7 506.4 L1063.4 507.7 L1065.7 508.1 L1067.8 509.3 L1069 510.4 L1070 512.6 L1070.3 513.9 L1070.9 516.8 L1072 519.8 L1073.6 520.1 L1074.6 519.3 L1076.1 519.5 L1077.1 519.2 L1078.1 519 L1081.5 520.1 L1083.6 521.1 L1085.1 521.4 L1086.7 521 L1088.3 522.4"/><path d="M1066.1 492.7 L1068.6 493 L1070.6 492.4 L1072.4 491.8 L1074.1 490.9 L1076.5 491.7 L1077.4 491.2 L1078.1 490.7 L1079.6 490.6 L1082.4 490 L1085.1 491 L1086.2 493 L1087.5 494.6 L1089.1 496.9 L1090.7 498 L1091.9 499.1 L1093.5 500.2 L1096 499.4 L1098 498 L1100.3 497.6"/><path d="M1022.7 470.8 L1024.5 470.8 L1027.5 470.9 L1028.6 470.2 L1030.8 469.4 L1033.3 468.9 L1034.9 468.5 L1036.3 468.4 L1037.9 468 L1039.8 467.4 L1042.3 468.6 L1043.4 469.2 L1045 469.3 L1047.8 468.9 L1049.2 468.4 L1051.1 469 L1053.1 469.8 L1055.6 471.5 L1057.8 471.9 L1059.8 471.8 L1061.2 472.9 L1062.5 473 L1064.2 473.7 L1065.1 474.2"/><path d="M1004.2 430.3 L1006.4 431.2 L1009.1 431.5 L1011.7 432.6 L1014 433.5 L1016.4 434.7 L1018.3 435.2 L1018.8 436.4 L1020.5 436.2 L1022.3 437.1 L1023.4 440.5 L1024 442 L1025.4 442 L1027.3 441.1 L1027.9 441.1 L1029 441.5 L1031.6 441.7 L1033.4 441.5 L1035.5 441.3 L1037.9 441 L1040.1 440.9 L1041.8 441.1 L1043.1 441.6 L1043.9 442.1 L1045.4 443 L1047 443.6 L1048.5 443.5 L1050.4 443.7 L1052.3 443.7 L1054.2 443.6 L1056.2 442.8 L1059 443.4 L1060.9 445.2 L1062.5 444.8 L1064.7 445.6 L1067.5 446 L1068.9 447.2 L1070.1 447.9 L1071 448.9"/><path d="M1043.1 441.6 L1043.1 442.7 L1041.8 444.4 L1041.3 446.8 L1041.4 449.1 L1040.8 450 L1040.5 452 L1040.2 454.8 L1039.1 456.7 L1037.9 457.8 L1037.6 458.8 L1036.2 461.2 L1036 462 L1034.3 463.1 L1033.3 464.7 L1030.8 466.4 L1028.8 468 L1027.4 469.2 L1025.4 471.1"/><path d="M1020.5 436.2 L1019.9 436.5 L1017.8 438.8 L1015.4 439.7 L1013.4 441 L1013.1 440.7 L1011 442 L1010.8 444.7 L1012.6 445.7 L1013.6 447.7 L1014.5 449.6 L1015 450.8 L1014.7 452.1 L1016.5 453.9 L1016.9 455.7 L1016.8 458.4 L1019.1 459.6 L1020.8 461 L1022.2 461.9 L1023.6 463.9 L1024.5 467.1"/><path d="M1038 460.3 L1048 467.9"/><path d="M1024.4 510.9 L1026.1 510.8 L1027.7 511.2 L1029.3 511.8 L1031.3 512.5 L1032.7 512.7 L1033.7 512.3 L1036.3 512.1 L1037.8 511.1 L1039.2 510.3 L1040.1 511.9 L1042 513.5 L1042.4 516.4 L1042.7 518.2 L1043.6 519.1 L1044.4 520.5 L1045.7 521.8 L1046.1 523.5 L1047 525.3 L1049 527.4 L1049.2 528.4 L1049.8 529.8 L1051.2 532.6 L1051.7 534.3 L1052.9 535.8 L1054.9 537.2 L1055.7 539.1 L1054.4 538.8 L1056.6 541 L1058.5 542.5 L1060.9 544.4 L1063.7 545.1 L1065.4 545.2 L1067.5 544.9 L1069.2 545 L1070.1 545.1 L1072.5 545.1 L1075.3 544.6"/><path d="M1039.2 510.3 L1037.6 512.2 L1035.8 513.6 L1034 515 L1031.1 516.2 L1029.9 517.1 L1031.4 518.3 L1031 519.9 L1031.4 521.4 L1030.8 523.7 L1030 526.4 L1030 529 L1028.4 529.6 L1025.9 531.7 L1025.5 532.5 L1024 533.8 L1025 537 L1024 538 L1023.2 540.2 L1025 540.7 L1027.8 540.8 L1029 540 L1030.5 540.3 L1033.2 539.8 L1036.5 539 L1036.9 541 L1038 543.3 L1039.2 546 L1039.5 547.7 L1039.9 549.2 L1041.1 550.9 L1040.6 553.3 L1041 555.2 L1041.1 557.6 L1042.5 560.5 L1042.8 562 L1044.4 563.4 L1045.6 565.1"/><path d="M1002.5 511.3 L1001.7 512.1 L1001 513.7 L999.4 515.1 L997.3 516.2 L996.1 518.3 L994.8 519.5 L994.1 521 L992.5 521.6 L990.1 522.3 L988.4 524.2 L986.5 524.1 L984.6 523.6 L982.1 524.7 L981.4 524.4 L980.4 523.6 L978.1 522.5 L976.8 522.2 L974.8 522.6 L972.5 523.4 L970.6 522.4 L968.5 522.1 L967.2 522.2 L965.8 521.1 L963.8 520 L961.6 518.8 L960.3 518.7 L958.7 517.7 L957.4 516 L956.2 515.9 L954.6 515.1 L953.2 513.8 L950.4 512.5 L948.3 510.5 L948.6 508.8 L950.1 508.5 L950.6 507.5 L949.9 505.6 L951 503.3 L951.6 500.5 L954 498.8 L953.8 497.9 L954.6 497 L955.3 494.5 L956.2 493.1 L957.8 492.1 L958.7 490.5 L960.7 490.9 L963.4 490.7 L963.2 491.9 L963.3 492.9 L962.7 494.6 L964.9 495 L967.1 494.9 L968.7 494.9 L970.5 495.5 L972.8 496.4 L975.8 497.2 L977.1 498.1 L978.8 498.1 L980.5 497.7 L980.7 495.7 L981.9 494.4 L982.4 492.2 L982.9 490.6 L983.4 489.9 L983.7 488.2 L983.9 486.3 L982.9 484.3 L982.5 482.3 L982.9 479.1 L983 476.6 L982.3 475.1 L982.6 474.2 L982 472.2 L981.5 470.2 L981.5 468.5"/><path d="M946.4 465.8 L947.3 467.1 L947 469.7 L946.7 472 L947.4 473.9 L947.1 475.5 L946.6 477.5 L945.9 479.4 L945.1 481.1 L944.5 483.1 L944.4 484.8 L945.5 486.5 L945.1 488.7 L945.6 490.4 L945.8 491.8 L946.9 493.8 L948.1 495.7 L949.1 497.8 L950.8 497.6 L952.9 497 L953.5 496.9 L954.6 497"/><path d="M956.1 517.9 L955.5 520 L954.7 521.9 L953.8 523.9 L952.3 524.2 L951 526.1 L949.5 528.3 L949 530.2 L948.4 531.6 L948.4 533.2 L948.2 534.6 L948.5 536.4 L949.2 538.4 L950.6 540.7 L952.6 541 L954.8 541.8 L956.9 542 L959.5 542.1 L960.6 543.6 L961.9 544.7 L963.6 544.5 L964 547.1 L965 548.4 L967.4 549.5 L969.3 549.5 L970.3 549.8 L972 548.4 L973 547.1 L974.7 546.1 L976.2 544.7 L976 543.1 L977.8 541.8 L978.8 541.2 L981.2 540.6 L982.8 540.2 L984.8 540.5 L987.3 542.1 L989.9 543.1 L992.2 543.2 L994 542.6 L996.8 544 L997.8 545.1 L998.7 545.7 L999.8 544.6 L1002.1 545.1 L1003.9 545.2 L1004.8 544.9 L1006.8 545.5 L1008.7 544.7 L1011 543.4 L1012.7 543.6 L1014.3 543.7 L1016.4 543.3 L1018.2 542.4 L1019.9 541.7 L1021.1 541.3 L1023.2 540.2"/><path d="M916.8 467.6 L915.8 466.3 L913.5 465.3 L912.4 464.9 L911.6 463.9 L909.6 461.6 L908 460.7 L905.9 459.4 L905.1 458.9 L904.3 457.3 L902.6 455.5 L900.2 455 L899 455.6 L898.6 457.9 L898.7 459.9 L900 461.2 L899 464.7 L898.9 467 L898.9 468.9 L898.1 470.6 L899.4 472.5 L900.1 474.2 L900.2 475.2 L901.4 477.2 L902.4 479.4 L903.2 479.7 L903.3 482.4 L904 484.5 L905 486.2 L904.5 488 L907.5 491.2 L905.3 490.3 L903.3 489.8 L901.6 489.6 L900.1 488.8 L897.7 489.3 L895.4 489.8 L894.1 489.5 L893 490.4 L892.4 492.1 L889.5 491.8 L887.1 493.4 L886.1 494.8 L884.6 494.6 L882.8 495.6 L880.5 496.6 L876.9 497.9 L876.9 497.1 L875.6 497.1 L873.9 497.7 L870.5 497.8 L870.8 500.3 L872.2 501.9 L870.7 503.1 L870.5 505.6 L870.9 508.2 L872.7 510.2 L871.9 512.1 L872.1 513.5 L872.4 514.9 L873.3 517.6 L874.8 520.1 L875.4 521.4 L875.2 522.6 L876.6 524.7 L876 526.6 L876.4 528.5 L877.5 531.1"/><path d="M827.3 442.4 L829.6 443.8 L831.4 444.2 L832.9 444.6 L834.2 446.1 L836 447.3 L837.6 448.1 L838.2 448.2 L840.5 447.5 L842.7 446.6 L843.8 445.4 L845.8 445.1 L847.9 444.8 L849.8 443.5 L851.8 442.6 L853.8 441.2 L855.6 440.2 L857.8 441 L859.8 441.8 L861.5 442.6 L862.7 441.6 L863.8 441.7 L865.1 442.2 L866.9 443.1 L869.5 442.1 L869.5 439.5 L869.2 437.4 L869 436.3 L869.6 435.1 L871.5 436.1 L874.9 436.5 L875.5 437.1 L876.9 438 L878.3 440.2 L880.6 441.3 L881.2 441.9 L883.9 442.8 L885.5 444.6 L886.1 444.7 L887.2 445.7 L887.5 448.2 L889.1 450.4 L891.3 450.2 L893.8 450.4 L896 449.6 L897.8 448.2 L899.1 448.8"/><path d="M837.6 448.1 L837.7 450.1 L836.2 451.8 L835.4 453.5 L835.5 455.1 L835.2 456.7 L834.9 458.3 L835 459.8 L836.5 461.2 L838.2 462.9 L838.7 464.3 L839.8 465.5 L840.9 466.7 L842.4 468.1 L843.5 470.3 L845.1 471.9 L846.6 473.1 L847.1 475.5 L848.4 476.6 L850.3 477.1 L851.4 478.3 L852.4 480.9 L853.7 481.9 L855.7 482 L857.3 483.2 L858 485.1 L859.9 486.8 L861.3 488.7 L862.2 490.1 L863.2 490.5 L865 491.9 L866.4 492.7 L868 492.6 L869.3 494 L869.5 496 L870.5 497.8"/><path d="M907.5 491.2 L908.6 492.7 L908.4 493.8 L908.8 496.4 L909.9 498.8 L911.3 500.3 L910 501.1 L910.2 502.4 L910.6 503.5 L910.5 506.2 L909.4 508.8 L908.3 511.2 L909.5 512.9 L908.6 515 L908 516.6 L907.8 517.8 L907.4 519.4 L907.5 521.2 L907.8 523 L904.9 524.3 L903.7 524.5 L901.8 525 L898.3 525.9 L897.2 525.3 L895.7 525.4 L894.2 525.4 L891.9 524.9 L891 524.4 L889.4 525 L887.2 526.1 L886.3 526.8 L884.5 527.7 L882.4 528.9 L879.3 530.4 L877.5 531.1 L877.8 532.9 L877.8 534.2 L877.8 535.4 L877.9 537.3 L877.4 539.9 L877 542.3 L877.5 542.8 L878 545.9 L877.9 547.5 L877.5 547.7 L876.6 549.5 L876 551.5 L875.5 553.5 L876.6 556 L876.6 557.3 L876.5 558.7 L877 560.5 L877.2 562.1 L877 563.8"/><path d="M904.9 524.3 L906.4 525.9 L907.3 528.2 L908.2 530.4 L907 532.7 L906 533.9 L905.2 536.1 L903.4 537.1 L902.3 539.2 L902.3 540.4 L900.6 540.8 L898.3 542.2 L897 544.6 L896 546.6 L893.8 548.1 L892.5 549.9 L891.6 550.1 L891.6 552.8 L891.4 555.6 L890.9 556.3 L891.4 558.9 L891.7 561.1 L891 561.6 L892.1 564.4 L892.3 566.5"/><path d="M907.1 534.3 L909.2 534.7 L910.6 535.4 L912.1 536 L913.9 537.3 L915.8 537.8 L917.9 538.5 L920 540.6 L921.8 540.4 L924.5 540.2 L926.9 540.1 L928.2 538.5 L929.5 536.5 L929.5 535 L932.4 535.7 L934.6 536.3 L936.5 536.6 L937.2 538.1 L939.2 538.2 L940.7 537.7 L941.3 537.1 L942.9 536 L945.9 535.1 L948.4 533.2"/><path d="M926.9 540.1 L925.5 542 L923.2 543.6 L922.2 544.5 L921.3 545.3 L920.3 546.5 L918.9 548.6 L917.9 550.2 L918 552 L918.3 553.9 L918.8 554.2 L918.8 557.2 L918.5 559.6 L917.5 560 L917.7 562.7 L917.5 565.5"/><path d="M950.6 540.7 L952.3 542 L954 543.3 L955.3 544.7 L957.7 545.4 L958 546.2 L959.5 548 L959.6 551 L961.1 551.6 L964.8 552.1 L967 551 L967.5 553.5 L967.2 556.3 L967.3 558.2 L967.2 559.8 L965.8 561.6 L965.9 564 L965.5 566"/><path d="M978.8 541.2 L978.2 542.9 L978.1 544.2 L978.7 545.4 L977.7 548 L978.6 549 L975.3 549.3 L973.1 549.8 L972.4 550.6 L970.1 550.5 L968.6 550.6 L967 551"/><path d="M1006.8 545.5 L1006.3 547.9 L1006 550.5 L1005 552 L1003.2 553.3 L1002.9 554.5 L1002.9 555.6 L1001.9 556 L1000.9 557.6 L998.7 559.3 L997.5 561 L997 564.3 L996 566.4"/><path d="M1023.2 540.2 L1021.6 542.7 L1021.7 542.8 L1020.2 544.9 L1019.6 547.1 L1018.8 548.4 L1018.9 549.7 L1019.2 550.8 L1021.1 554.4 L1020.6 555.5 L1020.6 557.2 L1020.2 559.9 L1022 560.1 L1022.3 562.1 L1023.3 565.2"/><path d="M877.5 531.1 L875.6 529.1 L873.6 527.3 L872.9 525.6 L872.5 524.2 L870.2 522.7 L869.9 522.2 L867.4 519.7 L865.9 520.6 L863.2 520.6 L861.4 521.3 L860.5 523 L859.3 521.9 L857.6 522.3 L855.8 523.3 L852.7 524.2 L850.8 525.7 L849.1 527.5 L847.7 528.3 L846.2 529.8 L845.2 530.9 L843.4 532 L841.5 532.5 L840.6 533.5 L839.5 534.4 L838.2 535.6 L836.2 537.7 L835.4 539.4 L834.1 540.1 L832.1 540.9 L829.9 541.8 L827.9 543.4"/><path d="M835.4 539.4 L836.9 541.2 L838.2 542.2 L839.4 543.6 L840.4 546 L841.1 547.7 L841.6 549.3 L842.7 550.4 L843.8 551.5 L845.4 552.1 L846.7 551.7 L848.9 553.1 L850.3 554.8 L851.4 555.5 L853 556.8 L855.1 558 L856.3 559.9 L856.7 563.2 L856.2 563.8 L856.5 565.2"/><path d="M826.9 485.1 L828.1 486.7 L828.4 487.6 L829.9 490 L831 491.9 L832.7 494 L834.7 495.1 L833.4 496.7 L832.4 499.1 L832.2 502.3 L831.1 504.3 L830.8 505.7 L828.3 506.4"/><path d="M1113.6 349 L1113.9 348.1 L1117.3 348.1 L1119.3 348.4 L1120.9 346.9 L1121.9 346.7 L1124.2 346.5 L1126.4 345.8 L1128 344.1 L1131.3 345.9 L1132.8 345.7"/><path d="M1111.9 334.6 L1110.1 336.8 L1110.2 340.2 L1108.5 343.9 L1108.7 345.5 L1110.2 346.2 L1112.4 347.8 L1113.6 349 L1110.5 350.5 L1109 351.8 L1110.4 353.8 L1111.3 355.8 L1112.7 358.7 L1114 360.5 L1114.8 362.7 L1115.8 364.1 L1117.3 365.5 L1119.3 366.1 L1120.5 366.8 L1121.4 368.4 L1121.6 370.9 L1121 373.1 L1120.7 374.8 L1122.8 376.5 L1124.7 378.4"/><path d="M1120.9 346.9 L1120.4 348.2 L1120.8 348.9 L1120.4 350.5 L1120.2 352.8 L1120.7 355.8 L1122 359.1 L1121.9 361.3 L1121 363 L1120.9 365 L1120.5 366.8"/><path d="M1122 360.1 L1130.8 358.8"/><path d="M1095.8 363.1 L1096.9 361.5 L1099.2 360.1 L1099.7 358.9 L1099.4 356.8 L1100.8 355.6 L1102.2 354.8 L1104.4 353.3 L1106.5 352.2 L1109 351.8"/><path d="M1089.2 373.2 L1090.6 372.4 L1092.7 371 L1094.6 370.6 L1097.4 369.5 L1099.5 368.9 L1101.9 368.2 L1104.3 367.2 L1105.9 367.2 L1106.9 366.7 L1108 365.6 L1110.7 364.2 L1112.7 363.4 L1114.8 362.7"/><path d="M1057.2 351.8 L1059.5 352.5 L1061.5 352.2 L1062.9 351.3 L1064.1 352.1 L1066.7 351.5 L1068.9 351.2 L1069.8 351.1 L1071.1 351 L1072.9 351.9 L1073.4 354 L1074.5 356.4 L1075.7 359 L1075.5 361.1 L1076.6 363 L1077.8 364.4 L1077.9 366.5 L1078.9 367.8 L1079.3 369"/><path d="M1071.1 351 L1072.1 349.7 L1074.1 347.8 L1076 346.8 L1077.1 344.9 L1077.8 342.7 L1079.9 341.5 L1080.6 339.6 L1080.6 337.8 L1082 336.8 L1083.9 335.2 L1086.5 335.9"/><path d="M765.6 620.2 L767.4 620.3 L769.3 620.4 L771 620.4 L772.8 620.4 L774.6 620.6 L776.4 620.6 L778.2 620.7 L779.9 620.7 L782 621 L783.8 621.2 L785.6 621.4 L787.1 621.1 L789 621.1 L790.9 621.2 L792.5 621.3 L794.2 621.4 L796.2 621.6 L798.7 621.9 L799.3 619.9 L800.2 617.9 L800.8 616.1 L802.7 616.6 L804.5 617 L806.3 617.2 L808.1 617.8 L809.8 618.3 L811.2 618.9 L812.7 619.4 L814.7 619.5 L816.8 619.8 L819 620 L821.5 620.1 L823.5 619.8 L825.3 619.4 L827.3 618 L828.9 618 L829.5 616.7 L830.5 615.5 L831.7 614.1 L832.2 612.4 L833.7 610.8 L833.8 607.9 L832.5 606.1 L831.7 604.1 L831.2 602.1 L830.9 600.2 L829.1 599.7 L827.8 599.7 L824.9 599.2 L824.9 597.2 L825.2 595.1 L824.9 593.3 L825 590.9 L826.5 590.8 L827.9 590.2 L829.4 589.6 L831.2 589.1 L833.5 588.4 L835.4 589.1 L836.3 589.5 L839.2 589.5 L840.7 590.2 L842.5 590.4"/><path d="M783.3 650.2 L785.8 650 L787.9 650.2 L790 650.3 L792.2 650.1 L793.1 651.9 L793.7 653.7 L794.6 655.5 L795.5 657.2 L797.5 658.9 L799.2 660.2 L800.5 661.8 L802.4 661.8 L804.6 661.7 L806.9 661.5 L808.1 661.2 L809.8 661.3 L811.8 661.3 L814.1 660.9 L815.5 660 L817.2 658.8 L819.1 657.6 L820.6 656.3 L822.1 654.9 L823.1 653.9 L824.1 653.1 L826.4 653 L828 652.9 L829.8 653 L832.6 652.3 L834.1 651.9 L835.7 651.7 L837.2 651.7 L839.1 651.9 L840.4 650.9 L842 650.1"/><path d="M800.5 661.8 L801.1 664.2 L802.1 666 L802.6 667.6 L803.3 669.4 L803.8 671.5 L804.1 673.8 L804.7 675 L804.3 676.9 L803.9 679 L803.4 680.9 L803.8 683.1 L803.7 685.1 L803.4 687 L803.6 688.8 L803.4 690.6 L803.2 692.5 L802.2 694.4 L801.6 696.6 L800.6 698.5 L799.9 700.5 L799.6 702.6 L798.9 704.6"/><path d="M815.5 660 L815.3 662.6 L814.9 664.7 L814.6 666.9 L814.1 669.2 L813.9 671.1 L815.9 672.3 L817.4 673.2 L818.7 674.3 L820.2 675.1 L822.4 675.7 L824.5 676.3 L825.6 676.8 L827.3 677.3 L827.5 679.2 L828.4 681.7 L830.4 683.6 L831.3 685.6 L833 684.9 L834.6 684.1 L835.9 683.7 L837.8 683.5 L840.6 683.4 L842.2 682.6 L843.4 682.3"/><path d="M828.9 618 L829.8 620 L829.9 622.3 L830.4 623.4 L831.3 625.6 L831.7 627.9 L832.5 629.2 L832.1 630.6 L832.3 632.4 L832.8 634.1 L834.9 635.6 L835.7 638 L836.3 640 L838.8 639.7 L840.5 640.6 L841.9 640.4 L843.6 640.2"/><path d="M830 588.8 L831.7 588.8 L834 589.6 L835.6 590.1 L836.5 590.1 L838.5 591.3 L840.1 592.4 L841.4 594.4 L842.8 596.2 L844.1 595.7 L845.7 596.3 L847.7 597.3 L849.3 597.7 L851.3 597.7 L853.6 597.8 L856.4 598.4 L858.5 598.8 L859.6 599 L860.6 599.3 L862.1 599.9 L864.7 598.7 L866.4 599 L867.2 598.7 L869.7 597.1 L872 595 L872 593.5 L872.9 591.6 L873.7 589.5 L874.6 588.7 L876.1 587.6 L875.1 585.5 L874.9 584.1 L875 582.9 L875.2 579.9 L875.2 578 L874.5 576 L872.9 573.6 L872.7 572.6 L874.8 570.5 L875.6 567.9 L877.4 566.7 L878.6 565.1 L879.9 563.6 L881.8 564 L884.3 564.7 L886.4 566.6 L889.2 566.3 L891.3 566.5 L891.9 565.6 L891.3 562.4 L892.3 561"/><path d="M918.3 559.6 L917.7 560.7 L918.1 564.1 L917.8 567.5 L918 570 L918.3 572.2 L918.3 574.2 L918.3 575.6 L917 576.8 L916.2 578.2 L917.1 579.8 L915.6 582.2 L914.9 583.9 L915 584.2 L913.2 585.6 L911.9 587 L910 587.4 L908.6 587.3 L907.3 586.3 L906 585.9 L904.4 583.8 L902.1 582.6 L899.9 582.3 L898.7 581.3 L898.4 580.4 L897.4 579.2 L896.5 577.1 L895.7 575.7 L894.1 574.1 L892.2 571.4 L892.4 570.1 L891.7 568.7 L891.3 566.5"/><path d="M915.2 585.1 L921.5 592.6 L922.7 590.1"/><path d="M876.1 587.6 L878.2 588.5 L878.7 590.7 L880 591.9 L882.4 592.4 L883.1 593.2 L884.8 591.2 L886.4 588.3 L886.9 586.7 L887.6 586.1 L888.5 585.9 L890.2 583.5 L891 581.5 L893 580.8 L894.8 579.3 L896.5 577.1"/><path d="M866.4 599 L868.2 600.9 L869.9 603.2 L872.4 605.1 L873.9 608 L875.8 609.3 L876.2 610.8 L876.7 611.6 L875 612.2 L875.3 615.2 L875.7 617.7 L875.8 618.9 L874.2 620.5 L872.9 622.2 L871.4 622.3 L868.7 621.9 L866.9 622.6 L865.3 623.5 L863.9 623.9 L862 624.6 L860 625.2 L858.4 624.1 L856 624.9 L854 625.3 L852 625.5 L849.2 624.7 L848.2 624.7 L846.1 625 L843.6 625.5 L841.3 626.6 L839.9 625.3 L838 625.1 L837 624.7 L835.9 624 L834.5 623.6 L833.3 624.9 L831.8 626.9 L830.6 627.9"/><path d="M875.8 618.9 L877.7 617.4 L880.1 617.7 L882.5 618.4 L884.5 619.6 L885.6 620.8 L887.7 621.3 L889.7 620.6 L892.2 617.8 L893.1 617.2 L894.3 615.3 L896.4 614.6 L899.2 614.7 L902.3 613 L905 611.9 L906.3 611.5 L907.2 612.1 L908.2 612.5 L909.6 612.7 L911.6 612.5 L913.3 613.1 L915.1 613.3 L917.2 613.4 L921 614 L921.6 616.5 L921.3 617.7 L921.4 619.5 L923.4 620.2 L924 621.9"/><path d="M896.4 614.6 L898 617.1 L899.7 619.2 L901.3 621.1 L902.2 623.3 L902.3 625 L903.2 627.2 L903.6 629.9 L903.5 632.1 L904.6 634.2 L906.8 634.8 L908.1 637.3 L910.1 638.2 L912.2 638.7 L914.8 639.6"/><path d="M872.9 622.2 L873.7 624.5 L873.4 626.3 L873.3 628.6 L873.6 630.3 L873.8 632.3 L876.3 634.7 L877.8 635.6 L878.3 635.7 L880.6 636.7 L881.4 639.1 L879.7 641.5 L879.9 644.4 L878.8 647.5 L880 646.8 L881.8 646.9 L883.6 647.7 L885.4 648.6 L887.3 648.7 L889 646.8 L891.9 645.5 L893.2 645.7 L894.2 644.8 L896.1 644.6 L898.4 644 L900.2 643.7 L902.8 643.8 L905.9 643.7 L906.6 641.4 L909.1 640.5 L911.6 640.2 L914.8 639.6"/><path d="M887.3 648.7 L887.7 650.5 L887.7 651.9 L887.5 653.8 L887 655.7 L886.6 657.5 L886.5 658.7 L886.5 661 L886 662.8 L885 664.8 L884.8 666.6 L884.7 668.5 L884.7 670.8 L883.1 672.5 L883.2 674.4 L883.3 677.2 L883.6 680 L883.2 681.3 L883.5 683 L884.3 685.2 L884.2 687.5 L883 690.2 L883.6 690.9 L883.5 692.5 L883.2 694.6 L882.8 697.6 L882 698.2 L882.2 700 L883 702.8 L882.8 704.2 L883 706.7 L882.7 708.7 L882.2 710.5 L880.1 710.3 L878.8 709.8 L877.5 709 L875.1 708.1 L873.1 708.2 L871.2 707.5 L868.3 707 L865.8 708.5 L864.3 709.6 L863.7 710.4 L860.8 711 L859.4 711.3 L858.6 711.2 L856.9 712 L855.1 712.7 L853.2 713.4 L851.3 715 L851 716.8 L850.9 718.6 L850.4 720.4 L850.6 722.3 L850.1 725"/><path d="M841.3 626.6 L842.2 628.1 L842.8 629.8 L843.1 631.7 L843.3 633.7 L843.5 635.4 L844.2 637.1 L846.1 639.4 L845.8 641.5 L845.6 643.4 L845.6 645.2 L845.2 647.8 L844.3 649.2 L844.6 651.7 L842.4 652 L840.4 652.9 L838.8 654.2 L837.9 653.7 L836.3 653.5 L834.8 653.5 L832.8 653.5 L829.9 654.2"/><path d="M845.6 645.2 L847.5 645.4 L849.3 645.9 L851.1 645.4 L852.9 645.3 L855 645.6 L857.3 645.2 L859.5 645.2 L861.8 645.2 L862.7 645.6 L864.5 645.3 L866.4 644.8 L869.1 645 L870.5 645.1 L872 645.4 L874.2 647.1 L875.9 647.3 L877.3 647.5 L878.8 647.5"/><path d="M844.6 651.7 L846.3 653.5 L847.1 655.2 L848.2 656.9 L849.4 658.6 L850 659.8 L849.7 661.8 L849.2 663.9 L848.6 666.1 L847.9 668.7 L847.6 669.8 L848.2 672 L849 674.3 L850.6 674.8 L851.3 676 L851.4 677.5 L851.7 679.5 L852.3 681.3 L853.3 683.4 L854.8 684.7 L853.8 686.1 L853.5 687.4 L852.1 689.2 L850.7 690.2 L848.7 690.3 L846.3 690.6 L845.9 691.5 L843.4 691.7 L840.9 692.3 L839.5 693.8 L838.2 691.8 L837 690.7 L835.4 690.1 L834 688.3 L831.6 686.7 L830.7 685.8"/><path d="M850 659.8 L851.2 660.7 L852.9 661.6 L854.3 663 L856.1 664.6 L856.5 665.9 L858.5 666.9 L861 666.9 L862.3 667.3 L863.3 666.9 L865 667.1 L866.2 666.6 L868.1 665.1 L869.3 663.3 L872.1 662.1 L874 661.9 L875.7 661.6 L879.4 661.1 L880.7 659.9 L882.3 659.5 L885 659.9 L886.5 658.7"/><path d="M862.3 667.3 L863 668.9 L863.6 670.5 L864.4 672.7 L864.9 675.1 L865.1 676.7 L865.9 677.2 L866.4 678.9 L866.8 681.1 L866.8 684 L866.8 686.6 L868.1 688.1 L865.1 687.4 L863.4 686.6 L862 686.3 L860.6 686.7 L859 685.9 L856.9 685.3 L854.8 684.7"/><path d="M868.1 688.1 L869.7 688.1 L870.9 687 L873.2 687.1 L874.4 686.5 L876.1 686.2 L878.8 686.9 L881 686.6 L882.9 685.8"/><path d="M852.1 689.2 L851.4 692 L851.6 695.2 L850.8 697.1 L850.6 699.4 L850.3 701.7 L848 701.8 L846.4 702.6 L844.4 702.8 L842.4 703 L840.5 703.3"/><path d="M905.9 643.7 L906.1 644.8 L906.5 645.6 L907.1 647.1 L906.9 649.5 L906.4 651 L906.5 652.6 L907.5 654.6 L907.4 657.1 L906.4 658.7 L904.9 660.1 L904.9 661.5 L905.2 663.6 L905.7 665.6 L905.2 668.4 L903.8 669.8 L902.7 671.1 L903 673.2 L903.1 675 L903.1 677.4 L901.2 680.3 L901.5 681.2 L902.9 682.6 L903.7 684.5 L904.1 687.5 L905.3 689.2 L905.3 691.2 L907 691.1 L908.3 692.1 L909.3 692.5 L910.4 693.4 L911.7 694.6 L914.1 695.4 L916.2 696.9 L917 698.8 L918.8 699.6 L921.1 698.5 L922.3 698.2 L924.4 697.1 L926.8 695.5 L928.1 695.9 L928 698.8 L928.4 700.7 L929.3 702 L928.6 703.8 L929 706 L930.1 708.4 L932.6 708.8 L933.9 708.4 L935.6 709.2 L937.6 710.2 L938.9 710.6 L940.3 712.9 L942 712.7 L944.3 711.2 L945.8 710.7 L947.2 709.8 L948.9 709.2 L950.3 708 L950.7 705.7 L951.2 702.7 L952.3 702.3"/><path d="M907.5 654.6 L910.1 654.5 L911.6 654.3 L913.1 653.9 L914.5 653.2 L917.4 652.9 L919 652.9 L920.5 652.5 L921.9 652.2 L925.6 651.8 L925.9 651.6 L926.2 651.1 L927.6 649 L929.1 647.1 L930.7 645.9 L929.2 643.6 L928.1 641.3 L927 639.8 L927 638.9 L926.1 637 L925.5 634.7 L924.3 634.1"/><path d="M930.7 645.9 L932.1 646.6 L933.5 648.8 L935.6 650.6 L934.9 651.4 L935.5 653.5 L937.2 656 L939.9 656 L942.1 655.6 L942.9 654.1 L945.8 654.9 L947.9 654.2 L949.9 652.7 L949.8 651.5 L951.5 650.2 L951.4 649.7 L953.6 647.5 L954.7 646 L955.7 643 L956.3 641.1 L955.9 640 L956.7 637.3 L958.6 636.1 L960.1 633.8 L960.6 631.1 L960.9 629.3"/><path d="M947.8 654 L955.3 660.3"/><path d="M928.1 695.9 L927.4 693.7 L927.8 691.6 L927.7 690.3 L927.3 689.3 L926.9 687.2 L927.2 684.5 L927 682 L927.6 680.5 L930.9 679.7 L932.5 679.6 L933.6 679.7 L935.2 678 L937.4 678.7 L939.8 679.4 L939.7 679.1 L942.6 678.9 L944.6 679.2 L946.2 680.3 L947.8 680.9 L949.4 681.1 L951.4 681.6 L953.7 682.4 L956.1 683.3 L958.4 684"/><path d="M918.8 699.6 L920.2 700.2 L921.4 701.9 L922.2 704.8 L922.2 706 L923.6 708.1 L925.5 710.9 L923.4 711.4 L920.6 711.8 L919 713.2 L917.7 713.5 L916.6 714"/><path d="M882.2 710.5 L883.7 712.5 L884.5 713.5 L885.3 714.5 L886.8 715.9 L889.6 715.4 L891.4 715.2 L893.1 715.3 L894.8 715.1"/><path d="M930.1 708.4 L931.6 711.3 L932 712.7 L930.3 715.1 L929.2 716.7 L928.4 718 L927.3 719.6 L926.6 722.2 L926 724.4 L925.8 726 L926 727.3 L926.6 729.9 L926 732.3 L925.3 734.3 L924.1 735.4 L925.3 738.6"/><path d="M947 611.9 L948 609.3 L947.8 607.6 L948.1 606 L949.2 604.5 L948.4 602.2 L950.1 599.1 L949.9 596.9 L949.6 595.3 L951 593.1 L951.2 591.4 L951 590.3 L952.6 589.2 L953.6 588.1 L954.6 585.9 L957.4 584 L960 584 L961.6 584 L963.4 583.1 L965.4 582.1 L965.1 583.4 L966.8 584.6 L969.3 586.4 L970.4 588.2 L971.2 590.3 L972.4 591 L974 591.8 L975.8 592.5 L977.3 593.6 L979.2 595.8 L980.9 597.9"/><path d="M946.1 620.1 L947.3 621.1 L948 621.9 L948.6 622.7 L949.4 624.6 L950.9 626.4 L952.4 629.2 L952.8 630.3 L955 629.5 L957.7 629.9 L959.4 629.6 L960.9 629.3"/><path d="M965.4 582.1 L965 580.6 L965.4 578.3 L965.3 575.9 L965.1 575.4 L965.3 573.8 L965.7 571.2 L966.8 569.7 L966.4 567.7 L966.4 565.9 L966.8 565 L965.9 562.2 L966.1 560.1"/><path d="M972.4 591 L974.6 590.4 L976.3 588.9 L978.2 587.6 L979.5 586.6 L981.3 587 L982.5 586.2 L985.4 585.3 L987.4 584.7 L988.8 584 L990.8 583 L992.4 582 L994.6 581.2 L996.1 580 L997.5 579.5 L999.3 578.4 L1000.8 577.4 L1002.2 577.2 L1003.4 577 L1005.3 576.9 L1006.7 577.4 L1008.5 577.3 L1010.3 576.4 L1013.5 576 L1015.5 575.2 L1016.9 574.1 L1018 574 L1020.3 574.6"/><path d="M1000.4 577.5 L1002.9 587.6"/><path d="M1025.6 559.4 L1026 560.9 L1024.6 564.4 L1024.5 567.3 L1024.5 569.1 L1023.5 570.4 L1022 572.6 L1021.3 573.9 L1020.3 574.6"/><path d="M936.9 589.8 L938.5 590.5 L940.9 591.4 L942.1 593.1 L944.1 593.8 L945.9 594 L947 594.4 L949.6 595.3"/><path d="M921.9 589.5 L924.7 589.8 L927.4 589.4 L928.4 587.1 L930.5 586.7 L932.5 587.1 L934.7 587.8 L936.7 589.2 L936.9 589.8 L937.9 591.5 L938.3 594 L938.5 596.3 L938.6 598.1 L939.1 599.7 L940.2 601.8 L941.5 604.4 L943.9 606.2 L945.2 607.8 L946.3 609.3 L947 611.9 L946.5 613.5 L946.2 614.8 L945.7 616.7 L946.1 620.1 L944.1 619.9 L940.8 620.6 L939.2 620.1 L937.4 620.6 L935.7 620.9 L936.1 622.9 L935.8 624.4 L934.3 626.1 L933.3 628.3 L930.6 628.4 L929.3 629.5 L928.4 631 L926 633.2 L924.3 634.1 L923.8 633.9 L921.6 635.1 L920.2 637.9 L918 638.2 L917.1 639 L914.8 640.5 L914.8 639.6"/><path d="M924 621.9 L924.7 619.7 L923.4 618.3 L924.4 616.2 L925.5 614.2 L925.8 612.7 L925.3 611.3 L924.7 609.7 L923.6 608.7 L922.9 607.2 L921.7 605.3 L921.1 603.9 L920.4 602.8 L921 601.9 L921.6 599.7 L921.6 597.3 L920.5 594.6 L921 593 L921.3 591.1 L921.9 589.5"/><path d="M894.8 715.1 L896.6 713.2 L898.6 712.9 L901 712.2 L902.7 710.8 L905 710.4 L906.8 710.5 L908.2 710.9 L909.7 711.7 L912.9 713 L915 713.2 L916.6 714 L917.2 715.5 L918 717.5 L919 719.2 L919.5 720.2 L917.1 720.7 L913.5 721.7 L910.7 723.5 L911.4 724.6 L910.4 725.2 L911 726.6 L909.1 729.6 L908.5 732 L906.8 732.7 L907.4 735.3 L907.6 737.6 L906.9 739.5 L907.5 741.4 L906.1 741.9 L905.2 743 L906.7 745.9 L905.2 748.9 L904 750.8 L904 752.5 L902.1 754.1 L900.3 752.1 L899.3 750.2 L899.1 748.5 L898.6 745.8 L897.6 744.2 L896.6 743.1 L896.4 741.2 L895.6 739.4 L894.8 737.6 L894.1 735.2 L893.4 733.9 L893.4 733.3 L893.1 731.7 L893.2 730.1 L893.5 728 L893.8 725.8 L894.5 723.1 L894.1 722.4 L894.2 720.2 L894.6 716.6 L894.8 715.1"/><path d="M941.5 560 L942.1 562.5 L942.3 563.7 L941.1 564.8 L940.2 566.3 L940.2 569.1 L941.1 571.6 L941.4 573.7 L941.1 576.2 L943.4 577.6 L944.4 578.7 L947 580 L949.5 581.6 L949.4 581.6 L950.1 582.7 L952.4 585.4 L954.6 585.9"/><path d="M1043.1 561.5 L1042.5 563.1 L1042.9 564.4 L1042.8 565.1 L1042.2 567.1 L1042.5 569.9 L1043.6 573.2"/><path d="M906.5 600.8 L908.5 601 L910.2 600.8 L912.4 599.6 L915 599.4 L915 601.5 L915.9 604.1 L915.1 604.8 L916.6 607.8 L917 610 L916.4 611.6 L913.9 611.8 L911.1 611.8 L909.3 612.2 L907.8 612 L909.1 609.6 L909.2 607.9 L908.8 605.4 L906.8 603.7 L906 602.4 L906.5 600.8"/><path d="M949.7 734.3 L951.9 733 L953.3 734.2 L954.8 735 L955.4 737 L957.6 737.6 L959.1 739.2 L960.3 739.3 L962.1 740.4"/><path d="M952.3 702.3 L952.8 704.8 L953.6 706.2 L954.6 707.8 L956.1 710.1 L956.4 710.7 L955.5 712.6 L954.9 714.6 L954.8 715.4 L954.1 717.2 L953.7 720 L952.9 721.7 L952.5 724 L951.3 726.7 L950.2 728.6 L950.1 730.2 L949.3 731.3 L949.7 734.3"/><path d="M952.1 692.3 L953.5 691.2 L956.4 690.2 L958.3 690 L960.6 689.5 L962.1 688.3 L963.5 688.2 L965.2 687.8 L966.8 687.2 L968.7 687 L970.9 686.9 L973.1 687 L975 686.9 L976.4 685.9 L978 684.9 L980.4 685.9 L982 685.8 L983.6 685.8 L985.3 685.8 L987.1 685.5 L989.1 685.4"/><path d="M952.3 702.3 L952.6 700.5 L953 698.6 L953.3 697.1 L952.5 695.1 L952.1 692.3 L952.6 690.2 L954.3 689.6 L955.9 687.8 L957.5 686.7 L958.4 684 L958.5 681.9 L958.3 680.2 L957.1 679 L956.6 677 L956 675 L955.2 672.8 L954.5 670.1 L954.4 668.5 L955 667.2 L955.4 665.4 L955.6 662.7 L955.4 659.4 L958.5 659 L959.8 659.8 L960.9 658.8 L963.5 658.3 L966.2 657.5 L966.5 658.1 L969 657.9 L970.9 659.3 L973.6 660.4 L976.8 660.3 L978.5 660.7 L979.9 661.9 L981.1 662.4 L981.9 663.3 L984.3 665 L985.8 667"/><path d="M960.9 629.3 L960.7 628.1 L961.1 626.6 L962.7 624.5 L962.7 622.9 L962.5 621.2 L965.2 620.1 L965.5 619 L967.7 618.3 L969.8 618.1 L971.2 620 L972.2 620.6 L974.2 621.4 L975.1 624.1 L976.6 625.7 L978.8 626.6 L981.5 628.8 L982.6 630.1"/><path d="M976.1 611.3 L976.2 612.8 L975.9 613.6 L975.7 616.7 L976.6 618.7 L977.1 620.6 L977.4 622.3 L976.1 624.1 L976.6 625.7"/><path d="M980.9 597.9 L979.5 599.4 L978.4 600.7 L977.3 602.3 L977.7 604.3 L977.5 606.5 L976.6 609 L976.1 611.3"/><path d="M916.7 829.8 L915.8 827.4 L915.9 825.8 L916.8 824 L917.9 822 L918.2 819.9 L918.5 818 L919.2 816.6 L918.9 814 L919.6 811.3 L921.3 809.2 L922 808.9 L922 807.4 L922.4 804.9 L921.7 802.6 L920.9 799.9 L920.8 797.9 L921.2 796.6 L920.9 794.1 L919.4 793.4 L919.1 792 L918.8 790.5 L919.3 788.2 L921.4 786.2 L922.6 784.9 L923.8 783.5 L924.3 782.9 L924.7 781.5 L924.1 779.1 L924.5 777.8 L925.2 775.8 L926.5 773.6 L928.1 772.5 L928.6 770.1 L928.9 767.7 L927.6 766.3 L927.9 764.5 L927.5 763.4 L928.2 761.5 L929.8 760.2 L930.4 758.5 L930.6 755.8 L931.2 753.8 L932.2 752.2 L933.7 750.4 L934.2 749 L935.7 748.4 L937.9 747.2 L939.8 745.1 L941.2 744.3 L942.3 742.1 L943.3 740.3 L944.2 738.6 L945.6 735.9 L947.2 733.8 L948.8 733.8 L948.4 731.3 L949.5 729.9 L950.1 728.4 L950.2 726.4"/><path d="M934 767.7 L936 768.7 L938 769 L938.8 768.9 L940.2 770.6 L942 770.9 L943.1 771.2 L945 773.1 L946.6 772.6 L946.7 774.2 L948.4 776.4 L950.3 778.3"/><path d="M874.1 804.9 L874.5 802.4 L875 800.9 L875.9 799.6 L878.1 800.1 L881.7 800.4 L882.8 798.6 L883.2 797.2 L883.8 795.7 L884.8 797.1 L886.8 797.4 L888.5 798.3 L890.1 799.4 L891.5 800 L893.1 800.4 L894.8 801.4 L896.3 803 L898.2 804 L899.6 804.3 L899.6 802.5 L900.4 800.8 L899.4 798.4 L899.4 796.4 L899.5 794.6 L898.8 793.7 L900.8 793.5 L902 791.9 L903.9 791.4 L905.1 790.1 L907.5 790.5 L909.9 789.4 L911.2 789.3 L912.9 789.7 L915.7 790.2 L918.8 790.5"/><path d="M861 793.4 L862.9 791.7 L865.8 791 L866.8 790.8 L868.8 788.5 L869.9 786.2 L870.6 784.2 L871.2 782.2 L871.1 780.8 L870.9 780 L872 778.7 L872.6 777.2 L873.7 775 L874.9 772.1 L875.9 770.9 L876.4 769.3 L877.5 767.5 L878.7 764.4 L879.8 763 L877.5 762.7 L876.7 761.6 L875.9 759.4 L875.9 756.5 L875.4 755.2 L875.6 754 L875.3 750.9 L875.2 749 L875 747.6 L873.9 746.7 L874.1 745.7 L874 744.3 L872.3 742.2 L870.9 739.8 L870.1 738.3 L870 737.6 L869 736.4 L866.7 735.6 L865.6 734.3 L863.9 733.4 L861.6 732.7 L857.9 730.8 L856.4 730.6 L854.6 730.8 L852.2 731.5 L851.4 731.1"/><path d="M851.4 731.1 L850.1 732.8 L849.1 734.8 L848.2 737.1 L846.8 739.3 L846.5 740.6 L846.3 742.2 L845.9 744.1 L845.5 746.6 L846 747.8 L845.1 749.2 L843.7 750.4 L842.7 751.7 L842.2 753.7 L840.6 755.1"/><path d="M875.4 755.2 L876.7 754.5 L879 753.4 L880.5 752.6 L881.8 750.7 L882.8 747.8 L882.7 745.7 L882.9 744.1 L883.7 741.4 L884.6 739.7 L885.8 739 L886 739.7 L887.1 741 L888.6 741.9 L890.4 743.2 L891.3 744.6 L893.4 744.7 L893.5 746.3 L894.2 747.6 L892.5 749.9 L892.5 751.7 L893.3 754 L894.1 756.5 L895.1 758.4 L896.9 759.9 L897.3 761.4 L898.5 762.2 L900.5 763.6 L900.8 764.8 L900.4 766.6 L901.3 768.6 L902.4 771.2 L903.3 773.3 L904.9 774.3 L906.1 775.1 L907.8 775.6 L908.3 776.9 L907.6 779.9 L907.5 781.8 L907.7 784.1 L907.9 786.4 L906 786.1 L904.1 786.4 L902.2 787 L899.4 788.4 L898.2 788.5 L899.2 790.8 L898.8 793.7"/><path d="M893.4 744.7 L894.4 745.1 L897.9 745.3 L898.9 747.4 L900.4 748.5 L901.4 749.1 L902.8 750.7 L905.3 751.6 L904.1 749.9 L905.8 746.8 L905.7 744.2 L905.2 742 L907.5 742 L907.2 740.2 L907.6 738.3 L908.2 736.1 L909.4 735.1 L911.2 734.5 L913.1 734.3 L915.1 734.3 L916.9 736.3 L920.2 736.3 L922 737.1 L924 738.3 L925.7 738.9 L925.3 741 L925.3 743.1 L925.8 745.2 L925.6 747 L926.4 748.3 L927.1 749.8 L927.5 752 L927.7 754.3 L928 756.2 L927.9 758.2 L927.4 760 L927.2 762.2 L927.5 763.4"/><path d="M800.7 691.2 L802.8 692 L804.9 692.8 L807 693.7 L808.4 694.6 L810.9 694.6 L812.5 695 L814 695.4 L816.4 695.5 L818.5 695.7 L820.5 696.5 L822.7 696.9 L824.9 697.2 L826.3 697.8 L828.7 698.5 L830.9 698.8 L833 699.1 L835.1 700.4 L836.9 700 L838.7 700.3 L839.7 701.5 L841.8 703.6 L843 705.4 L842.9 707 L844.9 708.7 L845.1 710.1 L845.4 711.9 L847 715 L848 715.8 L849.6 718.2 L850.8 720.5 L851.3 721.7 L851.4 723.9 L851 725.7 L851.9 727.6 L851.4 730.2 L850.5 732.2 L848.2 731.7 L846.5 731 L844.5 730.3 L841.8 729.8 L839.7 730.3 L838 729.7 L836.2 729.3 L834.2 728.8 L832.3 729.4 L830.7 730.2 L828.4 731.2 L827.3 729.6 L825.1 729.1 L822.8 728.6 L820.5 728.3 L819.7 727 L817.4 726.1 L817.7 724.4 L818 722.9 L818.4 721 L818.7 719.3 L817.9 717.9 L816.7 716.2 L815.7 714.4 L814 713.5 L812.2 712.1 L809.9 710.5 L807.7 710.6 L806.3 709.6 L804.1 709.4 L802.1 709.3 L801.3 707.9 L800.4 706.5 L799.5 704.9 L799.7 703 L799.7 701 L799.6 698.9 L800.1 697.2 L800.3 695.3 L800.4 693.3 L800.7 691.2"/><path d="M851.4 723.9 L851.6 721.8 L851.3 720.5 L850.9 718.8 L849.9 716.6 L848.7 714.6 L850.7 713.9 L853.8 713.4 L855.9 712 L857.5 711.3 L858.8 710.8 L859.6 710.5 L861.9 709.6 L863.3 708.7 L864.2 706.7 L866.8 706.1 L869.7 706 L872.9 707.3 L873.5 707.2 L874.9 706.5 L876.7 705.4 L878.2 706.1 L880.6 706.4"/></g>
<g fill="none" stroke="#2e1616" stroke-width=".9" stroke-opacity=".85"><path d="M1018.9 593.8 L1018.9 598.8 L1021.4 602.6 L1025.2 601.3 L1030.2 601.3"/><path d="M1010.1 599.1 L1010 600.9 L1010.4 602.9 L1010.3 604.8 L1010 606.6 L1010.8 608.1 L1011.8 609.7 L1012.9 611.1 L1014.5 612.8 L1017.1 615.5 L1018.1 616 L1019.3 616.4 L1020.9 617"/><path d="M1006 599.5 L1006.1 602.2 L1005 603.6 L1004.3 606.3 L1004.1 608.4 L1002.4 609.5 L1001.1 611.7 L999.9 613.6 L998 613.8 L996.3 615.5 L995.2 617.5 L993.5 618.8 L995.1 621 L996.1 622.3 L996.5 624 L996.6 626.6 L996.6 628.6 L996.9 630.5 L997.7 633.1 L998.7 635.5"/><path d="M999.9 613.6 L1000.2 615 L1002 616.7 L1003.6 617.9 L1006.3 619.2 L1007.7 620.6 L1009.7 622.2 L1012.2 623.8 L1013.7 624.4 L1015.5 625.3"/><path d="M1000.2 615.6 L1001.2 617.7 L1001.2 619.9 L1000.8 622.3 L1000.1 625.1 L999.5 627.8 L999.2 630 L999.9 631.3 L999.9 633.1 L999.7 635.3"/><path d="M1011.4 623.9 L1010.1 628.9 L1006.4 632.7 L1002.6 635.2"/><path d="M983.8 626.4 L988.8 625.1 L988.8 628.9"/><path d="M981.2 638.4 L983 638.9 L985.9 638.6 L987.8 640 L989.8 640.7 L991.9 641.1 L994.4 641.5 L996.6 641.7 L997.2 644.2 L997.5 647 L997 648.5"/><path d="M996.3 647.7 L995.1 652.7 L997.6 656.5 L1001.4 657.7"/><path d="M986.3 650.2 L987.6 655.2 L992.6 656.5 L995.1 656.5"/><path d="M1030.1 583.4 L1030.4 585.8 L1030.1 588.1 L1030.4 591.2 L1030.8 592.8 L1032.1 594.1 L1033.6 596"/><path d="M1025.1 588.9 L1026.2 590.8 L1026.3 593.5 L1027.5 594.8 L1027.5 597.2 L1026.6 599.6 L1025.5 601.6"/><path d="M1032.2 581 L1030.1 583.4 L1028.4 585.5 L1026.4 587.2 L1025.1 588.9 L1024.3 590.6 L1022.5 591.3 L1020.3 592.3 L1018.8 593.7 L1016.2 594.8 L1013.9 595.2 L1012.2 597.4 L1010.1 599.1 L1008.3 598.8 L1006 599.5"/><path d="M988.8 628.9 L992.6 627 L995.7 628.9 L997 632.7 L995.7 635.8 L992 637 L989.4 635.2 L988.2 632 L988.8 628.9"/><path d="M996.3 641.4 L998.8 635.2"/><path d="M981.9 645.2 L986.3 650.2"/><path d="M992.8 656.9 L991.9 659 L989.9 660.3 L989.1 661.9 L987.8 663.6 L986.6 666.1 L985 667.4 L984 668.1 L982.8 670.2 L982.3 672.2 L981.3 674.3 L980.3 677 L983.2 677.2 L984.9 678.1 L986.8 678 L988.9 677.7 L991.2 677.4"/><path d="M1001.4 647.7 L1007.6 648.9 L1010.1 647.7"/><path d="M1032.7 581.3 L1037.7 583.8 L1040.2 585"/><path d="M981.2 638.4 L979.1 638.8 L976.7 639.5 L974.9 638.7 L972.9 638.4 L971 638.1 L969.1 637.9 L967.1 637.8 L965.7 636.7 L964.1 635.8 L962.2 634.8 L962.5 632.7 L962.9 630.6 L962.8 629.1 L962.8 627.6 L963.1 626.1 L964 624.1 L963.8 622.4 L963.9 620.6 L965.7 619.5 L967.3 618.8 L970 618.1 L970.9 619.9 L971.6 621.1 L973.2 622.3 L975.1 623.5 L976 624.6 L978 625.3 L980.8 626.2 L983.6 627.6 L983.2 628.6 L982.9 630.7 L982.4 633 L981.7 634.6 L981.9 636.2 L981.2 638.4"/></g>
<g fill="none" stroke="#151111" stroke-width=".75" stroke-opacity=".95"><path d="M1003.9 637.2 L1003.3 638.5"/><path d="M1006.6 639.8 L1008.8 640.2"/><path d="M1000.3 640.6 L1001.7 640.9"/><path d="M1005.2 645.4 L1006.7 646"/><path d="M1012.1 636 L1010.4 636.8"/><path d="M1001.7 636.8 L1003.3 639.2"/><path d="M1002.1 642.4 L1001.3 644.2"/><path d="M1006.7 636.2 L1008.4 636.5"/><path d="M1008.4 640.6 L1009.7 642.6"/><path d="M1005.5 639 L1003.4 640.6"/><path d="M1002.9 642.3 L1002.7 645.3"/><path d="M1009 638.9 L1007.5 639"/><path d="M1005.1 644.5 L1007.1 645.5"/><path d="M1010.8 639.2 L1009.4 641.2"/><path d="M1007.1 640.9 L1004.4 642.4"/><path d="M1005.8 643.4 L1008.4 643.9"/><path d="M1004.7 643.5 L1006.9 643.6"/><path d="M1002 636.8 L1004.7 637.3"/><path d="M1001.5 638.4 L1002.5 641.2"/><path d="M1000.9 640.8 L1000.4 643.8"/><path d="M1010.1 645.8 L1011.5 647.4"/><path d="M1004.3 646.1 L1002.8 646.3"/><path d="M1002.1 638.2 L1003.7 639.7"/><path d="M1007.2 638.6 L1009.3 638.6"/><path d="M1004.5 642.2 L1001.9 642.6"/><path d="M1006.3 642.8 L1005.6 644"/><path d="M1011.1 644.8 L1008.5 645.9"/><path d="M1004.8 640.2 L1007.2 641"/><path d="M1000.6 636.2 L1001.9 637.2"/><path d="M1004.1 636 L1005.7 636"/><path d="M1001.1 639.8 L1004.1 640"/><path d="M1007.5 637.2 L1008.9 638.6"/><path d="M1004.4 636.9 L1001.5 638.4"/><path d="M1005.7 641.2 L1007.1 641.6"/><path d="M1004.1 638.6 L1002.8 639.4"/><path d="M1006.7 635.7 L1006.4 638.9"/><path d="M1010.7 643.8 L1012 645.2"/><path d="M1001.9 644.7 L1001.7 647.5"/><path d="M1004 638.1 L1001.3 639.9"/><path d="M1010.5 645.1 L1008.2 646.6"/><path d="M1002.7 641.6 L1003.3 642.8"/><path d="M1000.2 638.8 L1002 640.7"/><path d="M1011.8 640.8 L1008.7 641.4"/><path d="M1011.8 639.8 L1013.1 640.9"/><path d="M1002.3 637.9 L1001.2 640.7"/><path d="M1010.4 641.2 L1009.1 643.7"/><path d="M1009.2 641.2 L1011.7 642.7"/><path d="M1004 645 L1002 645.2"/><path d="M1004.9 646.8 L1003.8 648"/><path d="M1001.7 645.4 L999.1 645.5"/><path d="M1004.2 642 L1005.4 642.5"/><path d="M1012 643.2 L1011.8 646.3"/><path d="M1005.3 645.9 L1003.9 646.8"/><path d="M1003 638.9 L1004.8 640.6"/><path d="M1003.1 640.5 L1005.9 641.7"/><path d="M1004.3 640.9 L1003.5 643.9"/><path d="M1006.4 635.6 L1006.7 637.2"/><path d="M999.9 645 L1001.8 646.2"/><path d="M1008.9 642.1 L1010.1 644.1"/><path d="M1006.8 644.8 L1009.1 645.6"/><path d="M1003 638.7 L1001.2 640.2"/><path d="M1006.9 644.6 L1004.8 645.1"/><path d="M1007.5 641.5 L1007.4 644.1"/><path d="M1005.5 641.8 L1005.7 645"/><path d="M1008.6 646 L1006.9 646.3"/><path d="M1006.9 646.8 L1005.5 647.5"/><path d="M1001.4 640.7 L1003.1 641.1"/><path d="M1001.8 644 L1001 645.4"/><path d="M1004.8 641.3 L1001.9 641.4"/><path d="M1001.9 640.6 L1001.8 642.5"/><path d="M1002.3 639.2 L1001.5 640.2"/><path d="M1006.8 640.7 L1008.7 640.8"/><path d="M1007.7 641.6 L1010.8 642.2"/><path d="M1009.7 647.1 L1011.4 647.7"/><path d="M1000.3 644.8 L1001.3 645.9"/><path d="M1005.1 646.4 L1003.6 647.3"/></g>
<path d="M677.9 364.5 L678.3 366.7 L678.7 369 L679 371.3 L680.8 372 L682.8 372.6 L682.6 374.3 L682.5 376.3 L682.4 378.1 L682.3 379.8 L682.2 381.7 L682 383.5 L681.8 385.3 L681 386.9 L680 388.4 L679 389.9 L677.9 391.4 L676.9 392.8 L675.9 394.5 L675 396 L674.2 397.7 L673 399.2 L671.8 400.6 L670.5 402.1 L669.2 403.6 L667.9 405 L667.8 407.1 L667.8 409.1 L667.9 411.1 L667.9 413.2 L668 415.2 L667.5 416.9 L667 418.8 L666.5 420.5 L665.9 422.2 L665.5 423.9 L665.6 425.8 L665.6 427.7 L665.5 429.7 L665.3 431.6 L665.4 433.5 L665.4 435.3 L663.6 435.3 L661.7 435.3 L659.9 435.3 L658.1 435.3 L656.3 435.3 L654.5 435.3 L652.5 435.3 L650.7 435.2 L648.9 435.1 L647 435.2 L645.2 435.2 L643.3 435.3 L641.4 435.3 L639.6 435.3 L637.7 435.3 L636.5 438.3 L634.7 438.3 L632.9 438.5 L631 438.6 L628.9 438.6 L627.1 438.8 L625.2 439.1 L623.3 439.3 L621.5 439.3 L619.6 439.4 L617.7 439.5 L615.8 439.7 L614 440 L613.7 442 L613.3 443.9 L612.9 445.8 L612.6 447.8 L610.5 448.3 L608.3 448.8 L606.4 449.1 L606.2 450.9 L605.9 452.7 L605.5 454.6 L605.1 456.6 L603.2 457.2 L601.4 457.8 L601.4 459.6 L601.4 461.5 L601.3 463.5 L601.1 465.6 L600.9 467.4 L600.9 469.3 L600.9 471.3 L600.8 473.3 L600.9 475.1 L600.9 477.1 L600.9 479.1 L598.6 479.2 L596.3 479.6 L593.9 479.8 L593.9 482 L593.8 484.2 L595.9 484.2 L598.2 484.2 L600.1 484.1 L602.3 484.2 L602.3 486.1 L602.2 488.2 L602.2 490.1 L602.2 492 L602.2 494.1 L602.2 496 L602.2 497.9 L602.4 499.7 L602.7 501.6 L603 503.4 L603.2 505.2 L603.4 506.9 L603.8 508.7 L604 510.5 L604.7 512.3 L605.5 514.1 L606.2 515.9 L606.9 517.6 L607.5 519.6 L608.2 521.4 L608.9 523 L607.5 524 L606.1 524.8 L604.4 525.8 L602.7 526.7 L601.6 528.1 L600.4 529.6 L599.1 530.9 L597.9 532.4 L596.5 533.7 L595.1 535.1 L593.8 536.6 L592.7 538.2 L591.4 539.5 L590.3 540.8 L589 542.4 L587.7 544 L586.5 545.4 L585.2 546.9 L583.9 548.2 L583.2 550.1 L582.6 552.1 L581.8 554.3 L580.9 556.2 L580.2 558.2 L578 558.6 L576 559 L574 559.3 L573.8 561.3 L573.8 563.2 L573.8 565.1 L573.8 562.6 L573.9 560 L574.1 561.9 L574.3 563.8 L574.7 565.6 L575.1 567.4 L576.6 568.2 L578.2 569.3 L579.7 570.4 L581.4 571.3 L581.4 573.5 L581.4 575.6 L581.5 577.6 L583.1 578.5 L584.8 579.4 L586.5 580.1 L586.7 581.9 L586.8 583.7 L587 585.6 L587.2 587.5 L587.5 589.4 L587.7 591.3 L586.1 592.9 L584.4 594.5 L582.9 596.2 L581.4 597.7 L579.2 597.6 L577.1 597.5 L574.8 597.7 L572.6 597.6 L571.5 600.1 L569.7 600.2 L567.9 600.2 L566 600.2 L564.1 600.3 L562.3 600.2 L560.5 600.1 L558.6 600.1 L556.7 600.2 L555 600.2 L553.2 600.1 L551.3 600.1 L550.6 597.7 L550 595.1 L548.2 595.2 L546.4 595.2 L544.6 595.1 L542.7 595 L542.5 597 L542.2 598.9 L542.1 600.8 L541.9 602.7 L541.9 604.5 L541.9 606.4 L541.6 608.4 L541.5 610.3 L541.3 612.1 L541.2 613.9 L539.5 614.1 L537.7 614.2 L535.7 614.3 L534.1 614.5 L532.3 614.7 L530.3 614.8 L528.5 615 L526.8 615.1 L525 615.3 L525 617.1 L525.1 618.8 L525.2 620.5 L525.3 622.3 L525.4 624.2 L525.3 626.1 L525.4 627.9 L525.5 629.7 L525.6 631.5 L525.6 633.3 L525.6 635.1 L525.7 636.9 L525.6 638.8 L525.7 640.6 L525.7 642.5 L525.8 644.4 L526 646.3 L526.1 648.1 L526.2 649.8 L526.2 651.6 L526.2 653.4 L525.4 655 L527.9 655.9 L530 655.6 L531.7 656.5 L533.9 656.8 L535.8 656.7 L537.4 657.8 L539.1 658.1 L540.8 658.4 L542.6 659.1 L544.7 658.4 L546.6 657.9 L548.7 658 L549.5 658 L551.3 658.2 L554 658.4 L556 659.2 L557.6 659.3 L559.1 659.1 L560.9 658.9 L562.9 658.8 L564.8 658.8 L566.7 658.4 L568.5 658.9 L570.4 659.1 L572.2 658.9 L574.5 659.2 L576.3 659.4 L577.9 659.4 L579.8 660.1 L581 661 L581.4 661.7 L582.7 662.8 L584.4 664.4 L586.9 666.1 L589.1 667.2 L590.6 669.4 L591.6 670.3 L591.9 672.7 L592.2 674.7 L592.6 676.4 L592.8 678.8 L593.8 680.8 L595.4 682.2 L597.5 682.5 L598.4 684.2 L598.4 686.1 L599.3 687.5 L600 689.6 L602 689.8 L604.2 690.2 L606.4 690.5 L606.7 688.5 L606.6 687.2 L607 685.6 L607.5 683.6 L609.3 683.5 L611.1 683.4 L613.9 683.6 L615.8 683.7 L616.9 684.8 L618.2 685.3 L619.4 686 L620.7 687.4 L622.5 688.2 L624.9 688.6 L627 688.4 L627.9 690.1 L630.2 690.9 L632 690.8 L632.5 692.4 L633.5 693.6 L636.2 694.3 L637.6 695.7 L637.5 697.8 L638.3 699 L638.8 700.2 L639.2 701.7 L638.6 704.1 L639 706.3 L639.6 708.1 L642 709.6 L643.1 711.2 L644.3 712.6 L645.1 713.9 L646.1 715.5 L647.2 717 L648.6 718.8 L649.3 720.9 L652 721.5 L653.8 723.1 L655.6 724.6 L657.7 726 L658.9 727.2 L660.6 728.8 L662.2 730 L663.9 730.7 L665.6 732.3 L666.7 733.4 L668.6 735 L671.1 735.4 L672.3 737.1 L673.4 739.4 L674.9 740.3 L675.9 740.9 L677.5 742.4 L678.7 744 L680.4 745.5 L681.4 747.3 L683.1 747.7 L684.2 749.5 L685.5 751.4 L687.1 752.4 L688.6 753.6 L689.6 754.8 L690.5 756.4 L692.3 757.4 L695.1 758.2 L696.2 759.6 L698.4 760.3 L699.2 762.1 L701.8 762.8 L703.9 763.9 L705.7 765.5 L707.1 765.8 L709 764.7 L710.8 763.4 L713.1 762.6 L713.5 760 L713.6 757.8 L714.6 756.3 L716.3 754 L717.4 752.4 L718.6 750.4 L720.4 750.2 L723 750.6 L724.9 750.7 L726.4 750.6 L727.8 750.3 L730.6 751 L732.4 750.8 L734.2 750.7 L735.9 750.4 L738.4 749.9 L740.7 749.5 L742.6 749.2 L743.8 749.1 L746.2 749.6 L747.8 750 L748.3 750.3 L750 751.7 L751.7 752.6 L752.8 753.1 L755.1 754.2 L757.1 755.3 L759.1 756.1 L760.6 757.8 L762.7 757.8 L764.9 757.9 L766.9 758.1 L769.1 758.2 L771.1 758.1 L773.1 758 L775 757.8 L776.8 757.4 L778.8 757.1 L780.8 756.7 L782.6 756.5 L784.3 755.9 L786.2 755.6 L788.2 755.4 L790 755.8 L791.6 756.3 L793.5 757 L795.9 757.9 L797.7 758.2 L799.5 758.3 L801.4 758.2 L803.2 758.5 L804.9 756.8 L806.6 755.2 L808.8 753.7 L810.1 755.5 L811.1 757.2 L812.1 759.1 L813 760.5 L815.1 760.7 L817.1 760.6 L819 760.2 L821.2 760.2 L822.8 759.8 L825.3 760.1 L827.6 759.6 L830.2 759.4 L831.9 759.2 L833.6 758.8 L835.5 758.3 L837.1 757.9 L838.8 757.2 L840 755.8 L842.7 757.7 L843.6 757.9 L844.1 757.3 L845.5 757.8 L847.2 758.3 L849.7 759.2 L851 761.2 L851.9 763 L853 764.8 L853.3 766.4 L854.8 767.7 L856.2 769.4 L857 771.4 L857 773.4 L856.9 775.2 L858.5 776.9 L858.8 778.9 L859.2 780.7 L859.4 781.5 L859.7 783.6 L859.8 785.5 L860.8 787.7 L860.4 788.9 L860.4 790.7 L861 793.4 L861.4 794.8 L861.1 795.9 L861.1 798.1 L861.4 800.8 L860.4 803.2 L942.6 842.6 L942.2 841 L941.9 839.5 L943.8 836.4 L943.5 836.3 L944.2 833.6 L944.5 831.6 L944.3 829.5 L943.2 826.2 L944.4 824.4 L943.8 822.3 L943 821 L942.4 818.9 L942 818.6 L941.8 816.2 L942.3 813.9 L943.2 811.7 L944.4 809.8 L944.7 807.5 L945.5 805.1 L946.4 803.4 L946.8 801.8 L948.2 798.2 L949.2 796.3 L949.1 794.5 L948.6 793.2 L950.6 791.7 L950.2 789.4 L950 786.6 L950.1 784.2 L950.8 783.1 L950.5 779.5 L950.3 778.3 L952 777.6 L953.2 775.9 L954.7 774.3 L956.1 772.8 L956.5 770.6 L956.6 768.4 L956.2 767.6 L956.5 765.7 L956.9 763.7 L957 761.7 L958.1 759.2 L958.8 758 L959.1 756 L959.5 753.5 L960.1 751.6 L960.1 750.5 L960.1 748.7 L961.5 746.6 L961.1 745 L961.6 742.8 L962.1 740.4 L962.2 739 L963.8 737.5 L966 735.4 L966.6 734 L967.9 732.6 L968.9 732.2 L969.8 729.8 L972 727.2 L973 727.3 L973.3 724.7 L973.9 723 L975.7 721.2 L977.3 719.5 L978.8 717.7 L980 717.1 L981.5 715.2 L984.7 713.2 L985.8 712.4 L985 711.3 L986.5 709 L988 707.2 L987.1 706.6 L987.2 704 L988 701.3 L987.4 700.3 L987 697.2 L987.1 695.5 L987.2 693.4 L987.5 691.7 L987.5 689.3 L988.2 687.8 L989.1 685.4 L990.4 683.2 L989.9 681.8 L992.1 678.8 L992.9 676.9 L994.2 675 L994.5 673 L995.2 672.4 L995.5 669.2 L995.8 666.5 L995.8 664.6 L997 663.1 L999 662.4 L999.9 661.1 L1001.1 659.6 L1002 657.6 L1002.9 657.1 L1003.7 655.7 L1004.2 653.8 L1005 651.6 L1006.4 650.3 L1007.3 649.9 L1007.8 647.9 L1008.3 644.5 L1009.8 642.6 L1011.4 641 L1013.5 639 L1014.2 637 L1014.6 635.4 L1013.2 632.8 L1014.1 632.2 L1014.9 631.2 L1014.6 628.4 L1015.8 628 L1018.1 627.1 L1019.1 624.4 L1019.5 622.7 L1020.4 621.6 L1020.5 618.5 L1021.6 616.6 L1022.2 614.5 L1023.4 613.5 L1025.8 613 L1026.6 612.1 L1027.2 609.3 L1028.3 607 L1028.2 605.7 L1030 603.5 L1031.3 601.5 L1031.5 600.3 L1032.2 598.6 L1032.6 596.9 L1034.4 595.8 L1034.9 594.6 L1035.3 593.4 L1036.4 592.2 L1037 590 L1036.9 587.2 L1039.1 586.9 L1040.6 585.6 L1042.8 584 L1044.1 582.3 L1044.4 581.3 L1046.3 579.3 L1048.5 577.4 L1049.8 576.5 L1051.9 575.5 L1054.4 575.6 L1054.6 574.9 L1056.6 573.9 L1058.5 573.3 L1060.4 573 L1061.1 571.8 L1063 570.8 L1065.6 569.3 L1066.6 568.5 L1066.7 566.9 L1068.6 565.6 L1070.5 564.3 L1072.1 563.5 L1073.3 562.6 L1073.4 560.8 L1074.1 563.5 L1073.5 566.4 L1073.9 564 L1074.7 561.5 L1074.5 559.4 L1075 557.5 L1075.2 555.1 L1075.6 552.4 L1076.3 550.8 L1076.8 548.9 L1077.3 547.7 L1077.8 546.7 L1078.1 544.4 L1079.2 543.3 L1080.5 541.5 L1080.9 538.7 L1082 537.4 L1082.8 536.1 L1083.2 533.8 L1083.4 531.7 L1084.1 529.9 L1085.2 528.7 L1086.4 527.2 L1087.8 525.2 L1088.5 523.4 L1090 522 L1091.1 519.8 L1091.9 518.9 L1092.7 517.8 L1092.9 516.7 L1092.7 515.2 L1092.8 513.9 L1093.5 510.5 L1095 508.5 L1096.7 506.2 L1097.4 504.5 L1098.6 502 L1099.2 500 L1099.4 498.5 L1099.1 496.6 L1099.5 495.4 L1099.8 493.8 L1100.4 491.6 L1099.5 489 L1099.4 486.9 L1100.1 485.5 L1100.8 483.9 L1100.8 483.1 L1100.8 481.8 L1101.4 480.4 L1101.6 477.8 L1101.8 475.4 L1101.9 472.8 L1102.4 471.1 L1103.2 469.4 L1103.7 467.3 L1103.6 464.9 L1102.8 462.9 L1103.2 461.8 L1103.2 459.7 L1103.2 456.9 L1101.9 455.7 L1104.2 453.9 L1105.4 452.6 L1107.1 450 L1108.1 448.6 L1108.6 447.1 L1110.4 445.6 L1111.5 444.2 L1112.7 442.6 L1112.3 440.3 L1112.8 437.6 L1112.8 435.4 L1112 433.7 L1113.7 432.1 L1114.3 430.7 L1115 429 L1116 427.2 L1115.4 425.9 L1115.2 424.3 L1115.8 422.1 L1115.9 418.6 L1116.1 416.2 L1116.9 415 L1118.5 413.2 L1118.2 411.9 L1118.2 410.9 L1118.9 409.9 L1119.4 407.3 L1120 405 L1120.4 402.9 L1120.1 401.5 L1119.8 398.4 L1120.8 396.7 L1121.7 394.6 L1123.2 392.2 L1122.7 391.1 L1123.1 389.4 L1124 387.3 L1124.5 385.6 L1124.6 383.1 L1124.4 381.6 L1125.5 379.3 L1126.3 377.4 L1127.2 376.1 L1127.1 374.2 L1127.6 372.6 L1128.5 371.7 L1129 369.3 L1129.2 367.2 L1129.1 366.4 L1130.3 363.6 L1131.2 363.1 L1131.8 362.2 L1132.6 359.8 L1132.6 357.3 L1132.9 354.7 L1133.1 352.3 L1134.2 350.1 L1133.3 349.4 L1132.9 348 L1133 346.1 L1132.8 343.7 L1132.7 341.4 L1132.5 339.5 L1132.1 338.4 L1131.2 336.3 L1132.3 334.2 L1132.6 332.2 L1131.3 330.5 L1129.4 330.8 L1128.3 330.5 L1126.9 329.8 L1125 329.6 L1122.7 330.4 L1121.8 330.9 L1119.1 330.9 L1116.8 331.4 L1114.7 332.6 L1113.3 332.9 L1113.3 333.9 L1111.9 334.6 L1109.9 334.8 L1107.5 335.3 L1105.3 337.4 L1103.2 336.8 L1101.8 335.7 L1100.7 334 L1098.8 332.7 L1096.9 332.1 L1094.8 332.9 L1092.8 334.5 L1090.2 336.4 L1089 336.9 L1086.5 335.9 L1083.6 333 L1083.1 332 L1081.2 330.7 L1078.3 330.5 L1077.1 331.3 L1075 333.2 L1072 335 L1070.5 335.8 L1068.8 336.2 L1066.5 337.7 L1064.9 339.2 L1064.6 340.3 L1064 340.7 L1062.1 342.4 L1059.7 343.8 L1057.7 345 L1056.2 345.6 L1055 346.1 L1056 347.6 L1056.7 349 L1056.8 349.6 L1057.2 351.8 L1056.9 353.6 L1055.4 355.7 L1054.2 357.2 L1053.9 357.6 L1053.1 359.3 L1051.9 361.2 L1050.7 363.1 L1050.1 365.4 L1048.5 364 L1046.5 362.9 L1044.3 362.9 L1042.8 362.7 L1040.3 364.8 L1039 366.5 L1037.9 366.7 L1036.1 367.3 L1034 367.4 L1031.9 368.7 L1030.8 369.6 L1031.1 371.5 L1030.3 373.3 L1028.7 374.6 L1028.3 377 L1027.2 378.2 L1023.1 375.8 L1021.6 374.4 L1020.6 372 L1019.8 369.8 L1019 368.1 L1017.3 366.2 L1017.3 364.3 L1016.6 362.8 L1015.1 360.8 L1013.2 359.3 L1011.9 357.9 L1010.9 357.6 L1010.7 355.9 L1008.2 355.6 L1007 353 L1005.2 351.4 L1002.9 351.5 L1001.3 350 L1000 350.1 L998.2 350.5 L997.4 349.9 L995.4 348.5 L993 346.4 L990.8 346.5 L989 346.9 L986.6 348.4 L984.3 349.1 L982.2 347.8 L980.7 347.8 L978.6 346.3 L976.6 344.5 L974.6 344 L973.2 343.2 L971.1 342.1 L969.3 342.2 L967.9 342.2 L967.8 339.6 L966.5 340.3 L964.7 341.5 L962 339.9 L960.7 340.3 L959.3 340.9 L957.8 341 L956 342.4 L953.9 342.8 L950.9 342.4 L948.9 342.7 L947.1 343 L945.1 342.5 L943.8 341 L941.5 341.9 L939.1 343.1 L937 344 L936.1 343.5 L934.2 342.6 L932.7 341.2 L931 339.7 L928.7 340.6 L927.3 341.6 L926.3 343.8 L925.3 344.7 L923.6 345.4 L921 345.6 L919.5 346.8 L917.6 349 L915.2 349.5 L913.6 350.9 L912.5 352.8 L911.1 354.5 L909.2 356.6 L908.6 357.7 L907.9 359.1 L906.1 361.8 L905.2 362.6 Z" fill="none" stroke="#2b2b2b" stroke-width="1" stroke-opacity=".9" stroke-linejoin="round"/>
</svg>
<!-- close sidebar button -->
<div class="pill" style="left:-4px;width:33.5px;border-radius:0 16px 16px 0">
 <svg class="abs" style="left:8.5px;top:8px" width="17" height="17" viewBox="0 0 17 17"><path d="M2.8 2.8 L14.2 14.2 M14.2 2.8 L2.8 14.2" stroke="#c3c8cf" stroke-width="1.9" stroke-linecap="round"/></svg>
</div>
<!-- About / Related Maps -->
<div class="pill" style="left:55px;width:211.5px;border-radius:16px">
 <svg class="abs" style="left:11px;top:8px" width="17" height="17" viewBox="0 0 17 17" fill="none" stroke="#9ca3ad" stroke-width="1.5"><path d="M6.5 2.5 H2 V15 H14.5 V10.5"/><path d="M9.5 1.8 H15.2 V7.5 M15 2 L7.5 9.5"/></svg>
 <span style="left:36px">About</span>
 <div class="abs" style="left:83px;top:0;width:1px;height:32px;background:#969da7"></div>
 <svg class="abs" style="left:95px;top:8px" width="17" height="17" viewBox="0 0 17 17" fill="none" stroke="#9ca3ad" stroke-width="1.4"><rect x="1.5" y="1.5" width="5.4" height="5.4"/><rect x="10.1" y="1.5" width="5.4" height="5.4"/><rect x="1.5" y="10.1" width="5.4" height="5.4"/><rect x="10.1" y="10.1" width="5.4" height="5.4"/></svg>
 <span style="left:120.5px">Related Maps</span>
</div>
<!-- Map settings / Help / EN -->
<div class="pill" style="left:432px;width:265.5px;border-radius:16px">
 <svg class="abs" style="left:11px;top:8px" width="17" height="17" viewBox="0 0 17 17" fill="none" stroke="#9ca3ad" stroke-width="1.3" stroke-linecap="round"><path d="M3 1.5 V9.5 M3 13.5 V15.5 M8.5 1.5 V3.5 M8.5 7.5 V15.5 M14 1.5 V8 M14 12 V15.5"/><circle cx="3" cy="11.5" r="1.8"/><circle cx="8.5" cy="5.5" r="1.8"/><circle cx="14" cy="10" r="1.8"/></svg>
 <span style="left:36.5px">Map Settings</span>
 <div class="abs" style="left:123.5px;top:0;width:1px;height:32px;background:#969da7"></div>
 <svg class="abs" style="left:137px;top:8px" width="16" height="16" viewBox="0 0 16 16"><circle cx="8" cy="8" r="6.8" fill="none" stroke="#9ca3ad" stroke-width="1.2"/><text x="8" y="11.6" font-family="Liberation Sans" font-size="10" fill="#9ca3ad" text-anchor="middle">?</text></svg>
 <span style="left:161.5px">Help</span>
 <div class="abs" style="left:200px;top:0;width:1px;height:32px;background:#969da7"></div>
 <svg class="abs" style="left:212.5px;top:8px" width="16" height="16" viewBox="0 0 16 16" fill="none" stroke="#9ca3ad" stroke-width="1.1"><circle cx="8" cy="8" r="6.8"/><ellipse cx="8" cy="8" rx="3.1" ry="6.8"/><path d="M1.2 8 H14.8 M2.4 4.6 H13.6 M2.4 11.4 H13.6"/></svg>
 <span style="left:237.5px">EN</span>
</div>
<!-- Story -->
<div class="pill" style="left:707.5px;width:77.5px;border-radius:16px">
 <svg class="abs" style="left:11px;top:8px" width="17" height="17" viewBox="0 0 17 17" fill="none" stroke="#9ca3ad" stroke-width="1.5" stroke-linecap="round" stroke-linejoin="round"><path d="M1.5 5 V1.5 H5 M12 1.5 H15.5 V5 M15.5 12 V15.5 H12 M5 15.5 H1.5 V12"/><path d="M8.5 5.5 V11.5 M5.5 8.5 H11.5"/></svg>
 <span style="left:36px">Story</span>
</div>
<!-- Share / Print -->
<div class="pill" style="left:795.5px;width:119.5px;border-radius:16px">
 <svg class="abs" style="left:11px;top:8px" width="17" height="17" viewBox="0 0 17 17" fill="none" stroke="#9ca3ad" stroke-width="1.4"><circle cx="13" cy="3.3" r="2.2"/><circle cx="3.6" cy="8.5" r="2.2"/><circle cx="13" cy="13.7" r="2.2"/><path d="M5.6 7.4 L11 4.4 M5.6 9.6 L11 12.6"/></svg>
 <span style="left:36px">Share / Print</span>
</div>

<!-- compass -->
<div class="abs" style="left:858px;top:79px;width:56px;height:56px;border-radius:28px;background:#fff;box-shadow:0 1px 3px rgba(0,0,0,.12)">
 <svg class="abs" style="left:0;top:0" width="56" height="56" viewBox="0 0 56 56">
  <text x="28" y="6.9" font-family="Liberation Sans" font-size="5.4" fill="#666" text-anchor="middle">N</text>
  <path d="M2.8 28 H7.8 M48.2 28 H53.2" stroke="#222" stroke-width=".8"/>
  <path d="M28 48.9 V53" stroke="#777" stroke-width="1.5"/>
  <g fill="#777"><circle cx="10" cy="13" r=".9"/><circle cx="46" cy="13" r=".9"/><circle cx="10" cy="43" r=".9"/><circle cx="46" cy="43" r=".9"/></g>
  <circle cx="28" cy="28" r="17.9" fill="#d3d7dc"/>
  <circle cx="28" cy="28" r="13.9" fill="#687183"/>
  <g fill="none" stroke="#fff" stroke-width=".95"><circle cx="28" cy="28" r="9.6"/><path d="M19.6 36.6 L36.8 19.6"/><ellipse cx="28" cy="28" rx="9.6" ry="2.8" transform="rotate(45 28 28)"/><ellipse cx="28" cy="28" rx="9.6" ry="2.8" transform="rotate(-45 28 28)"/></g>
 </svg>
</div>
<!-- zoom pill -->
<div class="abs" style="left:870px;top:152.5px;width:32px;height:108px;border-radius:16px;background:#fff;box-shadow:0 1px 3px rgba(0,0,0,.15)">
 <svg class="abs" style="left:0;top:0" width="32" height="108" viewBox="0 0 32 108" fill="none" stroke="#4a5362" stroke-width="1.9" stroke-linecap="round" stroke-linejoin="round">
  <path d="M16 9.2 V20.4 M10.4 14.8 H21.6"/>
  <path d="M8.6 49.6 L16 42.6 L23.4 49.6 V59.2 H19 V53.8 H13 V59.2 H8.6 Z"/>
  <path d="M10.4 86.8 H21.6"/>
 </svg>
</div>
<!-- my location -->
<div class="circ" style="top:271px">
 <svg class="abs" style="left:0;top:0" width="32" height="32" viewBox="0 0 32 32" fill="none" stroke="#3f4854" stroke-width="1.7" stroke-linecap="round"><circle cx="16" cy="16" r="6"/><circle cx="16" cy="16" r="2" fill="#3f4854" stroke="none"/><path d="M16 6.5 V10 M16 22 V25.5 M6.5 16 H10 M22 16 H25.5"/></svg>
</div>
<!-- splitter -->
<div class="circ" style="top:312.5px">
 <svg class="abs" style="left:0;top:0" width="32" height="32" viewBox="0 0 32 32" fill="none" stroke="#3f4854" stroke-width="1.8" stroke-linejoin="round"><rect x="6.4" y="9.3" width="19.2" height="13.4" rx="1.2"/><path d="M16 9.3 V22.7" stroke-width="1.5"/><circle cx="16" cy="16" r="2.4" fill="#3f4854" stroke="none"/></svg>
</div>
<!-- pedestrian -->
<div class="circ" style="top:354.5px">
 <svg class="abs" style="left:0;top:0" width="32" height="32" viewBox="0 0 32 32" fill="#3f4854"><circle cx="16" cy="9" r="2"/><path d="M10.3 12 H21.7 V14.2 H18.4 V24.5 H16.7 V19.5 H15.3 V24.5 H13.6 V14.2 H10.3 Z"/></svg>
</div>
<!-- measure -->
<div class="circ" style="top:395.5px">
 <svg class="abs" style="left:0;top:0" width="32" height="32" viewBox="0 0 32 32" fill="none" stroke="#3f4854" stroke-width="1.5"><circle cx="10" cy="13.5" r="2.2"/><circle cx="22" cy="13.5" r="2.2"/><path d="M12.2 13.5 H19.8"/><path d="M7.6 19.2 V21.6 M9.9 19.2 V22.8 M12.2 19.2 V21.6 M14.5 19.2 V23.2 M16.8 19.2 V21.6 M19.1 19.2 V23.2 M21.4 19.2 V21.6 M23.7 19.2 V22.8" stroke-width="1"/></svg>
</div>

</div>
<div id="side">
<!-- logo -->
<svg class="abs" style="left:0;top:0" width="130" height="68" viewBox="0 0 130 68">
 <path d="M18.8 30.2 C29 19.5 42 9.5 55 8.5 C67 7.8 80 18 99 27.3 C89 30.5 77 30 67 25.5 C59 21.5 53 19.5 46 20.3 C37 21.5 28 26.5 18.8 30.2 Z" fill="#6fcbe6"/>
 <g fill="none" stroke="#dcdde0" stroke-width="1.9" stroke-linecap="round" stroke-linejoin="round">
  <path d="M23.2 39.5 V55.5 Q23.2 59.3 27 59.3 H28.5"/><path d="M21.3 44.5 H28.8"/>
  <path d="M33.2 51.3 H46.6 C46.6 46.5 43.6 43.3 40 43.3 C36 43.3 33.2 46.8 33.2 51.3 C33.2 56 36.2 59.3 40.3 59.3 C42.8 59.3 44.8 58.2 46 56.5"/>
  <path d="M52.3 59.3 V49.5 Q52.3 43.3 58.5 43.3"/>
  <path d="M63.6 59.3 V49.5 Q63.6 43.3 69.8 43.3"/>
  <path d="M74.7 43.5 V59.3"/>
  <circle cx="88.3" cy="51.3" r="8"/><path d="M96.3 43.5 V59.3"/>
 </g>
 <circle cx="74.7" cy="36.2" r="1.25" fill="#dcdde0"/>
</svg>
<!-- search -->
<div id="search">
 <svg class="abs" style="left:10px;top:10px" width="22" height="22" viewBox="0 0 22 22"><circle cx="9.3" cy="9.3" r="6" fill="none" stroke="#8f8f96" stroke-width="1.6"/><path d="M14 14 L17.5 17.2" stroke="#8f8f96" stroke-width="1.6" stroke-linecap="round"/></svg>
 <span>Search for locations</span>
</div>
<!-- big buttons -->
<div class="bigbtn" style="left:5px;width:200px">
 <svg class="abs" style="left:26px;top:10px" width="21" height="21" viewBox="0 0 21 21"><circle cx="10.5" cy="10.5" r="9" fill="none" stroke="#fff" stroke-width="1.6"/><path d="M10.5 6 V15 M6 10.5 H15" stroke="#fff" stroke-width="1.6" stroke-linecap="round"/></svg>
 <span style="left:55px;font-size:15px;top:12px">Explore map data</span>
</div>
<div class="bigbtn" style="left:215px;width:130px">
 <svg class="abs" style="left:25px;top:11px" width="22" height="20" viewBox="0 0 22 20"><path d="M2 12 V17.5 H20 V12" fill="none" stroke="#fff" stroke-width="1.7" stroke-linecap="round" stroke-linejoin="round"/><path d="M11 13.5 V6" stroke="#fff" stroke-width="1.7" stroke-linecap="round"/><path d="M6.8 7 L11 2 L15.2 7 Z" fill="#fff"/></svg>
 <span style="left:54px;font-size:15.5px;top:11.5px">Upload</span>
</div>
<div class="hr" style="top:164px"></div>
<div id="dshead">
 <span style="left:15px">DATA SETS (1)</span>
 <svg class="abs" style="left:165px;top:12px" width="13" height="13" viewBox="0 0 13 13"><circle cx="6.5" cy="6.5" r="5.3" fill="none" stroke="#fff" stroke-width="1.1"/><path d="M3.8 6.5 H9.2" stroke="#fff" stroke-width="1.1"/></svg>
 <span style="left:182px;font-size:12.5px;top:11px">Remove All</span>
 <span style="left:269px;font-size:12.5px;top:11px">Collapse All</span>
</div>
<div class="hr" style="top:203px"></div>
<!-- dataset panel -->
<div id="panel">
 <div id="phead">
  <div class="abs" style="left:15px;top:12px;width:14px;height:14px;border:1.5px solid #fff;border-radius:1px"><div class="abs" style="left:1.5px;top:1.5px;width:8px;height:8px;background:#fff"></div></div>
  <span class="abs" style="left:34px;top:10.5px;font-size:14px;white-space:nowrap">NSWLGANEXIS2012</span>
  <div class="abs" style="left:321px;top:17px;width:0;height:0;border-left:4.5px solid transparent;border-right:4.5px solid transparent;border-top:5px solid #fff"></div>
 </div>
 <div class="sbtn" style="left:10px;width:134px;background:#596373;color:#b6bcc6">
  <svg class="abs" style="left:20px;top:8px" width="16" height="16" viewBox="0 0 16 16"><circle cx="6.8" cy="6.8" r="5" fill="none" stroke="#b6bcc6" stroke-width="1.3"/><path d="M10.6 10.6 L13.6 13.4" stroke="#b6bcc6" stroke-width="1.3" stroke-linecap="round"/></svg>
  <span style="left:41px;font-size:12px;top:9.5px">IDEAL ZOOM</span>
 </div>
 <div class="sbtn" style="left:155px;width:138px;background:#3f4854;color:#fff">
  <svg class="abs" style="left:18px;top:7px" width="18" height="18" viewBox="0 0 18 18"><path d="M2 1.5 H16 Q17 1.5 17 2.5 V12 Q17 13 16 13 H5.5 L2 16.5 Q1 17 1 16 V2.5 Q1 1.5 2 1.5 Z" fill="#fff"/><path d="M4 4.7 H14 M4 7.3 H14 M4 9.9 H11" stroke="#3f4854" stroke-width="1.2"/></svg>
  <span style="left:41px;font-size:12.3px;top:9.5px">ABOUT DATA</span>
 </div>
 <div class="sbtn" style="left:303px;width:32px;background:#3f4854">
  <svg class="abs" style="left:0;top:0" width="32" height="32" viewBox="0 0 32 32"><circle cx="16" cy="9.7" r="1.8" fill="#fff"/><circle cx="16" cy="15.9" r="1.8" fill="#fff"/><circle cx="16" cy="22.1" r="1.8" fill="#fff"/></svg>
 </div>
 <span class="abs" style="left:10px;top:93px;font-size:12.1px;white-space:nowrap">Opacity: 80 %</span>
 <div class="abs" style="left:126px;top:100.5px;width:204px;height:2px;background:#8a93a0;border-radius:1px"></div>
 <div class="abs" style="left:126px;top:100.5px;width:163px;height:2px;background:#fff;border-radius:1px"></div>
 <div class="abs" style="left:283.5px;top:95.5px;width:12px;height:12px;border-radius:6px;background:#fff"></div>
 <span class="abs" style="left:10px;top:118px;font-size:14px">Color:</span>
 <div id="select">
  <div class="abs" style="left:10px;top:7px;width:1px;height:20px;background:#222"></div>
  <span class="abs" style="left:10px;top:7.5px;font-size:15.5px">Red</span>
  <div class="abs" style="left:284px;top:7px;width:1px;height:20px;background:#ccc"></div>
  <svg class="abs" style="left:296px;top:11px" width="14" height="12" viewBox="0 0 14 12"><path d="M2 3 L7 8 L12 3" fill="none" stroke="#555" stroke-width="1.8" stroke-linecap="round" stroke-linejoin="round"/></svg>
 </div>
 <div id="menu">
  <div class="opt" style="top:4px;background:#519ac2;color:#fff"><span>Red</span></div>
  <div class="opt" style="top:42.5px;background:#ddd;color:#333"><span>Blue</span></div>
 </div>
 <div class="abs" style="left:15px;top:280px;width:330px;font-size:13.9px;line-height:19.5px"><b>Regions:</b> Local Government Areas 2013 by code (ABS)</div>
 <span class="legt" style="left:10px;top:348px;font-weight:bold;font-size:13px">Population Estimate</span>
 <div class="leg" style="top:371px;background:#67000d"></div><span class="legt" style="top:377px">301,391</span>
 <div class="leg" style="top:393px;background:#b11218"></div><span class="legt" style="top:399px">251,170</span>
 <div class="leg" style="top:415px;background:#e32f27"></div><span class="legt" style="top:421px">200,950</span>
 <div class="leg" style="top:437px;background:#fb6b4b"></div><span class="legt" style="top:443px">150,729</span>
 <div class="leg" style="top:459px;background:#fca082"></div><span class="legt" style="top:465px">100,508</span>
 <div class="leg" style="top:481px;background:#fdd4c2"></div><span class="legt" style="top:487px">50,288</span>
 <div class="leg" style="top:503px;background:#fff5f0"></div><span class="legt" style="top:509px">67</span>
 <div class="leg" style="top:529px;height:23px;border:1px solid #111;background:#66707f"></div><span class="legt" style="top:535px;left:39px;font-size:11.7px">(No value)</span>
</div>

</div>
<div id="edge"></div>
</div>
</body>
</html>
